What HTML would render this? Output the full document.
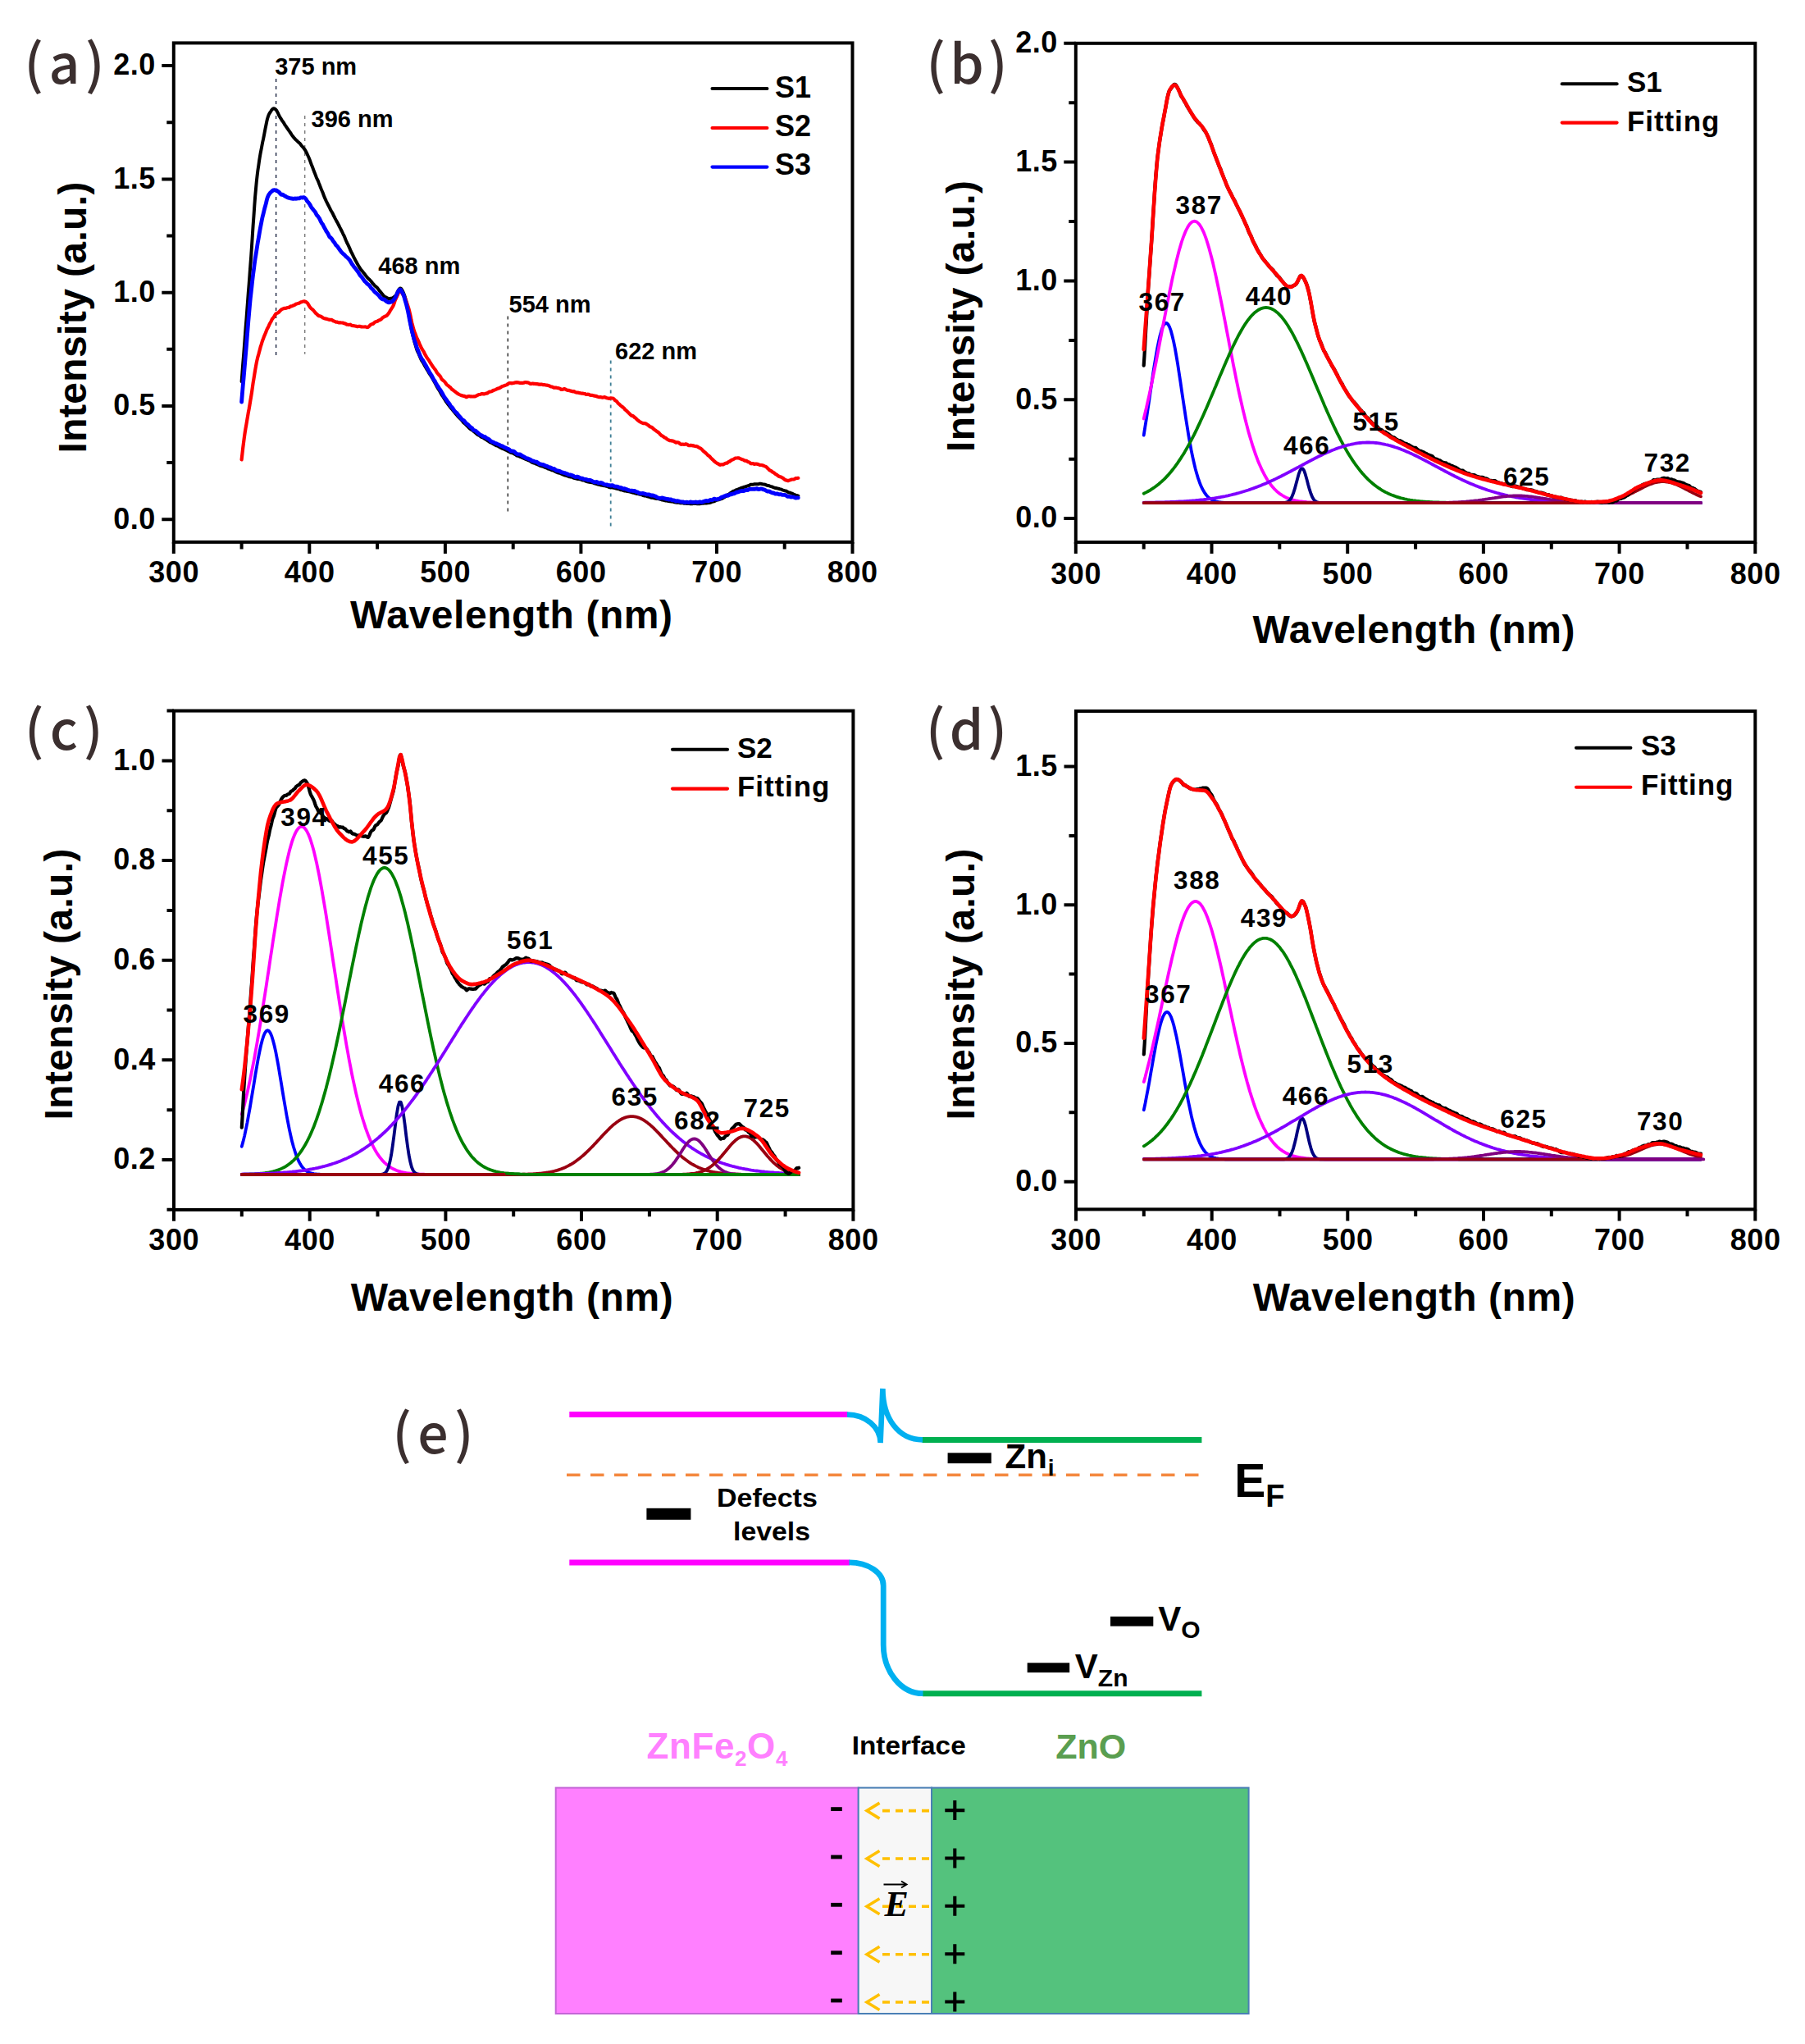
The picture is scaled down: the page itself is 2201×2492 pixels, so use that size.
<!DOCTYPE html>
<html><head><meta charset="utf-8"><title>PL spectra</title>
<style>html,body{margin:0;padding:0;background:#fff}svg{display:block}</style></head>
<body>
<svg width="2201" height="2492" viewBox="0 0 2201 2492">
<rect width="2201" height="2492" fill="#fff"/>
<line x1="336.6" y1="96.0" x2="336.6" y2="434.5" stroke="#1a2340" stroke-width="1.4" stroke-dasharray="4 5"/>
<line x1="371.7" y1="141.0" x2="371.7" y2="431.7" stroke="#7a7a7a" stroke-width="1.4" stroke-dasharray="4 5"/>
<line x1="619.3" y1="385.5" x2="619.3" y2="624.2" stroke="#222" stroke-width="1.4" stroke-dasharray="4 5"/>
<line x1="744.7" y1="439.5" x2="744.7" y2="644.4" stroke="#3f7f95" stroke-width="1.8" stroke-dasharray="4 5"/>
<polyline fill="none" stroke="#000" stroke-width="4.0" stroke-linejoin="round" stroke-linecap="round"  points="294.6,465.2 295.4,454.5 296.2,443.7 297.1,433.0 297.9,422.3 298.7,411.4 299.5,400.3 300.4,389.5 301.2,378.7 302.0,367.9 302.8,357.0 303.7,345.9 304.5,334.9 305.3,323.9 306.2,312.5 307.0,300.2 307.8,287.6 308.6,275.1 309.5,262.9 310.3,251.2 311.1,240.2 312.0,230.2 312.8,221.4 313.6,214.2 314.4,207.8 315.3,201.9 316.1,196.1 316.9,191.0 317.7,186.3 318.6,181.9 319.4,177.6 320.2,173.4 321.1,169.4 321.9,165.4 322.7,161.1 323.5,156.8 324.4,152.5 325.2,148.5 326.0,145.0 326.9,142.1 327.7,139.9 328.5,138.4 329.3,137.1 330.2,135.8 331.0,134.5 331.8,133.5 332.6,132.8 333.5,132.3 334.3,132.3 335.1,132.6 336.0,133.3 336.8,134.1 337.6,135.3 338.4,136.9 339.3,138.7 340.1,140.5 340.9,141.9 341.7,143.3 342.6,144.7 343.4,146.1 344.2,147.3 345.1,148.4 345.9,149.6 346.7,151.0 347.5,152.4 348.4,153.6 349.2,154.7 350.0,156.0 350.9,157.2 351.7,158.4 352.5,159.5 353.3,160.7 354.2,162.0 355.0,163.2 355.8,164.5 356.6,165.7 357.5,166.7 358.3,167.7 359.1,168.7 360.0,169.7 360.8,170.5 361.6,171.1 362.4,171.9 363.3,172.8 364.1,173.6 364.9,174.3 365.8,175.1 366.6,176.1 367.4,177.2 368.2,178.2 369.1,179.1 369.9,180.0 370.7,181.1 371.5,182.2 372.4,183.5 373.2,184.9 374.0,186.7 374.9,188.5 375.7,190.3 376.5,192.0 377.3,194.0 378.2,196.3 379.0,198.6 379.8,200.8 380.7,202.9 381.5,205.0 382.3,207.2 383.1,209.4 384.0,211.5 384.8,213.6 385.6,215.7 386.4,217.6 387.3,219.4 388.1,221.3 388.9,223.4 389.8,225.6 390.6,227.7 391.4,229.8 392.2,231.7 393.1,233.7 393.9,235.8 394.7,238.0 395.5,240.1 396.4,242.1 397.2,243.9 398.0,245.6 398.9,247.4 399.7,249.0 400.5,250.5 401.3,252.1 402.2,253.9 403.0,255.7 403.8,257.1 404.7,258.5 405.5,259.9 406.3,261.6 407.1,263.3 408.0,265.0 408.8,266.6 409.6,268.1 410.4,269.6 411.3,271.1 412.1,272.6 412.9,274.3 413.8,276.0 414.6,277.6 415.4,279.1 416.2,280.8 417.1,282.5 417.9,284.3 418.7,286.0 419.6,287.6 420.4,289.4 421.2,291.4 422.0,293.5 422.9,295.5 423.7,297.1 424.5,298.7 425.3,300.4 426.2,302.3 427.0,304.4 427.8,306.3 428.7,307.9 429.5,309.5 430.3,311.1 431.1,312.8 432.0,314.6 432.8,316.2 433.6,317.8 434.5,319.3 435.3,320.8 436.1,322.2 436.9,323.6 437.8,325.0 438.6,326.4 439.4,327.7 440.2,328.8 441.1,329.8 441.9,330.8 442.7,331.9 443.6,332.9 444.4,333.8 445.2,334.9 446.0,336.0 446.9,337.1 447.7,338.2 448.5,339.0 449.3,339.8 450.2,340.5 451.0,341.3 451.8,342.1 452.7,343.1 453.5,344.2 454.3,345.3 455.1,346.2 456.0,347.2 456.8,348.1 457.6,348.9 458.5,349.5 459.3,350.2 460.1,351.0 460.9,352.1 461.8,353.2 462.6,354.3 463.4,355.2 464.2,356.1 465.1,357.2 465.9,358.2 466.7,359.3 467.6,360.2 468.4,361.2 469.2,361.7 470.0,362.1 470.9,362.6 471.7,363.0 472.5,363.4 473.4,363.9 474.2,364.2 475.0,364.2 475.8,364.0 476.7,363.8 477.5,363.7 478.3,363.4 479.1,363.0 480.0,362.5 480.8,361.9 481.6,361.1 482.5,360.5 483.3,359.3 484.1,357.6 484.9,355.6 485.8,354.0 486.6,352.7 487.4,351.8 488.3,351.5 489.1,351.9 489.9,352.9 490.7,354.4 491.6,356.2 492.4,358.1 493.2,360.2 494.0,362.7 494.9,365.7 495.7,369.1 496.5,373.0 497.4,377.1 498.2,381.6 499.0,386.3 499.8,391.1 500.7,395.8 501.5,400.4 502.3,404.4 503.2,407.8 504.0,411.0 504.8,414.3 505.6,417.4 506.5,420.3 507.3,423.2 508.1,425.8 508.9,428.0 509.8,429.7 510.6,431.5 511.4,433.4 512.3,435.5 513.1,437.4 513.9,439.1 514.7,440.4 515.6,441.7 516.4,443.1 517.2,444.6 518.0,446.1 518.9,447.5 519.7,448.9 520.5,450.3 521.4,451.7 522.2,453.1 523.0,454.5 523.8,455.9 524.7,457.2 525.5,458.4 526.3,459.6 527.2,461.1 528.0,462.6 528.8,464.0 529.6,465.4 530.5,466.9 531.3,468.5 532.1,470.1 532.9,471.7 533.8,473.1 534.6,474.4 535.4,475.6 536.3,477.0 537.1,478.5 537.9,480.1 538.7,481.5 539.6,482.7 540.4,483.9 541.2,485.2 542.1,486.6 542.9,488.0 543.7,489.3 544.5,490.5 545.4,491.6 546.2,492.7 547.0,493.7 547.8,494.9 548.7,496.1 549.5,497.0 550.3,498.0 551.2,498.9 552.0,499.9 552.8,500.9 553.6,501.9 554.5,503.0 555.3,504.1 556.1,505.0 557.0,505.9 557.8,506.9 558.6,507.8 559.4,508.7 560.3,509.6 561.1,510.4 561.9,511.2 562.7,512.0 563.6,513.0 564.4,514.2 565.2,515.2 566.1,516.0 566.9,516.6 567.7,517.3 568.5,518.2 569.4,519.1 570.2,519.9 571.0,520.7 571.8,521.5 572.7,522.4 573.5,523.1 574.3,523.6 575.2,524.0 576.0,524.6 576.8,525.2 577.6,525.9 578.5,526.6 579.3,527.3 580.1,528.0 581.0,528.8 581.8,529.5 582.6,530.0 583.4,530.5 584.3,530.9 585.1,531.4 585.9,532.1 586.7,532.7 587.6,533.1 588.4,533.3 589.2,533.8 590.1,534.3 590.9,534.9 591.7,535.4 592.5,535.8 593.4,536.4 594.2,537.0 595.0,537.6 595.9,538.1 596.7,538.7 597.5,539.1 598.3,539.5 599.2,539.8 600.0,540.2 600.8,540.7 601.6,541.3 602.5,541.8 603.3,542.3 604.1,542.7 605.0,543.2 605.8,543.4 606.6,543.7 607.4,544.0 608.3,544.5 609.1,545.0 609.9,545.4 610.8,545.9 611.6,546.4 612.4,546.8 613.2,547.1 614.1,547.3 614.9,547.7 615.7,548.1 616.5,548.5 617.4,548.8 618.2,549.2 619.0,549.7 619.9,550.2 620.7,550.6 621.5,551.0 622.3,551.5 623.2,551.8 624.0,552.1 624.8,552.3 625.7,552.5 626.5,553.0 627.3,553.5 628.1,554.1 629.0,554.6 629.8,555.2 630.6,555.6 631.4,555.8 632.3,555.9 633.1,556.3 633.9,556.8 634.8,557.0 635.6,557.3 636.4,557.7 637.2,558.2 638.1,558.5 638.9,558.8 639.7,559.3 640.5,559.7 641.4,560.0 642.2,560.3 643.0,560.7 643.9,561.0 644.7,561.3 645.5,561.6 646.3,562.0 647.2,562.6 648.0,563.2 648.8,563.7 649.7,564.1 650.5,564.4 651.3,564.5 652.1,564.8 653.0,565.3 653.8,565.7 654.6,565.9 655.4,566.2 656.3,566.6 657.1,567.0 657.9,567.4 658.8,567.8 659.6,568.1 660.4,568.4 661.2,568.6 662.1,568.7 662.9,569.0 663.7,569.5 664.6,569.9 665.4,570.2 666.2,570.4 667.0,570.7 667.9,571.3 668.7,571.6 669.5,571.8 670.3,572.0 671.2,572.4 672.0,572.8 672.8,573.2 673.7,573.4 674.5,573.6 675.3,573.9 676.1,574.4 677.0,574.8 677.8,575.2 678.6,575.6 679.5,576.1 680.3,576.4 681.1,576.6 681.9,576.7 682.8,576.8 683.6,577.1 684.4,577.6 685.2,578.0 686.1,578.3 686.9,578.7 687.7,579.1 688.6,579.4 689.4,579.5 690.2,579.7 691.0,580.0 691.9,580.4 692.7,580.7 693.5,581.0 694.3,581.2 695.2,581.4 696.0,581.5 696.8,581.6 697.7,581.8 698.5,582.2 699.3,582.6 700.1,582.9 701.0,583.0 701.8,583.2 702.6,583.5 703.5,583.7 704.3,583.9 705.1,584.0 705.9,584.1 706.8,584.2 707.6,584.4 708.4,584.6 709.2,585.0 710.1,585.3 710.9,585.5 711.7,585.6 712.6,585.8 713.4,586.2 714.2,586.6 715.0,586.9 715.9,587.2 716.7,587.4 717.5,587.5 718.4,587.7 719.2,587.9 720.0,588.0 720.8,588.0 721.7,588.2 722.5,588.3 723.3,588.6 724.1,588.9 725.0,589.4 725.8,589.6 726.6,589.8 727.5,590.0 728.3,590.3 729.1,590.5 729.9,590.7 730.8,590.9 731.6,591.2 732.4,591.5 733.3,591.6 734.1,591.7 734.9,591.9 735.7,592.1 736.6,592.2 737.4,592.2 738.2,592.4 739.0,592.7 739.9,592.9 740.7,593.2 741.5,593.5 742.4,593.9 743.2,594.2 744.0,594.3 744.8,594.3 745.7,594.3 746.5,594.3 747.3,594.5 748.1,594.7 749.0,594.9 749.8,595.1 750.6,595.3 751.5,595.6 752.3,595.8 753.1,596.0 753.9,596.1 754.8,596.2 755.6,596.6 756.4,597.0 757.3,597.3 758.1,597.3 758.9,597.5 759.7,597.8 760.6,598.2 761.4,598.4 762.2,598.5 763.0,598.6 763.9,598.8 764.7,598.9 765.5,599.0 766.4,599.2 767.2,599.3 768.0,599.5 768.8,599.7 769.7,600.0 770.5,600.3 771.3,600.5 772.2,600.7 773.0,600.9 773.8,601.2 774.6,601.4 775.5,601.7 776.3,601.9 777.1,602.0 777.9,602.1 778.8,602.3 779.6,602.5 780.4,602.7 781.3,602.9 782.1,603.2 782.9,603.4 783.7,603.8 784.6,604.2 785.4,604.5 786.2,604.6 787.1,604.6 787.9,604.7 788.7,605.0 789.5,605.4 790.4,605.6 791.2,605.7 792.0,605.9 792.8,606.2 793.7,606.6 794.5,606.8 795.3,606.8 796.2,606.8 797.0,607.1 797.8,607.3 798.6,607.5 799.5,607.7 800.3,608.0 801.1,608.1 802.0,608.1 802.8,608.1 803.6,608.3 804.4,608.6 805.3,608.8 806.1,609.0 806.9,609.3 807.7,609.6 808.6,609.7 809.4,609.8 810.2,610.0 811.1,610.3 811.9,610.5 812.7,610.4 813.5,610.5 814.4,610.8 815.2,611.0 816.0,611.0 816.8,611.2 817.7,611.4 818.5,611.6 819.3,611.6 820.2,611.6 821.0,611.8 821.8,612.0 822.6,612.3 823.5,612.4 824.3,612.6 825.1,612.7 826.0,612.8 826.8,612.8 827.6,612.8 828.4,612.8 829.3,613.2 830.1,613.3 830.9,613.3 831.7,613.2 832.6,613.2 833.4,613.5 834.2,613.7 835.1,613.8 835.9,613.7 836.7,613.8 837.5,614.0 838.4,614.0 839.2,614.0 840.0,613.9 840.9,614.0 841.7,614.2 842.5,614.3 843.3,614.3 844.2,614.2 845.0,614.1 845.8,614.0 846.6,614.0 847.5,613.9 848.3,614.0 849.1,614.1 850.0,614.2 850.8,614.3 851.6,614.3 852.4,614.3 853.3,614.2 854.1,614.0 854.9,613.9 855.8,613.8 856.6,613.8 857.4,613.7 858.2,613.6 859.1,613.5 859.9,613.5 860.7,613.6 861.5,613.6 862.4,613.4 863.2,613.2 864.0,613.1 864.9,613.0 865.7,612.9 866.5,612.6 867.3,612.2 868.2,611.8 869.0,611.6 869.8,611.6 870.6,611.4 871.5,611.0 872.3,610.5 873.1,610.0 874.0,609.7 874.8,609.6 875.6,609.5 876.4,609.2 877.3,609.0 878.1,608.7 878.9,608.4 879.8,608.1 880.6,607.7 881.4,607.2 882.2,606.7 883.1,606.3 883.9,605.9 884.7,605.4 885.5,604.7 886.4,604.0 887.2,603.5 888.0,603.0 888.9,602.5 889.7,602.0 890.5,601.3 891.3,600.8 892.2,600.3 893.0,599.6 893.8,599.0 894.7,598.7 895.5,598.5 896.3,598.1 897.1,597.6 898.0,597.2 898.8,597.1 899.6,596.8 900.4,596.4 901.3,595.9 902.1,595.6 902.9,595.3 903.8,594.9 904.6,594.6 905.4,594.4 906.2,594.2 907.1,593.8 907.9,593.7 908.7,593.5 909.6,593.1 910.4,592.8 911.2,592.6 912.0,592.3 912.9,592.1 913.7,591.7 914.5,591.3 915.3,590.8 916.2,590.7 917.0,590.8 917.8,590.8 918.7,590.6 919.5,590.3 920.3,590.3 921.1,590.3 922.0,590.3 922.8,590.3 923.6,590.3 924.4,590.2 925.3,590.0 926.1,589.8 926.9,589.8 927.8,589.8 928.6,589.9 929.4,590.1 930.2,590.4 931.1,590.6 931.9,590.6 932.7,590.7 933.6,591.0 934.4,591.4 935.2,591.8 936.0,592.0 936.9,592.0 937.7,592.2 938.5,592.5 939.3,592.8 940.2,593.1 941.0,593.3 941.8,593.6 942.7,594.0 943.5,594.4 944.3,594.6 945.1,594.9 946.0,595.0 946.8,595.2 947.6,595.3 948.5,595.6 949.3,595.8 950.1,596.0 950.9,596.2 951.8,596.4 952.6,596.7 953.4,597.0 954.2,597.4 955.1,597.7 955.9,597.9 956.7,598.2 957.6,598.4 958.4,598.5 959.2,598.9 960.0,599.4 960.9,600.0 961.7,600.4 962.5,600.5 963.4,600.7 964.2,601.0 965.0,601.3 965.8,601.6 966.7,602.0 967.5,602.5 968.3,602.8 969.1,603.2 970.0,603.6 970.8,603.9 971.6,604.1 972.5,604.2 973.3,604.6"/>
<polyline fill="none" stroke="#ff0000" stroke-width="4.2" stroke-linejoin="round" stroke-linecap="round"  points="294.6,560.4 295.4,553.5 296.2,546.2 297.1,539.2 297.9,532.9 298.7,527.4 299.5,522.3 300.4,517.3 301.2,512.5 302.0,507.8 302.8,503.0 303.7,498.4 304.5,493.6 305.3,488.6 306.2,483.4 307.0,478.3 307.8,472.7 308.6,467.0 309.5,461.7 310.3,456.7 311.1,451.7 312.0,446.5 312.8,442.1 313.6,438.4 314.4,435.1 315.3,432.1 316.1,429.0 316.9,425.9 317.7,422.9 318.6,420.2 319.4,417.5 320.2,415.0 321.1,412.7 321.9,410.6 322.7,408.6 323.5,406.7 324.4,404.6 325.2,402.4 326.0,400.6 326.9,399.1 327.7,397.4 328.5,395.5 329.3,394.0 330.2,392.5 331.0,390.9 331.8,389.1 332.6,388.1 333.5,387.1 334.3,385.9 335.1,384.5 336.0,383.1 336.8,382.3 337.6,381.9 338.4,381.6 339.3,381.1 340.1,380.5 340.9,379.6 341.7,378.7 342.6,377.9 343.4,377.3 344.2,376.8 345.1,376.4 345.9,376.1 346.7,375.9 347.5,375.8 348.4,375.8 349.2,375.6 350.0,375.3 350.9,375.0 351.7,374.9 352.5,374.9 353.3,374.2 354.2,373.6 355.0,373.4 355.8,373.2 356.6,372.9 357.5,372.5 358.3,372.2 359.1,371.9 360.0,371.4 360.8,370.8 361.6,370.5 362.4,370.3 363.3,370.0 364.1,369.8 364.9,369.6 365.8,369.0 366.6,368.5 367.4,368.2 368.2,368.0 369.1,367.7 369.9,367.5 370.7,367.4 371.5,367.4 372.4,367.7 373.2,368.1 374.0,368.7 374.9,369.5 375.7,370.7 376.5,372.1 377.3,373.6 378.2,374.8 379.0,375.6 379.8,376.3 380.7,377.0 381.5,377.7 382.3,378.5 383.1,379.5 384.0,380.6 384.8,381.7 385.6,382.4 386.4,383.0 387.3,383.9 388.1,384.6 388.9,385.1 389.8,385.3 390.6,385.6 391.4,385.8 392.2,386.3 393.1,386.9 393.9,387.6 394.7,387.9 395.5,388.2 396.4,388.4 397.2,388.6 398.0,388.7 398.9,389.0 399.7,389.3 400.5,389.5 401.3,389.8 402.2,390.0 403.0,389.8 403.8,389.8 404.7,390.0 405.5,390.6 406.3,391.2 407.1,391.4 408.0,391.8 408.8,392.2 409.6,392.6 410.4,392.6 411.3,392.7 412.1,393.1 412.9,393.4 413.8,393.4 414.6,393.2 415.4,393.4 416.2,393.5 417.1,393.5 417.9,393.5 418.7,393.9 419.6,394.2 420.4,394.3 421.2,394.6 422.0,395.1 422.9,395.6 423.7,395.6 424.5,395.9 425.3,396.0 426.2,396.0 427.0,395.7 427.8,396.1 428.7,396.6 429.5,397.0 430.3,397.1 431.1,397.0 432.0,397.3 432.8,397.5 433.6,397.6 434.5,397.8 435.3,398.1 436.1,398.2 436.9,398.0 437.8,397.8 438.6,397.8 439.4,398.1 440.2,398.3 441.1,398.4 441.9,398.5 442.7,398.5 443.6,398.5 444.4,398.5 445.2,398.4 446.0,398.5 446.9,398.8 447.7,399.1 448.5,399.0 449.3,398.5 450.2,397.7 451.0,396.8 451.8,396.0 452.7,395.4 453.5,395.1 454.3,395.0 455.1,394.7 456.0,393.8 456.8,393.0 457.6,392.5 458.5,392.2 459.3,392.0 460.1,391.8 460.9,391.2 461.8,390.7 462.6,390.3 463.4,390.0 464.2,389.6 465.1,388.9 465.9,388.1 466.7,387.3 467.6,386.7 468.4,386.1 469.2,385.8 470.0,385.6 470.9,385.2 471.7,384.6 472.5,383.6 473.4,382.7 474.2,381.6 475.0,380.2 475.8,378.7 476.7,377.3 477.5,376.1 478.3,374.9 479.1,373.5 480.0,371.7 480.8,369.3 481.6,366.7 482.5,364.6 483.3,362.8 484.1,361.2 484.9,359.5 485.8,357.3 486.6,354.9 487.4,353.3 488.3,353.1 489.1,354.4 489.9,356.3 490.7,358.2 491.6,359.7 492.4,361.0 493.2,362.3 494.0,363.9 494.9,365.9 495.7,368.1 496.5,370.5 497.4,373.1 498.2,375.6 499.0,378.5 499.8,381.9 500.7,386.0 501.5,390.3 502.3,393.8 503.2,397.1 504.0,400.2 504.8,402.8 505.6,405.0 506.5,407.3 507.3,409.6 508.1,411.6 508.9,413.4 509.8,415.0 510.6,416.8 511.4,418.8 512.3,420.8 513.1,422.6 513.9,424.3 514.7,425.8 515.6,427.1 516.4,428.3 517.2,429.8 518.0,431.6 518.9,433.1 519.7,434.5 520.5,435.9 521.4,437.2 522.2,438.2 523.0,439.3 523.8,440.7 524.7,442.2 525.5,443.5 526.3,444.7 527.2,446.1 528.0,447.2 528.8,448.3 529.6,449.3 530.5,450.3 531.3,451.6 532.1,453.1 532.9,454.4 533.8,455.5 534.6,456.5 535.4,457.3 536.3,458.2 537.1,459.3 537.9,460.9 538.7,462.4 539.6,463.2 540.4,463.8 541.2,464.5 542.1,465.3 542.9,466.3 543.7,467.5 544.5,468.7 545.4,469.5 546.2,470.0 547.0,470.6 547.8,471.4 548.7,472.0 549.5,472.7 550.3,473.7 551.2,474.8 552.0,475.2 552.8,475.8 553.6,476.5 554.5,477.3 555.3,477.8 556.1,478.4 557.0,479.1 557.8,479.7 558.6,480.1 559.4,480.7 560.3,481.1 561.1,481.4 561.9,481.8 562.7,482.2 563.6,482.3 564.4,482.6 565.2,482.8 566.1,482.9 566.9,483.1 567.7,483.7 568.5,484.1 569.4,483.9 570.2,483.4 571.0,483.2 571.8,483.1 572.7,483.2 573.5,483.3 574.3,483.3 575.2,483.4 576.0,483.5 576.8,483.5 577.6,483.3 578.5,483.3 579.3,483.3 580.1,483.0 581.0,482.5 581.8,482.1 582.6,481.8 583.4,481.3 584.3,481.0 585.1,481.0 585.9,480.8 586.7,480.4 587.6,480.0 588.4,480.0 589.2,480.4 590.1,480.5 590.9,480.3 591.7,479.9 592.5,479.6 593.4,479.6 594.2,479.4 595.0,478.9 595.9,478.2 596.7,477.6 597.5,477.6 598.3,477.5 599.2,477.3 600.0,476.9 600.8,476.4 601.6,475.9 602.5,475.7 603.3,475.4 604.1,475.1 605.0,474.7 605.8,474.2 606.6,473.8 607.4,473.6 608.3,473.4 609.1,473.0 609.9,472.6 610.8,472.1 611.6,471.5 612.4,471.0 613.2,470.8 614.1,470.5 614.9,470.2 615.7,469.9 616.5,469.7 617.4,469.3 618.2,468.9 619.0,468.4 619.9,467.8 620.7,467.3 621.5,467.0 622.3,467.1 623.2,467.2 624.0,467.3 624.8,467.2 625.7,467.0 626.5,466.9 627.3,466.7 628.1,466.4 629.0,466.2 629.8,466.3 630.6,466.2 631.4,466.3 632.3,466.4 633.1,466.7 633.9,466.8 634.8,466.9 635.6,466.9 636.4,466.8 637.2,466.8 638.1,466.8 638.9,466.6 639.7,466.2 640.5,466.0 641.4,466.1 642.2,466.4 643.0,466.4 643.9,466.4 644.7,466.7 645.5,467.3 646.3,467.8 647.2,467.9 648.0,467.9 648.8,467.7 649.7,467.6 650.5,467.8 651.3,467.9 652.1,467.9 653.0,468.0 653.8,468.2 654.6,468.1 655.4,468.2 656.3,468.4 657.1,468.6 657.9,468.7 658.8,468.8 659.6,468.6 660.4,468.6 661.2,468.8 662.1,469.2 662.9,469.2 663.7,469.1 664.6,469.3 665.4,469.5 666.2,469.6 667.0,469.7 667.9,469.8 668.7,470.0 669.5,470.3 670.3,470.7 671.2,471.2 672.0,471.4 672.8,471.5 673.7,471.8 674.5,472.2 675.3,472.6 676.1,472.6 677.0,472.5 677.8,472.6 678.6,472.8 679.5,473.0 680.3,473.1 681.1,473.3 681.9,473.5 682.8,473.8 683.6,474.4 684.4,474.9 685.2,474.9 686.1,474.8 686.9,474.5 687.7,474.2 688.6,474.2 689.4,474.5 690.2,475.0 691.0,475.4 691.9,475.8 692.7,475.9 693.5,475.9 694.3,476.1 695.2,476.4 696.0,476.7 696.8,476.8 697.7,477.1 698.5,477.3 699.3,477.2 700.1,477.1 701.0,477.8 701.8,478.3 702.6,478.5 703.5,478.6 704.3,478.6 705.1,478.7 705.9,478.9 706.8,479.1 707.6,479.3 708.4,479.5 709.2,479.6 710.1,479.6 710.9,479.7 711.7,479.9 712.6,480.0 713.4,480.1 714.2,480.6 715.0,481.0 715.9,481.0 716.7,480.7 717.5,480.8 718.4,481.1 719.2,481.5 720.0,481.8 720.8,481.8 721.7,481.8 722.5,482.0 723.3,482.2 724.1,482.4 725.0,482.6 725.8,482.8 726.6,482.9 727.5,483.1 728.3,483.5 729.1,483.8 729.9,484.0 730.8,484.2 731.6,484.2 732.4,484.2 733.3,484.3 734.1,484.6 734.9,484.6 735.7,484.5 736.6,484.2 737.4,484.2 738.2,484.5 739.0,484.9 739.9,485.2 740.7,485.4 741.5,485.5 742.4,485.9 743.2,485.8 744.0,485.5 744.8,485.3 745.7,485.5 746.5,485.5 747.3,485.6 748.1,486.0 749.0,486.8 749.8,487.9 750.6,488.4 751.5,488.9 752.3,489.7 753.1,490.9 753.9,491.8 754.8,492.5 755.6,493.3 756.4,494.1 757.3,494.8 758.1,495.4 758.9,496.1 759.7,496.6 760.6,497.3 761.4,498.3 762.2,499.4 763.0,500.0 763.9,500.8 764.7,501.6 765.5,502.4 766.4,503.1 767.2,504.0 768.0,504.8 768.8,505.7 769.7,506.4 770.5,506.9 771.3,506.9 772.2,507.4 773.0,508.1 773.8,508.9 774.6,509.4 775.5,510.1 776.3,511.0 777.1,511.8 777.9,512.5 778.8,513.1 779.6,513.8 780.4,514.3 781.3,514.7 782.1,515.2 782.9,515.6 783.7,515.9 784.6,516.1 785.4,516.1 786.2,516.2 787.1,516.3 787.9,516.7 788.7,517.3 789.5,517.8 790.4,518.4 791.2,518.9 792.0,519.8 792.8,520.4 793.7,520.6 794.5,520.8 795.3,521.3 796.2,522.2 797.0,523.0 797.8,523.6 798.6,524.2 799.5,524.8 800.3,525.5 801.1,526.1 802.0,526.6 802.8,527.1 803.6,527.8 804.4,528.8 805.3,529.8 806.1,530.6 806.9,531.2 807.7,531.4 808.6,532.0 809.4,532.8 810.2,533.4 811.1,533.8 811.9,534.0 812.7,534.8 813.5,535.5 814.4,536.1 815.2,536.4 816.0,536.9 816.8,537.2 817.7,537.2 818.5,537.3 819.3,537.4 820.2,537.6 821.0,537.8 821.8,538.1 822.6,538.6 823.5,539.2 824.3,539.6 825.1,539.4 826.0,539.3 826.8,539.3 827.6,539.7 828.4,540.4 829.3,541.2 830.1,541.6 830.9,541.8 831.7,541.7 832.6,541.5 833.4,541.7 834.2,541.9 835.1,541.8 835.9,541.4 836.7,541.3 837.5,541.7 838.4,542.2 839.2,542.8 840.0,543.2 840.9,543.2 841.7,542.9 842.5,542.9 843.3,543.1 844.2,543.3 845.0,543.2 845.8,543.4 846.6,543.8 847.5,544.0 848.3,544.1 849.1,544.1 850.0,544.3 850.8,544.7 851.6,545.3 852.4,545.8 853.3,546.2 854.1,546.6 854.9,547.1 855.8,547.8 856.6,548.8 857.4,549.7 858.2,550.3 859.1,551.1 859.9,551.8 860.7,552.4 861.5,553.2 862.4,554.2 863.2,555.0 864.0,555.6 864.9,556.1 865.7,556.9 866.5,557.9 867.3,558.8 868.2,559.6 869.0,560.3 869.8,561.1 870.6,562.0 871.5,562.7 872.3,563.4 873.1,564.0 874.0,564.6 874.8,565.0 875.6,565.4 876.4,565.9 877.3,566.5 878.1,566.8 878.9,566.5 879.8,566.4 880.6,566.4 881.4,566.5 882.2,566.2 883.1,565.7 883.9,565.2 884.7,564.8 885.5,564.7 886.4,564.7 887.2,564.1 888.0,563.4 888.9,562.8 889.7,562.6 890.5,562.1 891.3,561.3 892.2,560.8 893.0,560.5 893.8,560.2 894.7,559.8 895.5,559.3 896.3,558.8 897.1,558.5 898.0,558.5 898.8,558.5 899.6,558.3 900.4,558.3 901.3,558.6 902.1,559.0 902.9,559.3 903.8,559.7 904.6,560.1 905.4,560.3 906.2,560.5 907.1,561.0 907.9,561.6 908.7,561.7 909.6,561.8 910.4,561.9 911.2,562.5 912.0,563.1 912.9,563.3 913.7,563.6 914.5,564.2 915.3,565.1 916.2,565.3 917.0,565.1 917.8,565.0 918.7,565.3 919.5,565.9 920.3,565.8 921.1,565.6 922.0,565.6 922.8,565.7 923.6,565.8 924.4,566.0 925.3,566.4 926.1,566.7 926.9,567.0 927.8,567.0 928.6,567.0 929.4,567.2 930.2,567.4 931.1,567.7 931.9,568.1 932.7,568.4 933.6,568.7 934.4,569.2 935.2,570.1 936.0,570.9 936.9,571.7 937.7,572.6 938.5,573.3 939.3,573.8 940.2,574.1 941.0,574.6 941.8,575.3 942.7,575.8 943.5,576.1 944.3,576.8 945.1,577.7 946.0,578.2 946.8,578.6 947.6,579.1 948.5,579.8 949.3,580.5 950.1,580.9 950.9,581.1 951.8,581.3 952.6,581.7 953.4,582.2 954.2,582.6 955.1,583.1 955.9,583.8 956.7,584.7 957.6,585.2 958.4,585.4 959.2,585.6 960.0,585.9 960.9,586.1 961.7,585.9 962.5,585.6 963.4,585.3 964.2,585.0 965.0,584.6 965.8,584.5 966.7,584.5 967.5,584.5 968.3,584.2 969.1,583.8 970.0,583.3 970.8,583.0 971.6,583.0 972.5,583.0 973.3,582.8"/>
<polyline fill="none" stroke="#0000ff" stroke-width="4.8" stroke-linejoin="round" stroke-linecap="round"  points="294.6,490.0 295.4,480.1 296.2,470.4 297.1,460.8 297.9,451.3 298.7,442.0 299.5,432.2 300.4,422.0 301.2,411.8 302.0,401.8 302.8,391.8 303.7,381.8 304.5,372.5 305.3,364.0 306.2,356.3 307.0,349.0 307.8,341.6 308.6,334.7 309.5,328.1 310.3,321.7 311.1,315.9 312.0,310.7 312.8,305.5 313.6,300.3 314.4,295.2 315.3,290.2 316.1,285.5 316.9,280.9 317.7,276.4 318.6,272.0 319.4,267.8 320.2,264.1 321.1,260.6 321.9,257.2 322.7,254.0 323.5,251.1 324.4,247.9 325.2,244.4 326.0,241.4 326.9,239.1 327.7,237.5 328.5,236.4 329.3,235.3 330.2,234.4 331.0,233.6 331.8,233.0 332.6,232.2 333.5,231.8 334.3,231.7 335.1,231.9 336.0,231.9 336.8,232.0 337.6,232.4 338.4,233.0 339.3,233.6 340.1,234.1 340.9,234.9 341.7,236.1 342.6,237.0 343.4,237.4 344.2,237.2 345.1,237.4 345.9,238.1 346.7,238.7 347.5,239.1 348.4,239.4 349.2,240.0 350.0,240.5 350.9,240.9 351.7,241.1 352.5,241.3 353.3,241.5 354.2,241.8 355.0,242.0 355.8,242.0 356.6,242.1 357.5,242.4 358.3,242.3 359.1,242.1 360.0,242.0 360.8,242.3 361.6,242.2 362.4,241.9 363.3,241.8 364.1,241.8 364.9,241.8 365.8,241.3 366.6,240.9 367.4,240.8 368.2,241.0 369.1,241.0 369.9,240.7 370.7,240.7 371.5,241.1 372.4,241.8 373.2,242.9 374.0,244.3 374.9,245.6 375.7,246.5 376.5,247.4 377.3,248.4 378.2,250.0 379.0,251.5 379.8,252.9 380.7,254.0 381.5,255.1 382.3,256.1 383.1,257.0 384.0,258.0 384.8,259.3 385.6,261.1 386.4,262.4 387.3,263.3 388.1,264.3 388.9,265.5 389.8,266.9 390.6,268.7 391.4,270.4 392.2,271.9 393.1,273.0 393.9,274.2 394.7,275.9 395.5,277.6 396.4,279.1 397.2,280.5 398.0,282.0 398.9,283.2 399.7,284.5 400.5,286.1 401.3,287.8 402.2,289.1 403.0,289.6 403.8,290.3 404.7,291.3 405.5,292.7 406.3,294.0 407.1,294.9 408.0,296.0 408.8,297.4 409.6,298.7 410.4,299.5 411.3,300.3 412.1,301.4 412.9,302.6 413.8,303.9 414.6,305.1 415.4,306.1 416.2,307.2 417.1,308.1 417.9,308.9 418.7,309.6 419.6,310.3 420.4,311.1 421.2,312.0 422.0,312.9 422.9,313.5 423.7,314.2 424.5,315.0 425.3,315.9 426.2,316.9 427.0,318.0 427.8,319.6 428.7,321.1 429.5,322.3 430.3,323.3 431.1,324.6 432.0,325.7 432.8,326.6 433.6,327.6 434.5,328.8 435.3,329.9 436.1,330.8 436.9,332.0 437.8,333.5 438.6,334.9 439.4,336.0 440.2,336.8 441.1,337.7 441.9,338.8 442.7,340.0 443.6,341.3 444.4,342.5 445.2,343.3 446.0,344.0 446.9,344.9 447.7,345.9 448.5,346.5 449.3,347.1 450.2,347.8 451.0,348.8 451.8,350.0 452.7,351.3 453.5,352.0 454.3,352.6 455.1,353.5 456.0,354.8 456.8,355.8 457.6,356.5 458.5,357.2 459.3,357.8 460.1,358.6 460.9,359.3 461.8,360.0 462.6,361.1 463.4,362.3 464.2,363.3 465.1,363.9 465.9,364.5 466.7,364.9 467.6,365.1 468.4,364.9 469.2,365.5 470.0,366.4 470.9,367.2 471.7,367.8 472.5,368.2 473.4,368.7 474.2,368.8 475.0,368.7 475.8,368.4 476.7,368.1 477.5,367.9 478.3,367.4 479.1,366.7 480.0,365.8 480.8,364.8 481.6,363.5 482.5,361.9 483.3,360.1 484.1,358.3 484.9,356.6 485.8,354.9 486.6,353.5 487.4,353.0 488.3,353.2 489.1,354.1 489.9,355.5 490.7,356.9 491.6,358.5 492.4,360.5 493.2,363.3 494.0,366.3 494.9,369.2 495.7,372.2 496.5,375.5 497.4,379.3 498.2,383.3 499.0,387.5 499.8,391.8 500.7,396.0 501.5,399.7 502.3,403.3 503.2,406.8 504.0,410.1 504.8,413.0 505.6,415.5 506.5,417.9 507.3,420.4 508.1,423.0 508.9,425.4 509.8,427.3 510.6,429.3 511.4,431.5 512.3,433.6 513.1,435.4 513.9,436.9 514.7,438.1 515.6,439.3 516.4,440.6 517.2,442.0 518.0,443.4 518.9,444.9 519.7,446.3 520.5,447.8 521.4,449.5 522.2,451.0 523.0,452.4 523.8,453.9 524.7,455.4 525.5,456.6 526.3,457.7 527.2,459.5 528.0,461.3 528.8,462.7 529.6,463.8 530.5,464.9 531.3,466.7 532.1,468.3 532.9,469.6 533.8,470.8 534.6,472.2 535.4,473.4 536.3,474.6 537.1,475.8 537.9,477.1 538.7,478.4 539.6,479.9 540.4,481.5 541.2,483.1 542.1,484.4 542.9,485.5 543.7,486.5 544.5,487.7 545.4,489.1 546.2,490.3 547.0,491.0 547.8,492.1 548.7,493.6 549.5,495.0 550.3,496.0 551.2,496.6 552.0,497.5 552.8,498.9 553.6,500.2 554.5,501.4 555.3,502.2 556.1,502.8 557.0,503.5 557.8,504.5 558.6,505.7 559.4,506.8 560.3,507.7 561.1,508.6 561.9,509.6 562.7,510.6 563.6,511.5 564.4,512.0 565.2,512.5 566.1,513.2 566.9,514.2 567.7,515.3 568.5,516.2 569.4,516.9 570.2,517.4 571.0,518.0 571.8,518.9 572.7,519.8 573.5,520.6 574.3,521.2 575.2,521.7 576.0,522.4 576.8,523.7 577.6,524.5 578.5,524.9 579.3,524.9 580.1,525.3 581.0,526.2 581.8,526.9 582.6,527.6 583.4,528.2 584.3,529.1 585.1,529.8 585.9,530.3 586.7,530.6 587.6,531.0 588.4,531.6 589.2,532.1 590.1,532.3 590.9,532.4 591.7,532.9 592.5,533.7 593.4,534.2 594.2,534.6 595.0,535.0 595.9,535.4 596.7,536.0 597.5,536.9 598.3,537.7 599.2,538.2 600.0,538.6 600.8,538.8 601.6,539.2 602.5,539.7 603.3,540.2 604.1,540.5 605.0,540.7 605.8,541.0 606.6,541.4 607.4,541.7 608.3,542.0 609.1,542.4 609.9,543.0 610.8,543.4 611.6,543.6 612.4,543.8 613.2,544.2 614.1,544.8 614.9,545.4 615.7,545.7 616.5,545.9 617.4,546.3 618.2,546.9 619.0,547.2 619.9,547.4 620.7,547.8 621.5,548.6 622.3,549.4 623.2,549.9 624.0,550.0 624.8,550.0 625.7,550.1 626.5,550.3 627.3,550.8 628.1,551.6 629.0,552.6 629.8,553.2 630.6,553.6 631.4,553.9 632.3,553.9 633.1,553.8 633.9,553.8 634.8,554.4 635.6,555.0 636.4,555.5 637.2,555.9 638.1,556.5 638.9,556.9 639.7,557.2 640.5,557.8 641.4,558.5 642.2,558.8 643.0,558.8 643.9,559.1 644.7,559.6 645.5,560.0 646.3,560.0 647.2,560.5 648.0,561.2 648.8,561.8 649.7,562.0 650.5,562.1 651.3,562.5 652.1,562.9 653.0,563.1 653.8,563.1 654.6,563.2 655.4,563.8 656.3,564.5 657.1,565.1 657.9,565.6 658.8,565.8 659.6,566.0 660.4,566.2 661.2,566.3 662.1,566.3 662.9,566.7 663.7,567.3 664.6,567.7 665.4,567.9 666.2,568.2 667.0,568.4 667.9,568.8 668.7,569.3 669.5,569.7 670.3,569.9 671.2,570.0 672.0,570.4 672.8,570.9 673.7,571.2 674.5,571.3 675.3,571.3 676.1,571.8 677.0,572.5 677.8,573.2 678.6,573.7 679.5,573.9 680.3,574.0 681.1,574.1 681.9,574.2 682.8,574.5 683.6,575.1 684.4,575.6 685.2,575.8 686.1,575.9 686.9,576.3 687.7,576.6 688.6,576.6 689.4,576.9 690.2,577.3 691.0,577.7 691.9,577.9 692.7,578.4 693.5,578.7 694.3,578.8 695.2,578.8 696.0,579.0 696.8,579.3 697.7,579.6 698.5,579.9 699.3,580.4 700.1,580.9 701.0,581.3 701.8,581.5 702.6,581.4 703.5,581.2 704.3,581.2 705.1,581.5 705.9,581.9 706.8,582.3 707.6,582.8 708.4,583.2 709.2,583.1 710.1,583.2 710.9,583.5 711.7,584.0 712.6,584.3 713.4,584.3 714.2,584.3 715.0,584.5 715.9,584.9 716.7,585.3 717.5,585.4 718.4,585.4 719.2,585.4 720.0,585.6 720.8,585.9 721.7,586.2 722.5,586.7 723.3,587.2 724.1,587.6 725.0,587.9 725.8,587.9 726.6,587.6 727.5,587.5 728.3,587.8 729.1,588.6 729.9,588.9 730.8,588.9 731.6,588.7 732.4,588.5 733.3,588.6 734.1,588.9 734.9,589.4 735.7,589.9 736.6,590.4 737.4,590.7 738.2,590.8 739.0,590.8 739.9,590.9 740.7,591.1 741.5,591.6 742.4,591.7 743.2,591.7 744.0,591.9 744.8,592.1 745.7,591.9 746.5,591.6 747.3,591.8 748.1,592.3 749.0,592.8 749.8,593.1 750.6,593.2 751.5,593.2 752.3,593.2 753.1,593.3 753.9,593.8 754.8,594.2 755.6,594.3 756.4,594.4 757.3,594.7 758.1,594.9 758.9,595.2 759.7,595.7 760.6,595.8 761.4,595.7 762.2,595.8 763.0,596.2 763.9,596.5 764.7,596.8 765.5,597.2 766.4,597.5 767.2,597.8 768.0,598.0 768.8,598.2 769.7,598.1 770.5,598.1 771.3,598.4 772.2,598.5 773.0,598.4 773.8,598.4 774.6,598.8 775.5,599.5 776.3,599.7 777.1,599.8 777.9,600.3 778.8,600.9 779.6,601.2 780.4,601.4 781.3,601.7 782.1,601.7 782.9,601.4 783.7,601.4 784.6,601.6 785.4,601.8 786.2,602.0 787.1,602.3 787.9,602.8 788.7,602.8 789.5,602.8 790.4,602.8 791.2,602.9 792.0,603.1 792.8,603.5 793.7,603.9 794.5,604.1 795.3,604.0 796.2,603.9 797.0,604.2 797.8,604.6 798.6,605.0 799.5,605.2 800.3,605.6 801.1,606.2 802.0,606.8 802.8,607.1 803.6,607.2 804.4,607.3 805.3,607.3 806.1,607.2 806.9,607.0 807.7,607.0 808.6,607.2 809.4,607.5 810.2,607.7 811.1,607.9 811.9,608.2 812.7,608.3 813.5,608.3 814.4,608.5 815.2,608.9 816.0,609.1 816.8,608.8 817.7,608.8 818.5,609.1 819.3,609.6 820.2,609.8 821.0,609.8 821.8,609.9 822.6,610.2 823.5,610.7 824.3,611.1 825.1,610.9 826.0,610.7 826.8,610.8 827.6,611.0 828.4,611.3 829.3,611.5 830.1,611.7 830.9,611.8 831.7,611.8 832.6,611.8 833.4,612.1 834.2,612.3 835.1,612.5 835.9,612.4 836.7,612.3 837.5,612.2 838.4,612.4 839.2,612.6 840.0,612.6 840.9,612.3 841.7,612.0 842.5,612.0 843.3,612.2 844.2,612.4 845.0,612.4 845.8,612.4 846.6,612.4 847.5,612.2 848.3,612.0 849.1,612.2 850.0,612.5 850.8,612.4 851.6,612.3 852.4,612.1 853.3,611.9 854.1,612.0 854.9,612.3 855.8,612.3 856.6,612.0 857.4,611.6 858.2,611.4 859.1,611.1 859.9,610.9 860.7,610.6 861.5,610.5 862.4,610.7 863.2,610.8 864.0,610.7 864.9,610.2 865.7,609.6 866.5,609.5 867.3,609.6 868.2,609.7 869.0,609.4 869.8,608.7 870.6,608.1 871.5,608.2 872.3,608.6 873.1,608.9 874.0,608.9 874.8,608.6 875.6,608.4 876.4,608.2 877.3,608.1 878.1,607.6 878.9,606.8 879.8,606.2 880.6,606.0 881.4,605.8 882.2,605.4 883.1,605.1 883.9,604.7 884.7,604.3 885.5,603.9 886.4,603.9 887.2,604.3 888.0,604.2 888.9,603.7 889.7,603.0 890.5,602.7 891.3,602.9 892.2,602.7 893.0,602.3 893.8,601.9 894.7,601.9 895.5,601.7 896.3,601.3 897.1,600.8 898.0,600.2 898.8,600.0 899.6,600.1 900.4,599.8 901.3,599.4 902.1,599.0 902.9,598.8 903.8,598.6 904.6,598.4 905.4,598.4 906.2,598.5 907.1,598.5 907.9,598.2 908.7,597.8 909.6,597.5 910.4,597.5 911.2,597.7 912.0,597.4 912.9,596.9 913.7,596.5 914.5,596.2 915.3,596.2 916.2,596.3 917.0,596.4 917.8,596.4 918.7,596.3 919.5,596.2 920.3,596.4 921.1,596.2 922.0,595.9 922.8,595.7 923.6,595.9 924.4,596.5 925.3,596.6 926.1,596.4 926.9,596.1 927.8,596.0 928.6,596.0 929.4,596.2 930.2,596.6 931.1,596.9 931.9,596.9 932.7,597.3 933.6,597.8 934.4,598.4 935.2,598.8 936.0,599.2 936.9,599.0 937.7,599.0 938.5,599.2 939.3,599.8 940.2,600.2 941.0,600.6 941.8,600.9 942.7,601.0 943.5,601.0 944.3,601.5 945.1,602.0 946.0,602.1 946.8,602.0 947.6,601.9 948.5,602.1 949.3,602.7 950.1,602.8 950.9,602.7 951.8,602.6 952.6,602.9 953.4,603.2 954.2,603.3 955.1,603.3 955.9,603.3 956.7,603.4 957.6,603.6 958.4,604.0 959.2,604.5 960.0,605.1 960.9,605.4 961.7,605.4 962.5,605.3 963.4,605.5 964.2,605.9 965.0,606.0 965.8,605.8 966.7,605.8 967.5,606.0 968.3,606.3 969.1,606.7 970.0,607.0 970.8,607.0 971.6,606.9 972.5,606.8 973.3,606.9"/>
<rect x="211.8" y="52.4" width="827.7" height="608.5" fill="none" stroke="#000" stroke-width="4.0"/>
<path d="M211.8 661.0v14M377.3 661.0v14M542.9 661.0v14M708.4 661.0v14M874.0 661.0v14M1039.5 661.0v14M294.6 661.0v8.5M460.1 661.0v8.5M625.7 661.0v8.5M791.2 661.0v8.5M956.7 661.0v8.5M211.8 633.3h-14.5M211.8 495.0h-14.5M211.8 356.7h-14.5M211.8 218.4h-14.5M211.8 80.1h-14.5M211.8 564.1h-8.5M211.8 425.8h-8.5M211.8 287.6h-8.5M211.8 149.2h-8.5" stroke="#000" stroke-width="4.0" fill="none"/>
<text x="212.1" y="710.0" font-family='"Liberation Sans", Arial, Helvetica, sans-serif' font-size="36" font-weight="bold" text-anchor="middle" fill="#000" letter-spacing="0.6">300</text>
<text x="377.6" y="710.0" font-family='"Liberation Sans", Arial, Helvetica, sans-serif' font-size="36" font-weight="bold" text-anchor="middle" fill="#000" letter-spacing="0.6">400</text>
<text x="543.2" y="710.0" font-family='"Liberation Sans", Arial, Helvetica, sans-serif' font-size="36" font-weight="bold" text-anchor="middle" fill="#000" letter-spacing="0.6">500</text>
<text x="708.7" y="710.0" font-family='"Liberation Sans", Arial, Helvetica, sans-serif' font-size="36" font-weight="bold" text-anchor="middle" fill="#000" letter-spacing="0.6">600</text>
<text x="874.3" y="710.0" font-family='"Liberation Sans", Arial, Helvetica, sans-serif' font-size="36" font-weight="bold" text-anchor="middle" fill="#000" letter-spacing="0.6">700</text>
<text x="1039.8" y="710.0" font-family='"Liberation Sans", Arial, Helvetica, sans-serif' font-size="36" font-weight="bold" text-anchor="middle" fill="#000" letter-spacing="0.6">800</text>
<text x="190.0" y="644.6" font-family='"Liberation Sans", Arial, Helvetica, sans-serif' font-size="36" font-weight="bold" text-anchor="end" fill="#000" letter-spacing="0.6">0.0</text>
<text x="190.0" y="506.3" font-family='"Liberation Sans", Arial, Helvetica, sans-serif' font-size="36" font-weight="bold" text-anchor="end" fill="#000" letter-spacing="0.6">0.5</text>
<text x="190.0" y="368.0" font-family='"Liberation Sans", Arial, Helvetica, sans-serif' font-size="36" font-weight="bold" text-anchor="end" fill="#000" letter-spacing="0.6">1.0</text>
<text x="190.0" y="229.7" font-family='"Liberation Sans", Arial, Helvetica, sans-serif' font-size="36" font-weight="bold" text-anchor="end" fill="#000" letter-spacing="0.6">1.5</text>
<text x="190.0" y="91.4" font-family='"Liberation Sans", Arial, Helvetica, sans-serif' font-size="36" font-weight="bold" text-anchor="end" fill="#000" letter-spacing="0.6">2.0</text>
<text x="623.6" y="766.0" font-family='"Liberation Sans", Arial, Helvetica, sans-serif' font-size="48" font-weight="bold" text-anchor="middle" fill="#000" textLength="393" lengthAdjust="spacing">Wavelength (nm)</text>
<text transform="translate(105.0 387.0) rotate(-90)" font-family='"Liberation Sans", Arial, Helvetica, sans-serif' font-size="48" font-weight="bold" text-anchor="middle" textLength="331" lengthAdjust="spacing">Intensity (a.u.)</text>
<line x1="868.5" y1="108.0" x2="935.4" y2="108.0" stroke="#000" stroke-width="4.1" stroke-linecap="round"/>
<text x="945.0" y="119.0" font-family='"Liberation Sans", Arial, Helvetica, sans-serif' font-size="36" font-weight="bold" text-anchor="start" fill="#000" >S1</text>
<line x1="868.5" y1="156.0" x2="935.4" y2="156.0" stroke="#ff0000" stroke-width="4.1" stroke-linecap="round"/>
<text x="945.0" y="165.6" font-family='"Liberation Sans", Arial, Helvetica, sans-serif' font-size="36" font-weight="bold" text-anchor="start" fill="#000" >S2</text>
<line x1="868.5" y1="203.6" x2="935.4" y2="203.6" stroke="#0000ff" stroke-width="4.1" stroke-linecap="round"/>
<text x="945.0" y="212.7" font-family='"Liberation Sans", Arial, Helvetica, sans-serif' font-size="36" font-weight="bold" text-anchor="start" fill="#000" >S3</text>
<text x="335.2" y="91.4" font-family='"Liberation Sans", Arial, Helvetica, sans-serif' font-size="29" font-weight="bold" text-anchor="start" fill="#000" >375 nm</text>
<text x="379.5" y="154.6" font-family='"Liberation Sans", Arial, Helvetica, sans-serif' font-size="29" font-weight="bold" text-anchor="start" fill="#000" >396 nm</text>
<text x="461.3" y="334.0" font-family='"Liberation Sans", Arial, Helvetica, sans-serif' font-size="29" font-weight="bold" text-anchor="start" fill="#000" >468 nm</text>
<text x="620.6" y="381.2" font-family='"Liberation Sans", Arial, Helvetica, sans-serif' font-size="29" font-weight="bold" text-anchor="start" fill="#000" >554 nm</text>
<text x="750.0" y="437.5" font-family='"Liberation Sans", Arial, Helvetica, sans-serif' font-size="29" font-weight="bold" text-anchor="start" fill="#000" >622 nm</text>
<polyline fill="none" stroke="#0000ff" stroke-width="3.8" stroke-linejoin="round" stroke-linecap="round"  points="1394.7,530.6 1396.3,520.5 1398.0,510.0 1399.6,499.1 1401.3,488.0 1402.9,476.7 1404.6,465.5 1406.2,454.5 1407.9,443.9 1409.6,433.9 1411.2,424.7 1412.9,416.4 1414.5,409.2 1416.2,403.2 1417.8,398.7 1419.5,395.6 1421.2,394.0 1422.8,394.0 1424.5,395.6 1426.1,398.7 1427.8,403.2 1429.4,409.2 1431.1,416.4 1432.8,424.7 1434.4,433.9 1436.1,443.9 1437.7,454.5 1439.4,465.5 1441.0,476.7 1442.7,488.0 1444.4,499.1 1446.0,510.0 1447.7,520.5 1449.3,530.6 1451.0,540.1 1452.6,548.9 1454.3,557.1 1456.0,564.6 1457.6,571.4 1459.3,577.5 1460.9,582.9 1462.6,587.7 1464.2,591.9 1465.9,595.5 1467.6,598.6 1469.2,601.2 1470.9,603.5 1472.5,605.3 1474.2,606.9 1475.8,608.1 1477.5,609.2 1479.2,610.0 1480.8,610.7 1482.5,611.3 1484.1,611.7 1485.8,612.0 1487.4,612.3 1489.1,612.5 1490.8,612.6 1492.4,612.8 1494.1,612.8 1495.7,612.9 1497.4,613.0 1499.0,613.0 1500.7,613.0 1502.4,613.0 1504.0,613.1 1505.7,613.1 1507.3,613.1 1509.0,613.1 1510.6,613.1 1512.3,613.1 1514.0,613.1 1515.6,613.1 1517.3,613.1 1518.9,613.1 1520.6,613.1 1522.2,613.1 1523.9,613.1 1525.6,613.1 1527.2,613.1 1528.9,613.1 1530.5,613.1 1532.2,613.1 1533.8,613.1 1535.5,613.1 1537.2,613.1 1538.8,613.1 1540.5,613.1 1542.1,613.1 1543.8,613.1 1545.4,613.1 1547.1,613.1 1548.8,613.1 1550.4,613.1 1552.1,613.1 1553.7,613.1 1555.4,613.1 1557.0,613.1 1558.7,613.1 1560.3,613.1 1562.0,613.1 1563.7,613.1 1565.3,613.1 1567.0,613.1 1568.6,613.1 1570.3,613.1 1571.9,613.1 1573.6,613.1 1575.3,613.1 1576.9,613.1 1578.6,613.1 1580.2,613.1 1581.9,613.1 1583.5,613.1 1585.2,613.1 1586.9,613.1 1588.5,613.1 1590.2,613.1 1591.8,613.1 1593.5,613.1 1595.1,613.1 1596.8,613.1 1598.5,613.1 1600.1,613.1 1601.8,613.1 1603.4,613.1 1605.1,613.1 1606.7,613.1 1608.4,613.1 1610.1,613.1 1611.7,613.1 1613.4,613.1 1615.0,613.1 1616.7,613.1 1618.3,613.1 1620.0,613.1 1621.7,613.1 1623.3,613.1 1625.0,613.1 1626.6,613.1 1628.3,613.1 1629.9,613.1 1631.6,613.1 1633.3,613.1 1634.9,613.1 1636.6,613.1 1638.2,613.1 1639.9,613.1 1641.5,613.1 1643.2,613.1 1644.9,613.1 1646.5,613.1 1648.2,613.1 1649.8,613.1 1651.5,613.1 1653.1,613.1 1654.8,613.1 1656.5,613.1 1658.1,613.1 1659.8,613.1 1661.4,613.1 1663.1,613.1 1664.7,613.1 1666.4,613.1 1668.1,613.1 1669.7,613.1 1671.4,613.1 1673.0,613.1 1674.7,613.1 1676.3,613.1 1678.0,613.1 1679.7,613.1 1681.3,613.1 1683.0,613.1 1684.6,613.1 1686.3,613.1 1687.9,613.1 1689.6,613.1 1691.3,613.1 1692.9,613.1 1694.6,613.1 1696.2,613.1 1697.9,613.1 1699.5,613.1 1701.2,613.1 1702.9,613.1 1704.5,613.1 1706.2,613.1 1707.8,613.1 1709.5,613.1 1711.1,613.1 1712.8,613.1 1714.5,613.1 1716.1,613.1 1717.8,613.1 1719.4,613.1 1721.1,613.1 1722.7,613.1 1724.4,613.1 1726.1,613.1 1727.7,613.1 1729.4,613.1 1731.0,613.1 1732.7,613.1 1734.3,613.1 1736.0,613.1 1737.6,613.1 1739.3,613.1 1741.0,613.1 1742.6,613.1 1744.3,613.1 1745.9,613.1 1747.6,613.1 1749.2,613.1 1750.9,613.1 1752.6,613.1 1754.2,613.1 1755.9,613.1 1757.5,613.1 1759.2,613.1 1760.8,613.1 1762.5,613.1 1764.2,613.1 1765.8,613.1 1767.5,613.1 1769.1,613.1 1770.8,613.1 1772.4,613.1 1774.1,613.1 1775.8,613.1 1777.4,613.1 1779.1,613.1 1780.7,613.1 1782.4,613.1 1784.0,613.1 1785.7,613.1 1787.4,613.1 1789.0,613.1 1790.7,613.1 1792.3,613.1 1794.0,613.1 1795.6,613.1 1797.3,613.1 1799.0,613.1 1800.6,613.1 1802.3,613.1 1803.9,613.1 1805.6,613.1 1807.2,613.1 1808.9,613.1 1810.6,613.1 1812.2,613.1 1813.9,613.1 1815.5,613.1 1817.2,613.1 1818.8,613.1 1820.5,613.1 1822.2,613.1 1823.8,613.1 1825.5,613.1 1827.1,613.1 1828.8,613.1 1830.4,613.1 1832.1,613.1 1833.8,613.1 1835.4,613.1 1837.1,613.1 1838.7,613.1 1840.4,613.1 1842.0,613.1 1843.7,613.1 1845.4,613.1 1847.0,613.1 1848.7,613.1 1850.3,613.1 1852.0,613.1 1853.6,613.1 1855.3,613.1 1857.0,613.1 1858.6,613.1 1860.3,613.1 1861.9,613.1 1863.6,613.1 1865.2,613.1 1866.9,613.1 1868.6,613.1 1870.2,613.1 1871.9,613.1 1873.5,613.1 1875.2,613.1 1876.8,613.1 1878.5,613.1 1880.2,613.1 1881.8,613.1 1883.5,613.1 1885.1,613.1 1886.8,613.1 1888.4,613.1 1890.1,613.1 1891.8,613.1 1893.4,613.1 1895.1,613.1 1896.7,613.1 1898.4,613.1 1900.0,613.1 1901.7,613.1 1903.3,613.1 1905.0,613.1 1906.7,613.1 1908.3,613.1 1910.0,613.1 1911.6,613.1 1913.3,613.1 1914.9,613.1 1916.6,613.1 1918.3,613.1 1919.9,613.1 1921.6,613.1 1923.2,613.1 1924.9,613.1 1926.5,613.1 1928.2,613.1 1929.9,613.1 1931.5,613.1 1933.2,613.1 1934.8,613.1 1936.5,613.1 1938.1,613.1 1939.8,613.1 1941.5,613.1 1943.1,613.1 1944.8,613.1 1946.4,613.1 1948.1,613.1 1949.7,613.1 1951.4,613.1 1953.1,613.1 1954.7,613.1 1956.4,613.1 1958.0,613.1 1959.7,613.1 1961.3,613.1 1963.0,613.1 1964.7,613.1 1966.3,613.1 1968.0,613.1 1969.6,613.1 1971.3,613.1 1972.9,613.1 1974.6,613.1 1976.3,613.1 1977.9,613.1 1979.6,613.1 1981.2,613.1 1982.9,613.1 1984.5,613.1 1986.2,613.1 1987.9,613.1 1989.5,613.1 1991.2,613.1 1992.8,613.1 1994.5,613.1 1996.1,613.1 1997.8,613.1 1999.5,613.1 2001.1,613.1 2002.8,613.1 2004.4,613.1 2006.1,613.1 2007.7,613.1 2009.4,613.1 2011.1,613.1 2012.7,613.1 2014.4,613.1 2016.0,613.1 2017.7,613.1 2019.3,613.1 2021.0,613.1 2022.7,613.1 2024.3,613.1 2026.0,613.1 2027.6,613.1 2029.3,613.1 2030.9,613.1 2032.6,613.1 2034.3,613.1 2035.9,613.1 2037.6,613.1 2039.2,613.1 2040.9,613.1 2042.5,613.1 2044.2,613.1 2045.9,613.1 2047.5,613.1 2049.2,613.1 2050.8,613.1 2052.5,613.1 2054.1,613.1 2055.8,613.1 2057.5,613.1 2059.1,613.1 2060.8,613.1 2062.4,613.1 2064.1,613.1 2065.7,613.1 2067.4,613.1 2069.0,613.1 2070.7,613.1 2072.4,613.1 2074.0,613.1"/>
<polyline fill="none" stroke="#ff00ff" stroke-width="3.8" stroke-linejoin="round" stroke-linecap="round"  points="1394.7,510.5 1396.3,503.7 1398.0,496.7 1399.6,489.4 1401.3,481.9 1402.9,474.3 1404.6,466.4 1406.2,458.3 1407.9,450.1 1409.6,441.8 1411.2,433.3 1412.9,424.7 1414.5,416.1 1416.2,407.4 1417.8,398.7 1419.5,390.1 1421.2,381.5 1422.8,373.0 1424.5,364.6 1426.1,356.3 1427.8,348.3 1429.4,340.4 1431.1,332.9 1432.8,325.6 1434.4,318.6 1436.1,312.0 1437.7,305.7 1439.4,299.9 1441.0,294.5 1442.7,289.6 1444.4,285.2 1446.0,281.3 1447.7,278.0 1449.3,275.2 1451.0,272.9 1452.6,271.3 1454.3,270.2 1456.0,269.7 1457.6,269.9 1459.3,270.6 1460.9,271.9 1462.6,273.8 1464.2,276.2 1465.9,279.3 1467.6,282.8 1469.2,286.9 1470.9,291.5 1472.5,296.6 1474.2,302.2 1475.8,308.2 1477.5,314.6 1479.2,321.3 1480.8,328.4 1482.5,335.9 1484.1,343.5 1485.8,351.5 1487.4,359.6 1489.1,367.9 1490.8,376.4 1492.4,384.9 1494.1,393.5 1495.7,402.2 1497.4,410.9 1499.0,419.5 1500.7,428.2 1502.4,436.7 1504.0,445.1 1505.7,453.4 1507.3,461.6 1509.0,469.6 1510.6,477.4 1512.3,485.0 1514.0,492.4 1515.6,499.5 1517.3,506.4 1518.9,513.1 1520.6,519.5 1522.2,525.7 1523.9,531.6 1525.6,537.2 1527.2,542.6 1528.9,547.6 1530.5,552.5 1532.2,557.1 1533.8,561.4 1535.5,565.4 1537.2,569.3 1538.8,572.9 1540.5,576.2 1542.1,579.3 1543.8,582.3 1545.4,585.0 1547.1,587.5 1548.8,589.9 1550.4,592.0 1552.1,594.0 1553.7,595.8 1555.4,597.5 1557.0,599.1 1558.7,600.5 1560.3,601.8 1562.0,602.9 1563.7,604.0 1565.3,605.0 1567.0,605.9 1568.6,606.7 1570.3,607.4 1571.9,608.0 1573.6,608.6 1575.3,609.1 1576.9,609.6 1578.6,610.0 1580.2,610.4 1581.9,610.7 1583.5,611.0 1585.2,611.3 1586.9,611.5 1588.5,611.7 1590.2,611.9 1591.8,612.0 1593.5,612.2 1595.1,612.3 1596.8,612.4 1598.5,612.5 1600.1,612.6 1601.8,612.7 1603.4,612.7 1605.1,612.8 1606.7,612.8 1608.4,612.9 1610.1,612.9 1611.7,612.9 1613.4,612.9 1615.0,613.0 1616.7,613.0 1618.3,613.0 1620.0,613.0 1621.7,613.0 1623.3,613.0 1625.0,613.0 1626.6,613.1 1628.3,613.1 1629.9,613.1 1631.6,613.1 1633.3,613.1 1634.9,613.1 1636.6,613.1 1638.2,613.1 1639.9,613.1 1641.5,613.1 1643.2,613.1 1644.9,613.1 1646.5,613.1 1648.2,613.1 1649.8,613.1 1651.5,613.1 1653.1,613.1 1654.8,613.1 1656.5,613.1 1658.1,613.1 1659.8,613.1 1661.4,613.1 1663.1,613.1 1664.7,613.1 1666.4,613.1 1668.1,613.1 1669.7,613.1 1671.4,613.1 1673.0,613.1 1674.7,613.1 1676.3,613.1 1678.0,613.1 1679.7,613.1 1681.3,613.1 1683.0,613.1 1684.6,613.1 1686.3,613.1 1687.9,613.1 1689.6,613.1 1691.3,613.1 1692.9,613.1 1694.6,613.1 1696.2,613.1 1697.9,613.1 1699.5,613.1 1701.2,613.1 1702.9,613.1 1704.5,613.1 1706.2,613.1 1707.8,613.1 1709.5,613.1 1711.1,613.1 1712.8,613.1 1714.5,613.1 1716.1,613.1 1717.8,613.1 1719.4,613.1 1721.1,613.1 1722.7,613.1 1724.4,613.1 1726.1,613.1 1727.7,613.1 1729.4,613.1 1731.0,613.1 1732.7,613.1 1734.3,613.1 1736.0,613.1 1737.6,613.1 1739.3,613.1 1741.0,613.1 1742.6,613.1 1744.3,613.1 1745.9,613.1 1747.6,613.1 1749.2,613.1 1750.9,613.1 1752.6,613.1 1754.2,613.1 1755.9,613.1 1757.5,613.1 1759.2,613.1 1760.8,613.1 1762.5,613.1 1764.2,613.1 1765.8,613.1 1767.5,613.1 1769.1,613.1 1770.8,613.1 1772.4,613.1 1774.1,613.1 1775.8,613.1 1777.4,613.1 1779.1,613.1 1780.7,613.1 1782.4,613.1 1784.0,613.1 1785.7,613.1 1787.4,613.1 1789.0,613.1 1790.7,613.1 1792.3,613.1 1794.0,613.1 1795.6,613.1 1797.3,613.1 1799.0,613.1 1800.6,613.1 1802.3,613.1 1803.9,613.1 1805.6,613.1 1807.2,613.1 1808.9,613.1 1810.6,613.1 1812.2,613.1 1813.9,613.1 1815.5,613.1 1817.2,613.1 1818.8,613.1 1820.5,613.1 1822.2,613.1 1823.8,613.1 1825.5,613.1 1827.1,613.1 1828.8,613.1 1830.4,613.1 1832.1,613.1 1833.8,613.1 1835.4,613.1 1837.1,613.1 1838.7,613.1 1840.4,613.1 1842.0,613.1 1843.7,613.1 1845.4,613.1 1847.0,613.1 1848.7,613.1 1850.3,613.1 1852.0,613.1 1853.6,613.1 1855.3,613.1 1857.0,613.1 1858.6,613.1 1860.3,613.1 1861.9,613.1 1863.6,613.1 1865.2,613.1 1866.9,613.1 1868.6,613.1 1870.2,613.1 1871.9,613.1 1873.5,613.1 1875.2,613.1 1876.8,613.1 1878.5,613.1 1880.2,613.1 1881.8,613.1 1883.5,613.1 1885.1,613.1 1886.8,613.1 1888.4,613.1 1890.1,613.1 1891.8,613.1 1893.4,613.1 1895.1,613.1 1896.7,613.1 1898.4,613.1 1900.0,613.1 1901.7,613.1 1903.3,613.1 1905.0,613.1 1906.7,613.1 1908.3,613.1 1910.0,613.1 1911.6,613.1 1913.3,613.1 1914.9,613.1 1916.6,613.1 1918.3,613.1 1919.9,613.1 1921.6,613.1 1923.2,613.1 1924.9,613.1 1926.5,613.1 1928.2,613.1 1929.9,613.1 1931.5,613.1 1933.2,613.1 1934.8,613.1 1936.5,613.1 1938.1,613.1 1939.8,613.1 1941.5,613.1 1943.1,613.1 1944.8,613.1 1946.4,613.1 1948.1,613.1 1949.7,613.1 1951.4,613.1 1953.1,613.1 1954.7,613.1 1956.4,613.1 1958.0,613.1 1959.7,613.1 1961.3,613.1 1963.0,613.1 1964.7,613.1 1966.3,613.1 1968.0,613.1 1969.6,613.1 1971.3,613.1 1972.9,613.1 1974.6,613.1 1976.3,613.1 1977.9,613.1 1979.6,613.1 1981.2,613.1 1982.9,613.1 1984.5,613.1 1986.2,613.1 1987.9,613.1 1989.5,613.1 1991.2,613.1 1992.8,613.1 1994.5,613.1 1996.1,613.1 1997.8,613.1 1999.5,613.1 2001.1,613.1 2002.8,613.1 2004.4,613.1 2006.1,613.1 2007.7,613.1 2009.4,613.1 2011.1,613.1 2012.7,613.1 2014.4,613.1 2016.0,613.1 2017.7,613.1 2019.3,613.1 2021.0,613.1 2022.7,613.1 2024.3,613.1 2026.0,613.1 2027.6,613.1 2029.3,613.1 2030.9,613.1 2032.6,613.1 2034.3,613.1 2035.9,613.1 2037.6,613.1 2039.2,613.1 2040.9,613.1 2042.5,613.1 2044.2,613.1 2045.9,613.1 2047.5,613.1 2049.2,613.1 2050.8,613.1 2052.5,613.1 2054.1,613.1 2055.8,613.1 2057.5,613.1 2059.1,613.1 2060.8,613.1 2062.4,613.1 2064.1,613.1 2065.7,613.1 2067.4,613.1 2069.0,613.1 2070.7,613.1 2072.4,613.1 2074.0,613.1"/>
<polyline fill="none" stroke="#008000" stroke-width="3.8" stroke-linejoin="round" stroke-linecap="round"  points="1394.7,601.7 1396.3,600.9 1398.0,600.1 1399.6,599.2 1401.3,598.3 1402.9,597.3 1404.6,596.2 1406.2,595.1 1407.9,594.0 1409.6,592.8 1411.2,591.5 1412.9,590.2 1414.5,588.8 1416.2,587.4 1417.8,585.8 1419.5,584.3 1421.2,582.6 1422.8,580.9 1424.5,579.1 1426.1,577.2 1427.8,575.2 1429.4,573.2 1431.1,571.1 1432.8,568.9 1434.4,566.7 1436.1,564.3 1437.7,561.9 1439.4,559.4 1441.0,556.8 1442.7,554.2 1444.4,551.4 1446.0,548.6 1447.7,545.7 1449.3,542.8 1451.0,539.7 1452.6,536.6 1454.3,533.4 1456.0,530.1 1457.6,526.8 1459.3,523.4 1460.9,519.9 1462.6,516.4 1464.2,512.8 1465.9,509.2 1467.6,505.5 1469.2,501.8 1470.9,498.0 1472.5,494.2 1474.2,490.3 1475.8,486.4 1477.5,482.5 1479.2,478.6 1480.8,474.6 1482.5,470.7 1484.1,466.7 1485.8,462.8 1487.4,458.8 1489.1,454.9 1490.8,451.0 1492.4,447.1 1494.1,443.3 1495.7,439.5 1497.4,435.7 1499.0,432.0 1500.7,428.4 1502.4,424.8 1504.0,421.3 1505.7,417.9 1507.3,414.6 1509.0,411.3 1510.6,408.2 1512.3,405.2 1514.0,402.3 1515.6,399.5 1517.3,396.8 1518.9,394.3 1520.6,391.9 1522.2,389.7 1523.9,387.6 1525.6,385.6 1527.2,383.8 1528.9,382.2 1530.5,380.7 1532.2,379.4 1533.8,378.2 1535.5,377.3 1537.2,376.5 1538.8,375.8 1540.5,375.4 1542.1,375.1 1543.8,375.0 1545.4,375.1 1547.1,375.4 1548.8,375.8 1550.4,376.5 1552.1,377.3 1553.7,378.2 1555.4,379.4 1557.0,380.7 1558.7,382.2 1560.3,383.8 1562.0,385.6 1563.7,387.6 1565.3,389.7 1567.0,391.9 1568.6,394.3 1570.3,396.8 1571.9,399.5 1573.6,402.3 1575.3,405.2 1576.9,408.2 1578.6,411.3 1580.2,414.6 1581.9,417.9 1583.5,421.3 1585.2,424.8 1586.9,428.4 1588.5,432.0 1590.2,435.7 1591.8,439.5 1593.5,443.3 1595.1,447.1 1596.8,451.0 1598.5,454.9 1600.1,458.8 1601.8,462.8 1603.4,466.7 1605.1,470.7 1606.7,474.6 1608.4,478.6 1610.1,482.5 1611.7,486.4 1613.4,490.3 1615.0,494.2 1616.7,498.0 1618.3,501.8 1620.0,505.5 1621.7,509.2 1623.3,512.8 1625.0,516.4 1626.6,519.9 1628.3,523.4 1629.9,526.8 1631.6,530.1 1633.3,533.4 1634.9,536.6 1636.6,539.7 1638.2,542.8 1639.9,545.7 1641.5,548.6 1643.2,551.4 1644.9,554.2 1646.5,556.8 1648.2,559.4 1649.8,561.9 1651.5,564.3 1653.1,566.7 1654.8,568.9 1656.5,571.1 1658.1,573.2 1659.8,575.2 1661.4,577.2 1663.1,579.1 1664.7,580.9 1666.4,582.6 1668.1,584.3 1669.7,585.8 1671.4,587.4 1673.0,588.8 1674.7,590.2 1676.3,591.5 1678.0,592.8 1679.7,594.0 1681.3,595.1 1683.0,596.2 1684.6,597.3 1686.3,598.3 1687.9,599.2 1689.6,600.1 1691.3,600.9 1692.9,601.7 1694.6,602.4 1696.2,603.2 1697.9,603.8 1699.5,604.4 1701.2,605.0 1702.9,605.6 1704.5,606.1 1706.2,606.6 1707.8,607.1 1709.5,607.5 1711.1,607.9 1712.8,608.3 1714.5,608.6 1716.1,609.0 1717.8,609.3 1719.4,609.6 1721.1,609.8 1722.7,610.1 1724.4,610.3 1726.1,610.5 1727.7,610.8 1729.4,610.9 1731.0,611.1 1732.7,611.3 1734.3,611.4 1736.0,611.6 1737.6,611.7 1739.3,611.8 1741.0,611.9 1742.6,612.0 1744.3,612.1 1745.9,612.2 1747.6,612.3 1749.2,612.3 1750.9,612.4 1752.6,612.5 1754.2,612.5 1755.9,612.6 1757.5,612.6 1759.2,612.7 1760.8,612.7 1762.5,612.7 1764.2,612.8 1765.8,612.8 1767.5,612.8 1769.1,612.9 1770.8,612.9 1772.4,612.9 1774.1,612.9 1775.8,612.9 1777.4,613.0 1779.1,613.0 1780.7,613.0 1782.4,613.0 1784.0,613.0 1785.7,613.0 1787.4,613.0 1789.0,613.0 1790.7,613.0 1792.3,613.0 1794.0,613.0 1795.6,613.0 1797.3,613.1 1799.0,613.1 1800.6,613.1 1802.3,613.1 1803.9,613.1 1805.6,613.1 1807.2,613.1 1808.9,613.1 1810.6,613.1 1812.2,613.1 1813.9,613.1 1815.5,613.1 1817.2,613.1 1818.8,613.1 1820.5,613.1 1822.2,613.1 1823.8,613.1 1825.5,613.1 1827.1,613.1 1828.8,613.1 1830.4,613.1 1832.1,613.1 1833.8,613.1 1835.4,613.1 1837.1,613.1 1838.7,613.1 1840.4,613.1 1842.0,613.1 1843.7,613.1 1845.4,613.1 1847.0,613.1 1848.7,613.1 1850.3,613.1 1852.0,613.1 1853.6,613.1 1855.3,613.1 1857.0,613.1 1858.6,613.1 1860.3,613.1 1861.9,613.1 1863.6,613.1 1865.2,613.1 1866.9,613.1 1868.6,613.1 1870.2,613.1 1871.9,613.1 1873.5,613.1 1875.2,613.1 1876.8,613.1 1878.5,613.1 1880.2,613.1 1881.8,613.1 1883.5,613.1 1885.1,613.1 1886.8,613.1 1888.4,613.1 1890.1,613.1 1891.8,613.1 1893.4,613.1 1895.1,613.1 1896.7,613.1 1898.4,613.1 1900.0,613.1 1901.7,613.1 1903.3,613.1 1905.0,613.1 1906.7,613.1 1908.3,613.1 1910.0,613.1 1911.6,613.1 1913.3,613.1 1914.9,613.1 1916.6,613.1 1918.3,613.1 1919.9,613.1 1921.6,613.1 1923.2,613.1 1924.9,613.1 1926.5,613.1 1928.2,613.1 1929.9,613.1 1931.5,613.1 1933.2,613.1 1934.8,613.1 1936.5,613.1 1938.1,613.1 1939.8,613.1 1941.5,613.1 1943.1,613.1 1944.8,613.1 1946.4,613.1 1948.1,613.1 1949.7,613.1 1951.4,613.1 1953.1,613.1 1954.7,613.1 1956.4,613.1 1958.0,613.1 1959.7,613.1 1961.3,613.1 1963.0,613.1 1964.7,613.1 1966.3,613.1 1968.0,613.1 1969.6,613.1 1971.3,613.1 1972.9,613.1 1974.6,613.1 1976.3,613.1 1977.9,613.1 1979.6,613.1 1981.2,613.1 1982.9,613.1 1984.5,613.1 1986.2,613.1 1987.9,613.1 1989.5,613.1 1991.2,613.1 1992.8,613.1 1994.5,613.1 1996.1,613.1 1997.8,613.1 1999.5,613.1 2001.1,613.1 2002.8,613.1 2004.4,613.1 2006.1,613.1 2007.7,613.1 2009.4,613.1 2011.1,613.1 2012.7,613.1 2014.4,613.1 2016.0,613.1 2017.7,613.1 2019.3,613.1 2021.0,613.1 2022.7,613.1 2024.3,613.1 2026.0,613.1 2027.6,613.1 2029.3,613.1 2030.9,613.1 2032.6,613.1 2034.3,613.1 2035.9,613.1 2037.6,613.1 2039.2,613.1 2040.9,613.1 2042.5,613.1 2044.2,613.1 2045.9,613.1 2047.5,613.1 2049.2,613.1 2050.8,613.1 2052.5,613.1 2054.1,613.1 2055.8,613.1 2057.5,613.1 2059.1,613.1 2060.8,613.1 2062.4,613.1 2064.1,613.1 2065.7,613.1 2067.4,613.1 2069.0,613.1 2070.7,613.1 2072.4,613.1 2074.0,613.1"/>
<polyline fill="none" stroke="#000080" stroke-width="3.8" stroke-linejoin="round" stroke-linecap="round"  points="1394.7,613.1 1396.3,613.1 1398.0,613.1 1399.6,613.1 1401.3,613.1 1402.9,613.1 1404.6,613.1 1406.2,613.1 1407.9,613.1 1409.6,613.1 1411.2,613.1 1412.9,613.1 1414.5,613.1 1416.2,613.1 1417.8,613.1 1419.5,613.1 1421.2,613.1 1422.8,613.1 1424.5,613.1 1426.1,613.1 1427.8,613.1 1429.4,613.1 1431.1,613.1 1432.8,613.1 1434.4,613.1 1436.1,613.1 1437.7,613.1 1439.4,613.1 1441.0,613.1 1442.7,613.1 1444.4,613.1 1446.0,613.1 1447.7,613.1 1449.3,613.1 1451.0,613.1 1452.6,613.1 1454.3,613.1 1456.0,613.1 1457.6,613.1 1459.3,613.1 1460.9,613.1 1462.6,613.1 1464.2,613.1 1465.9,613.1 1467.6,613.1 1469.2,613.1 1470.9,613.1 1472.5,613.1 1474.2,613.1 1475.8,613.1 1477.5,613.1 1479.2,613.1 1480.8,613.1 1482.5,613.1 1484.1,613.1 1485.8,613.1 1487.4,613.1 1489.1,613.1 1490.8,613.1 1492.4,613.1 1494.1,613.1 1495.7,613.1 1497.4,613.1 1499.0,613.1 1500.7,613.1 1502.4,613.1 1504.0,613.1 1505.7,613.1 1507.3,613.1 1509.0,613.1 1510.6,613.1 1512.3,613.1 1514.0,613.1 1515.6,613.1 1517.3,613.1 1518.9,613.1 1520.6,613.1 1522.2,613.1 1523.9,613.1 1525.6,613.1 1527.2,613.1 1528.9,613.1 1530.5,613.1 1532.2,613.1 1533.8,613.1 1535.5,613.1 1537.2,613.1 1538.8,613.1 1540.5,613.1 1542.1,613.1 1543.8,613.1 1545.4,613.1 1547.1,613.1 1548.8,613.1 1550.4,613.1 1552.1,613.1 1553.7,613.1 1555.4,613.1 1557.0,613.1 1558.7,613.1 1560.3,613.1 1562.0,613.1 1563.7,613.0 1565.3,612.9 1567.0,612.8 1568.6,612.4 1570.3,611.7 1571.9,610.6 1573.6,608.7 1575.3,605.8 1576.9,601.8 1578.6,596.7 1580.2,590.7 1581.9,584.4 1583.5,578.4 1585.2,573.8 1586.9,571.3 1588.5,571.3 1590.2,573.8 1591.8,578.4 1593.5,584.4 1595.1,590.7 1596.8,596.7 1598.5,601.8 1600.1,605.8 1601.8,608.7 1603.4,610.6 1605.1,611.7 1606.7,612.4 1608.4,612.8 1610.1,612.9 1611.7,613.0 1613.4,613.1 1615.0,613.1 1616.7,613.1 1618.3,613.1 1620.0,613.1 1621.7,613.1 1623.3,613.1 1625.0,613.1 1626.6,613.1 1628.3,613.1 1629.9,613.1 1631.6,613.1 1633.3,613.1 1634.9,613.1 1636.6,613.1 1638.2,613.1 1639.9,613.1 1641.5,613.1 1643.2,613.1 1644.9,613.1 1646.5,613.1 1648.2,613.1 1649.8,613.1 1651.5,613.1 1653.1,613.1 1654.8,613.1 1656.5,613.1 1658.1,613.1 1659.8,613.1 1661.4,613.1 1663.1,613.1 1664.7,613.1 1666.4,613.1 1668.1,613.1 1669.7,613.1 1671.4,613.1 1673.0,613.1 1674.7,613.1 1676.3,613.1 1678.0,613.1 1679.7,613.1 1681.3,613.1 1683.0,613.1 1684.6,613.1 1686.3,613.1 1687.9,613.1 1689.6,613.1 1691.3,613.1 1692.9,613.1 1694.6,613.1 1696.2,613.1 1697.9,613.1 1699.5,613.1 1701.2,613.1 1702.9,613.1 1704.5,613.1 1706.2,613.1 1707.8,613.1 1709.5,613.1 1711.1,613.1 1712.8,613.1 1714.5,613.1 1716.1,613.1 1717.8,613.1 1719.4,613.1 1721.1,613.1 1722.7,613.1 1724.4,613.1 1726.1,613.1 1727.7,613.1 1729.4,613.1 1731.0,613.1 1732.7,613.1 1734.3,613.1 1736.0,613.1 1737.6,613.1 1739.3,613.1 1741.0,613.1 1742.6,613.1 1744.3,613.1 1745.9,613.1 1747.6,613.1 1749.2,613.1 1750.9,613.1 1752.6,613.1 1754.2,613.1 1755.9,613.1 1757.5,613.1 1759.2,613.1 1760.8,613.1 1762.5,613.1 1764.2,613.1 1765.8,613.1 1767.5,613.1 1769.1,613.1 1770.8,613.1 1772.4,613.1 1774.1,613.1 1775.8,613.1 1777.4,613.1 1779.1,613.1 1780.7,613.1 1782.4,613.1 1784.0,613.1 1785.7,613.1 1787.4,613.1 1789.0,613.1 1790.7,613.1 1792.3,613.1 1794.0,613.1 1795.6,613.1 1797.3,613.1 1799.0,613.1 1800.6,613.1 1802.3,613.1 1803.9,613.1 1805.6,613.1 1807.2,613.1 1808.9,613.1 1810.6,613.1 1812.2,613.1 1813.9,613.1 1815.5,613.1 1817.2,613.1 1818.8,613.1 1820.5,613.1 1822.2,613.1 1823.8,613.1 1825.5,613.1 1827.1,613.1 1828.8,613.1 1830.4,613.1 1832.1,613.1 1833.8,613.1 1835.4,613.1 1837.1,613.1 1838.7,613.1 1840.4,613.1 1842.0,613.1 1843.7,613.1 1845.4,613.1 1847.0,613.1 1848.7,613.1 1850.3,613.1 1852.0,613.1 1853.6,613.1 1855.3,613.1 1857.0,613.1 1858.6,613.1 1860.3,613.1 1861.9,613.1 1863.6,613.1 1865.2,613.1 1866.9,613.1 1868.6,613.1 1870.2,613.1 1871.9,613.1 1873.5,613.1 1875.2,613.1 1876.8,613.1 1878.5,613.1 1880.2,613.1 1881.8,613.1 1883.5,613.1 1885.1,613.1 1886.8,613.1 1888.4,613.1 1890.1,613.1 1891.8,613.1 1893.4,613.1 1895.1,613.1 1896.7,613.1 1898.4,613.1 1900.0,613.1 1901.7,613.1 1903.3,613.1 1905.0,613.1 1906.7,613.1 1908.3,613.1 1910.0,613.1 1911.6,613.1 1913.3,613.1 1914.9,613.1 1916.6,613.1 1918.3,613.1 1919.9,613.1 1921.6,613.1 1923.2,613.1 1924.9,613.1 1926.5,613.1 1928.2,613.1 1929.9,613.1 1931.5,613.1 1933.2,613.1 1934.8,613.1 1936.5,613.1 1938.1,613.1 1939.8,613.1 1941.5,613.1 1943.1,613.1 1944.8,613.1 1946.4,613.1 1948.1,613.1 1949.7,613.1 1951.4,613.1 1953.1,613.1 1954.7,613.1 1956.4,613.1 1958.0,613.1 1959.7,613.1 1961.3,613.1 1963.0,613.1 1964.7,613.1 1966.3,613.1 1968.0,613.1 1969.6,613.1 1971.3,613.1 1972.9,613.1 1974.6,613.1 1976.3,613.1 1977.9,613.1 1979.6,613.1 1981.2,613.1 1982.9,613.1 1984.5,613.1 1986.2,613.1 1987.9,613.1 1989.5,613.1 1991.2,613.1 1992.8,613.1 1994.5,613.1 1996.1,613.1 1997.8,613.1 1999.5,613.1 2001.1,613.1 2002.8,613.1 2004.4,613.1 2006.1,613.1 2007.7,613.1 2009.4,613.1 2011.1,613.1 2012.7,613.1 2014.4,613.1 2016.0,613.1 2017.7,613.1 2019.3,613.1 2021.0,613.1 2022.7,613.1 2024.3,613.1 2026.0,613.1 2027.6,613.1 2029.3,613.1 2030.9,613.1 2032.6,613.1 2034.3,613.1 2035.9,613.1 2037.6,613.1 2039.2,613.1 2040.9,613.1 2042.5,613.1 2044.2,613.1 2045.9,613.1 2047.5,613.1 2049.2,613.1 2050.8,613.1 2052.5,613.1 2054.1,613.1 2055.8,613.1 2057.5,613.1 2059.1,613.1 2060.8,613.1 2062.4,613.1 2064.1,613.1 2065.7,613.1 2067.4,613.1 2069.0,613.1 2070.7,613.1 2072.4,613.1 2074.0,613.1"/>
<polyline fill="none" stroke="#8000ff" stroke-width="3.8" stroke-linejoin="round" stroke-linecap="round"  points="1394.7,612.8 1396.3,612.7 1398.0,612.7 1399.6,612.7 1401.3,612.7 1402.9,612.6 1404.6,612.6 1406.2,612.6 1407.9,612.6 1409.6,612.5 1411.2,612.5 1412.9,612.4 1414.5,612.4 1416.2,612.4 1417.8,612.3 1419.5,612.3 1421.2,612.2 1422.8,612.2 1424.5,612.1 1426.1,612.1 1427.8,612.0 1429.4,611.9 1431.1,611.9 1432.8,611.8 1434.4,611.7 1436.1,611.6 1437.7,611.5 1439.4,611.5 1441.0,611.4 1442.7,611.3 1444.4,611.2 1446.0,611.1 1447.7,610.9 1449.3,610.8 1451.0,610.7 1452.6,610.6 1454.3,610.4 1456.0,610.3 1457.6,610.2 1459.3,610.0 1460.9,609.9 1462.6,609.7 1464.2,609.5 1465.9,609.3 1467.6,609.2 1469.2,609.0 1470.9,608.8 1472.5,608.5 1474.2,608.3 1475.8,608.1 1477.5,607.9 1479.2,607.6 1480.8,607.4 1482.5,607.1 1484.1,606.8 1485.8,606.5 1487.4,606.3 1489.1,605.9 1490.8,605.6 1492.4,605.3 1494.1,605.0 1495.7,604.6 1497.4,604.3 1499.0,603.9 1500.7,603.5 1502.4,603.1 1504.0,602.7 1505.7,602.3 1507.3,601.9 1509.0,601.4 1510.6,601.0 1512.3,600.5 1514.0,600.0 1515.6,599.5 1517.3,599.0 1518.9,598.5 1520.6,598.0 1522.2,597.5 1523.9,596.9 1525.6,596.3 1527.2,595.7 1528.9,595.1 1530.5,594.5 1532.2,593.9 1533.8,593.3 1535.5,592.6 1537.2,592.0 1538.8,591.3 1540.5,590.6 1542.1,589.9 1543.8,589.2 1545.4,588.5 1547.1,587.7 1548.8,587.0 1550.4,586.2 1552.1,585.5 1553.7,584.7 1555.4,583.9 1557.0,583.1 1558.7,582.3 1560.3,581.5 1562.0,580.7 1563.7,579.8 1565.3,579.0 1567.0,578.1 1568.6,577.3 1570.3,576.4 1571.9,575.5 1573.6,574.7 1575.3,573.8 1576.9,572.9 1578.6,572.0 1580.2,571.1 1581.9,570.2 1583.5,569.4 1585.2,568.5 1586.9,567.6 1588.5,566.7 1590.2,565.8 1591.8,564.9 1593.5,564.0 1595.1,563.1 1596.8,562.3 1598.5,561.4 1600.1,560.5 1601.8,559.7 1603.4,558.8 1605.1,558.0 1606.7,557.1 1608.4,556.3 1610.1,555.5 1611.7,554.7 1613.4,553.9 1615.0,553.1 1616.7,552.4 1618.3,551.6 1620.0,550.9 1621.7,550.2 1623.3,549.5 1625.0,548.8 1626.6,548.2 1628.3,547.5 1629.9,546.9 1631.6,546.3 1633.3,545.7 1634.9,545.2 1636.6,544.6 1638.2,544.1 1639.9,543.6 1641.5,543.2 1643.2,542.7 1644.9,542.3 1646.5,542.0 1648.2,541.6 1649.8,541.3 1651.5,541.0 1653.1,540.7 1654.8,540.4 1656.5,540.2 1658.1,540.0 1659.8,539.9 1661.4,539.7 1663.1,539.6 1664.7,539.6 1666.4,539.5 1668.1,539.5 1669.7,539.5 1671.4,539.6 1673.0,539.6 1674.7,539.7 1676.3,539.9 1678.0,540.0 1679.7,540.2 1681.3,540.4 1683.0,540.7 1684.6,541.0 1686.3,541.3 1687.9,541.6 1689.6,542.0 1691.3,542.3 1692.9,542.7 1694.6,543.2 1696.2,543.6 1697.9,544.1 1699.5,544.6 1701.2,545.2 1702.9,545.7 1704.5,546.3 1706.2,546.9 1707.8,547.5 1709.5,548.2 1711.1,548.8 1712.8,549.5 1714.5,550.2 1716.1,550.9 1717.8,551.6 1719.4,552.4 1721.1,553.1 1722.7,553.9 1724.4,554.7 1726.1,555.5 1727.7,556.3 1729.4,557.1 1731.0,558.0 1732.7,558.8 1734.3,559.7 1736.0,560.5 1737.6,561.4 1739.3,562.3 1741.0,563.1 1742.6,564.0 1744.3,564.9 1745.9,565.8 1747.6,566.7 1749.2,567.6 1750.9,568.5 1752.6,569.4 1754.2,570.2 1755.9,571.1 1757.5,572.0 1759.2,572.9 1760.8,573.8 1762.5,574.7 1764.2,575.5 1765.8,576.4 1767.5,577.3 1769.1,578.1 1770.8,579.0 1772.4,579.8 1774.1,580.7 1775.8,581.5 1777.4,582.3 1779.1,583.1 1780.7,583.9 1782.4,584.7 1784.0,585.5 1785.7,586.2 1787.4,587.0 1789.0,587.7 1790.7,588.5 1792.3,589.2 1794.0,589.9 1795.6,590.6 1797.3,591.3 1799.0,592.0 1800.6,592.6 1802.3,593.3 1803.9,593.9 1805.6,594.5 1807.2,595.1 1808.9,595.7 1810.6,596.3 1812.2,596.9 1813.9,597.5 1815.5,598.0 1817.2,598.5 1818.8,599.0 1820.5,599.5 1822.2,600.0 1823.8,600.5 1825.5,601.0 1827.1,601.4 1828.8,601.9 1830.4,602.3 1832.1,602.7 1833.8,603.1 1835.4,603.5 1837.1,603.9 1838.7,604.3 1840.4,604.6 1842.0,605.0 1843.7,605.3 1845.4,605.6 1847.0,605.9 1848.7,606.3 1850.3,606.5 1852.0,606.8 1853.6,607.1 1855.3,607.4 1857.0,607.6 1858.6,607.9 1860.3,608.1 1861.9,608.3 1863.6,608.5 1865.2,608.8 1866.9,609.0 1868.6,609.2 1870.2,609.3 1871.9,609.5 1873.5,609.7 1875.2,609.9 1876.8,610.0 1878.5,610.2 1880.2,610.3 1881.8,610.4 1883.5,610.6 1885.1,610.7 1886.8,610.8 1888.4,610.9 1890.1,611.1 1891.8,611.2 1893.4,611.3 1895.1,611.4 1896.7,611.5 1898.4,611.5 1900.0,611.6 1901.7,611.7 1903.3,611.8 1905.0,611.9 1906.7,611.9 1908.3,612.0 1910.0,612.1 1911.6,612.1 1913.3,612.2 1914.9,612.2 1916.6,612.3 1918.3,612.3 1919.9,612.4 1921.6,612.4 1923.2,612.4 1924.9,612.5 1926.5,612.5 1928.2,612.6 1929.9,612.6 1931.5,612.6 1933.2,612.6 1934.8,612.7 1936.5,612.7 1938.1,612.7 1939.8,612.7 1941.5,612.8 1943.1,612.8 1944.8,612.8 1946.4,612.8 1948.1,612.8 1949.7,612.9 1951.4,612.9 1953.1,612.9 1954.7,612.9 1956.4,612.9 1958.0,612.9 1959.7,612.9 1961.3,612.9 1963.0,613.0 1964.7,613.0 1966.3,613.0 1968.0,613.0 1969.6,613.0 1971.3,613.0 1972.9,613.0 1974.6,613.0 1976.3,613.0 1977.9,613.0 1979.6,613.0 1981.2,613.0 1982.9,613.0 1984.5,613.0 1986.2,613.0 1987.9,613.0 1989.5,613.0 1991.2,613.1 1992.8,613.1 1994.5,613.1 1996.1,613.1 1997.8,613.1 1999.5,613.1 2001.1,613.1 2002.8,613.1 2004.4,613.1 2006.1,613.1 2007.7,613.1 2009.4,613.1 2011.1,613.1 2012.7,613.1 2014.4,613.1 2016.0,613.1 2017.7,613.1 2019.3,613.1 2021.0,613.1 2022.7,613.1 2024.3,613.1 2026.0,613.1 2027.6,613.1 2029.3,613.1 2030.9,613.1 2032.6,613.1 2034.3,613.1 2035.9,613.1 2037.6,613.1 2039.2,613.1 2040.9,613.1 2042.5,613.1 2044.2,613.1 2045.9,613.1 2047.5,613.1 2049.2,613.1 2050.8,613.1 2052.5,613.1 2054.1,613.1 2055.8,613.1 2057.5,613.1 2059.1,613.1 2060.8,613.1 2062.4,613.1 2064.1,613.1 2065.7,613.1 2067.4,613.1 2069.0,613.1 2070.7,613.1 2072.4,613.1 2074.0,613.1"/>
<polyline fill="none" stroke="#800080" stroke-width="3.8" stroke-linejoin="round" stroke-linecap="round"  points="1394.7,613.1 1396.3,613.1 1398.0,613.1 1399.6,613.1 1401.3,613.1 1402.9,613.1 1404.6,613.1 1406.2,613.1 1407.9,613.1 1409.6,613.1 1411.2,613.1 1412.9,613.1 1414.5,613.1 1416.2,613.1 1417.8,613.1 1419.5,613.1 1421.2,613.1 1422.8,613.1 1424.5,613.1 1426.1,613.1 1427.8,613.1 1429.4,613.1 1431.1,613.1 1432.8,613.1 1434.4,613.1 1436.1,613.1 1437.7,613.1 1439.4,613.1 1441.0,613.1 1442.7,613.1 1444.4,613.1 1446.0,613.1 1447.7,613.1 1449.3,613.1 1451.0,613.1 1452.6,613.1 1454.3,613.1 1456.0,613.1 1457.6,613.1 1459.3,613.1 1460.9,613.1 1462.6,613.1 1464.2,613.1 1465.9,613.1 1467.6,613.1 1469.2,613.1 1470.9,613.1 1472.5,613.1 1474.2,613.1 1475.8,613.1 1477.5,613.1 1479.2,613.1 1480.8,613.1 1482.5,613.1 1484.1,613.1 1485.8,613.1 1487.4,613.1 1489.1,613.1 1490.8,613.1 1492.4,613.1 1494.1,613.1 1495.7,613.1 1497.4,613.1 1499.0,613.1 1500.7,613.1 1502.4,613.1 1504.0,613.1 1505.7,613.1 1507.3,613.1 1509.0,613.1 1510.6,613.1 1512.3,613.1 1514.0,613.1 1515.6,613.1 1517.3,613.1 1518.9,613.1 1520.6,613.1 1522.2,613.1 1523.9,613.1 1525.6,613.1 1527.2,613.1 1528.9,613.1 1530.5,613.1 1532.2,613.1 1533.8,613.1 1535.5,613.1 1537.2,613.1 1538.8,613.1 1540.5,613.1 1542.1,613.1 1543.8,613.1 1545.4,613.1 1547.1,613.1 1548.8,613.1 1550.4,613.1 1552.1,613.1 1553.7,613.1 1555.4,613.1 1557.0,613.1 1558.7,613.1 1560.3,613.1 1562.0,613.1 1563.7,613.1 1565.3,613.1 1567.0,613.1 1568.6,613.1 1570.3,613.1 1571.9,613.1 1573.6,613.1 1575.3,613.1 1576.9,613.1 1578.6,613.1 1580.2,613.1 1581.9,613.1 1583.5,613.1 1585.2,613.1 1586.9,613.1 1588.5,613.1 1590.2,613.1 1591.8,613.1 1593.5,613.1 1595.1,613.1 1596.8,613.1 1598.5,613.1 1600.1,613.1 1601.8,613.1 1603.4,613.1 1605.1,613.1 1606.7,613.1 1608.4,613.1 1610.1,613.1 1611.7,613.1 1613.4,613.1 1615.0,613.1 1616.7,613.1 1618.3,613.1 1620.0,613.1 1621.7,613.1 1623.3,613.1 1625.0,613.1 1626.6,613.1 1628.3,613.1 1629.9,613.1 1631.6,613.1 1633.3,613.1 1634.9,613.1 1636.6,613.1 1638.2,613.1 1639.9,613.1 1641.5,613.1 1643.2,613.1 1644.9,613.1 1646.5,613.1 1648.2,613.1 1649.8,613.1 1651.5,613.1 1653.1,613.1 1654.8,613.1 1656.5,613.1 1658.1,613.1 1659.8,613.1 1661.4,613.1 1663.1,613.1 1664.7,613.1 1666.4,613.1 1668.1,613.1 1669.7,613.1 1671.4,613.1 1673.0,613.1 1674.7,613.1 1676.3,613.1 1678.0,613.1 1679.7,613.1 1681.3,613.1 1683.0,613.1 1684.6,613.1 1686.3,613.1 1687.9,613.1 1689.6,613.1 1691.3,613.1 1692.9,613.1 1694.6,613.1 1696.2,613.1 1697.9,613.1 1699.5,613.1 1701.2,613.1 1702.9,613.1 1704.5,613.1 1706.2,613.1 1707.8,613.1 1709.5,613.1 1711.1,613.1 1712.8,613.1 1714.5,613.1 1716.1,613.1 1717.8,613.1 1719.4,613.1 1721.1,613.1 1722.7,613.1 1724.4,613.1 1726.1,613.1 1727.7,613.1 1729.4,613.1 1731.0,613.1 1732.7,613.1 1734.3,613.1 1736.0,613.1 1737.6,613.1 1739.3,613.1 1741.0,613.0 1742.6,613.0 1744.3,613.0 1745.9,613.0 1747.6,613.0 1749.2,613.0 1750.9,613.0 1752.6,613.0 1754.2,613.0 1755.9,612.9 1757.5,612.9 1759.2,612.9 1760.8,612.9 1762.5,612.8 1764.2,612.8 1765.8,612.8 1767.5,612.7 1769.1,612.7 1770.8,612.6 1772.4,612.5 1774.1,612.5 1775.8,612.4 1777.4,612.3 1779.1,612.2 1780.7,612.1 1782.4,612.0 1784.0,611.9 1785.7,611.8 1787.4,611.7 1789.0,611.5 1790.7,611.4 1792.3,611.2 1794.0,611.0 1795.6,610.9 1797.3,610.7 1799.0,610.5 1800.6,610.3 1802.3,610.1 1803.9,609.8 1805.6,609.6 1807.2,609.4 1808.9,609.1 1810.6,608.9 1812.2,608.6 1813.9,608.4 1815.5,608.1 1817.2,607.8 1818.8,607.6 1820.5,607.3 1822.2,607.1 1823.8,606.8 1825.5,606.6 1827.1,606.3 1828.8,606.1 1830.4,605.9 1832.1,605.6 1833.8,605.4 1835.4,605.3 1837.1,605.1 1838.7,604.9 1840.4,604.8 1842.0,604.7 1843.7,604.6 1845.4,604.5 1847.0,604.5 1848.7,604.4 1850.3,604.4 1852.0,604.4 1853.6,604.5 1855.3,604.5 1857.0,604.6 1858.6,604.7 1860.3,604.8 1861.9,604.9 1863.6,605.1 1865.2,605.3 1866.9,605.4 1868.6,605.6 1870.2,605.9 1871.9,606.1 1873.5,606.3 1875.2,606.6 1876.8,606.8 1878.5,607.1 1880.2,607.3 1881.8,607.6 1883.5,607.8 1885.1,608.1 1886.8,608.4 1888.4,608.6 1890.1,608.9 1891.8,609.1 1893.4,609.4 1895.1,609.6 1896.7,609.8 1898.4,610.1 1900.0,610.3 1901.7,610.5 1903.3,610.7 1905.0,610.9 1906.7,611.0 1908.3,611.2 1910.0,611.4 1911.6,611.5 1913.3,611.7 1914.9,611.8 1916.6,611.9 1918.3,612.0 1919.9,612.1 1921.6,612.2 1923.2,612.3 1924.9,612.4 1926.5,612.5 1928.2,612.5 1929.9,612.6 1931.5,612.7 1933.2,612.7 1934.8,612.8 1936.5,612.8 1938.1,612.8 1939.8,612.9 1941.5,612.9 1943.1,612.9 1944.8,612.9 1946.4,613.0 1948.1,613.0 1949.7,613.0 1951.4,613.0 1953.1,613.0 1954.7,613.0 1956.4,613.0 1958.0,613.0 1959.7,613.0 1961.3,613.1 1963.0,613.1 1964.7,613.1 1966.3,613.1 1968.0,613.1 1969.6,613.1 1971.3,613.1 1972.9,613.1 1974.6,613.1 1976.3,613.1 1977.9,613.1 1979.6,613.1 1981.2,613.1 1982.9,613.1 1984.5,613.1 1986.2,613.1 1987.9,613.1 1989.5,613.1 1991.2,613.1 1992.8,613.1 1994.5,613.1 1996.1,613.1 1997.8,613.1 1999.5,613.1 2001.1,613.1 2002.8,613.1 2004.4,613.1 2006.1,613.1 2007.7,613.1 2009.4,613.1 2011.1,613.1 2012.7,613.1 2014.4,613.1 2016.0,613.1 2017.7,613.1 2019.3,613.1 2021.0,613.1 2022.7,613.1 2024.3,613.1 2026.0,613.1 2027.6,613.1 2029.3,613.1 2030.9,613.1 2032.6,613.1 2034.3,613.1 2035.9,613.1 2037.6,613.1 2039.2,613.1 2040.9,613.1 2042.5,613.1 2044.2,613.1 2045.9,613.1 2047.5,613.1 2049.2,613.1 2050.8,613.1 2052.5,613.1 2054.1,613.1 2055.8,613.1 2057.5,613.1 2059.1,613.1 2060.8,613.1 2062.4,613.1 2064.1,613.1 2065.7,613.1 2067.4,613.1 2069.0,613.1 2070.7,613.1 2072.4,613.1 2074.0,613.1"/>
<polyline fill="none" stroke="#990011" stroke-width="3.8" stroke-linejoin="round" stroke-linecap="round"  points="1394.7,613.1 1396.3,613.1 1398.0,613.1 1399.6,613.1 1401.3,613.1 1402.9,613.1 1404.6,613.1 1406.2,613.1 1407.9,613.1 1409.6,613.1 1411.2,613.1 1412.9,613.1 1414.5,613.1 1416.2,613.1 1417.8,613.1 1419.5,613.1 1421.2,613.1 1422.8,613.1 1424.5,613.1 1426.1,613.1 1427.8,613.1 1429.4,613.1 1431.1,613.1 1432.8,613.1 1434.4,613.1 1436.1,613.1 1437.7,613.1 1439.4,613.1 1441.0,613.1 1442.7,613.1 1444.4,613.1 1446.0,613.1 1447.7,613.1 1449.3,613.1 1451.0,613.1 1452.6,613.1 1454.3,613.1 1456.0,613.1 1457.6,613.1 1459.3,613.1 1460.9,613.1 1462.6,613.1 1464.2,613.1 1465.9,613.1 1467.6,613.1 1469.2,613.1 1470.9,613.1 1472.5,613.1 1474.2,613.1 1475.8,613.1 1477.5,613.1 1479.2,613.1 1480.8,613.1 1482.5,613.1 1484.1,613.1 1485.8,613.1 1487.4,613.1 1489.1,613.1 1490.8,613.1 1492.4,613.1 1494.1,613.1 1495.7,613.1 1497.4,613.1 1499.0,613.1 1500.7,613.1 1502.4,613.1 1504.0,613.1 1505.7,613.1 1507.3,613.1 1509.0,613.1 1510.6,613.1 1512.3,613.1 1514.0,613.1 1515.6,613.1 1517.3,613.1 1518.9,613.1 1520.6,613.1 1522.2,613.1 1523.9,613.1 1525.6,613.1 1527.2,613.1 1528.9,613.1 1530.5,613.1 1532.2,613.1 1533.8,613.1 1535.5,613.1 1537.2,613.1 1538.8,613.1 1540.5,613.1 1542.1,613.1 1543.8,613.1 1545.4,613.1 1547.1,613.1 1548.8,613.1 1550.4,613.1 1552.1,613.1 1553.7,613.1 1555.4,613.1 1557.0,613.1 1558.7,613.1 1560.3,613.1 1562.0,613.1 1563.7,613.1 1565.3,613.1 1567.0,613.1 1568.6,613.1 1570.3,613.1 1571.9,613.1 1573.6,613.1 1575.3,613.1 1576.9,613.1 1578.6,613.1 1580.2,613.1 1581.9,613.1 1583.5,613.1 1585.2,613.1 1586.9,613.1 1588.5,613.1 1590.2,613.1 1591.8,613.1 1593.5,613.1 1595.1,613.1 1596.8,613.1 1598.5,613.1 1600.1,613.1 1601.8,613.1 1603.4,613.1 1605.1,613.1 1606.7,613.1 1608.4,613.1 1610.1,613.1 1611.7,613.1 1613.4,613.1 1615.0,613.1 1616.7,613.1 1618.3,613.1 1620.0,613.1 1621.7,613.1 1623.3,613.1 1625.0,613.1 1626.6,613.1 1628.3,613.1 1629.9,613.1 1631.6,613.1 1633.3,613.1 1634.9,613.1 1636.6,613.1 1638.2,613.1 1639.9,613.1 1641.5,613.1 1643.2,613.1 1644.9,613.1 1646.5,613.1 1648.2,613.1 1649.8,613.1 1651.5,613.1 1653.1,613.1 1654.8,613.1 1656.5,613.1 1658.1,613.1 1659.8,613.1 1661.4,613.1 1663.1,613.1 1664.7,613.1 1666.4,613.1 1668.1,613.1 1669.7,613.1 1671.4,613.1 1673.0,613.1 1674.7,613.1 1676.3,613.1 1678.0,613.1 1679.7,613.1 1681.3,613.1 1683.0,613.1 1684.6,613.1 1686.3,613.1 1687.9,613.1 1689.6,613.1 1691.3,613.1 1692.9,613.1 1694.6,613.1 1696.2,613.1 1697.9,613.1 1699.5,613.1 1701.2,613.1 1702.9,613.1 1704.5,613.1 1706.2,613.1 1707.8,613.1 1709.5,613.1 1711.1,613.1 1712.8,613.1 1714.5,613.1 1716.1,613.1 1717.8,613.1 1719.4,613.1 1721.1,613.1 1722.7,613.1 1724.4,613.1 1726.1,613.1 1727.7,613.1 1729.4,613.1 1731.0,613.1 1732.7,613.1 1734.3,613.1 1736.0,613.1 1737.6,613.1 1739.3,613.1 1741.0,613.1 1742.6,613.1 1744.3,613.1 1745.9,613.1 1747.6,613.1 1749.2,613.1 1750.9,613.1 1752.6,613.1 1754.2,613.1 1755.9,613.1 1757.5,613.1 1759.2,613.1 1760.8,613.1 1762.5,613.1 1764.2,613.1 1765.8,613.1 1767.5,613.1 1769.1,613.1 1770.8,613.1 1772.4,613.1 1774.1,613.1 1775.8,613.1 1777.4,613.1 1779.1,613.1 1780.7,613.1 1782.4,613.1 1784.0,613.1 1785.7,613.1 1787.4,613.1 1789.0,613.1 1790.7,613.1 1792.3,613.1 1794.0,613.1 1795.6,613.1 1797.3,613.1 1799.0,613.1 1800.6,613.1 1802.3,613.1 1803.9,613.1 1805.6,613.1 1807.2,613.1 1808.9,613.1 1810.6,613.1 1812.2,613.1 1813.9,613.1 1815.5,613.1 1817.2,613.1 1818.8,613.1 1820.5,613.1 1822.2,613.1 1823.8,613.1 1825.5,613.1 1827.1,613.1 1828.8,613.1 1830.4,613.1 1832.1,613.1 1833.8,613.1 1835.4,613.1 1837.1,613.1 1838.7,613.1 1840.4,613.1 1842.0,613.1 1843.7,613.1 1845.4,613.1 1847.0,613.1 1848.7,613.1 1850.3,613.1 1852.0,613.1 1853.6,613.1 1855.3,613.1 1857.0,613.1 1858.6,613.1 1860.3,613.1 1861.9,613.1 1863.6,613.1 1865.2,613.1 1866.9,613.1 1868.6,613.1 1870.2,613.1 1871.9,613.1 1873.5,613.1 1875.2,613.1 1876.8,613.1 1878.5,613.1 1880.2,613.1 1881.8,613.1 1883.5,613.1 1885.1,613.1 1886.8,613.1 1888.4,613.1 1890.1,613.1 1891.8,613.1 1893.4,613.1 1895.1,613.1 1896.7,613.1 1898.4,613.1 1900.0,613.1 1901.7,613.1 1903.3,613.1 1905.0,613.1 1906.7,613.1 1908.3,613.1 1910.0,613.1 1911.6,613.1 1913.3,613.1 1914.9,613.1 1916.6,613.1 1918.3,613.1 1919.9,613.0 1921.6,613.0 1923.2,613.0 1924.9,613.0 1926.5,613.0 1928.2,613.0 1929.9,613.0 1931.5,612.9 1933.2,612.9 1934.8,612.9 1936.5,612.8 1938.1,612.8 1939.8,612.7 1941.5,612.7 1943.1,612.6 1944.8,612.5 1946.4,612.4 1948.1,612.3 1949.7,612.2 1951.4,612.1 1953.1,611.9 1954.7,611.8 1956.4,611.6 1958.0,611.4 1959.7,611.1 1961.3,610.9 1963.0,610.6 1964.7,610.3 1966.3,609.9 1968.0,609.6 1969.6,609.2 1971.3,608.7 1972.9,608.2 1974.6,607.7 1976.3,607.2 1977.9,606.6 1979.6,606.0 1981.2,605.3 1982.9,604.7 1984.5,603.9 1986.2,603.2 1987.9,602.4 1989.5,601.6 1991.2,600.8 1992.8,599.9 1994.5,599.1 1996.1,598.2 1997.8,597.3 1999.5,596.5 2001.1,595.6 2002.8,594.7 2004.4,593.9 2006.1,593.1 2007.7,592.3 2009.4,591.5 2011.1,590.8 2012.7,590.2 2014.4,589.6 2016.0,589.0 2017.7,588.5 2019.3,588.1 2021.0,587.8 2022.7,587.5 2024.3,587.3 2026.0,587.2 2027.6,587.1 2029.3,587.2 2030.9,587.3 2032.6,587.5 2034.3,587.8 2035.9,588.1 2037.6,588.5 2039.2,589.0 2040.9,589.6 2042.5,590.2 2044.2,590.8 2045.9,591.5 2047.5,592.3 2049.2,593.1 2050.8,593.9 2052.5,594.7 2054.1,595.6 2055.8,596.5 2057.5,597.3 2059.1,598.2 2060.8,599.1 2062.4,599.9 2064.1,600.8 2065.7,601.6 2067.4,602.4 2069.0,603.2 2070.7,603.9 2072.4,604.7 2074.0,605.3"/>
<polyline fill="none" stroke="#800080" stroke-width="3.8" stroke-linejoin="round" stroke-linecap="round"  points="1941.5,612.9 1948.1,613.0 1954.7,613.0 1961.3,613.1 1968.0,613.1 1974.6,613.1 1981.2,613.1 1987.9,613.1 1994.5,613.1 2001.1,613.1 2007.7,613.1 2014.4,613.1 2021.0,613.1 2027.6,613.1 2034.3,613.1 2040.9,613.1 2047.5,613.1 2054.1,613.1 2060.8,613.1 2067.4,613.1 2074.0,613.1"/>
<polyline fill="none" stroke="#000" stroke-width="4.2" stroke-linejoin="round" stroke-linecap="round"  points="1394.7,445.7 1395.5,433.4 1396.3,419.3 1397.1,404.2 1398.0,389.0 1398.8,374.2 1399.6,360.1 1400.4,347.3 1401.3,335.3 1402.1,323.8 1402.9,312.2 1403.8,300.0 1404.6,287.3 1405.4,274.5 1406.2,261.6 1407.1,248.3 1407.9,235.2 1408.7,223.1 1409.6,212.1 1410.4,202.3 1411.2,193.9 1412.0,187.0 1412.9,180.6 1413.7,174.8 1414.5,169.4 1415.4,164.1 1416.2,158.7 1417.0,153.9 1417.8,149.6 1418.7,145.4 1419.5,140.9 1420.3,136.4 1421.2,131.9 1422.0,127.4 1422.8,122.9 1423.6,118.7 1424.5,114.9 1425.3,112.0 1426.1,110.2 1427.0,109.1 1427.8,108.2 1428.6,107.0 1429.4,105.8 1430.3,104.6 1431.1,103.6 1431.9,102.9 1432.8,102.9 1433.6,103.4 1434.4,104.4 1435.2,105.8 1436.1,107.5 1436.9,108.9 1437.7,110.6 1438.6,112.8 1439.4,115.2 1440.2,117.2 1441.0,118.4 1441.9,119.4 1442.7,120.7 1443.5,122.3 1444.4,123.8 1445.2,125.0 1446.0,126.5 1446.8,128.2 1447.7,129.9 1448.5,131.2 1449.3,132.5 1450.2,133.9 1451.0,135.4 1451.8,136.6 1452.6,137.6 1453.5,139.1 1454.3,140.5 1455.1,141.9 1456.0,143.3 1456.8,144.7 1457.6,145.6 1458.4,146.5 1459.3,147.6 1460.1,148.7 1460.9,149.4 1461.8,149.8 1462.6,150.7 1463.4,151.8 1464.2,152.8 1465.1,153.5 1465.9,154.5 1466.7,156.0 1467.6,157.6 1468.4,158.9 1469.2,159.8 1470.0,160.9 1470.9,162.3 1471.7,163.9 1472.5,165.5 1473.4,167.2 1474.2,169.5 1475.0,171.7 1475.8,173.6 1476.7,175.5 1477.5,177.7 1478.3,180.4 1479.2,183.0 1480.0,185.3 1480.8,187.4 1481.6,189.5 1482.5,191.8 1483.3,193.9 1484.1,196.0 1485.0,198.3 1485.8,200.7 1486.6,202.6 1487.4,204.2 1488.3,206.0 1489.1,208.3 1489.9,210.8 1490.8,212.9 1491.6,215.0 1492.4,217.0 1493.2,218.9 1494.1,220.9 1494.9,223.4 1495.7,225.7 1496.6,227.7 1497.4,229.4 1498.2,230.9 1499.0,232.6 1499.9,234.1 1500.7,235.4 1501.5,236.9 1502.4,239.0 1503.2,240.9 1504.0,242.2 1504.8,243.4 1505.7,244.8 1506.5,246.7 1507.3,248.7 1508.2,250.5 1509.0,252.3 1509.8,254.0 1510.6,255.6 1511.5,257.0 1512.3,258.7 1513.1,260.6 1514.0,262.7 1514.8,264.4 1515.6,265.9 1516.4,267.6 1517.3,269.5 1518.1,271.4 1518.9,273.2 1519.8,274.6 1520.6,276.6 1521.4,278.9 1522.2,281.4 1523.1,283.5 1523.9,285.0 1524.7,286.3 1525.6,288.0 1526.4,290.0 1527.2,292.5 1528.0,294.4 1528.9,295.9 1529.7,297.2 1530.5,298.6 1531.4,300.4 1532.2,302.3 1533.0,303.8 1533.8,305.2 1534.7,306.7 1535.5,308.1 1536.3,309.4 1537.2,310.8 1538.0,312.3 1538.8,313.7 1539.6,315.2 1540.5,316.2 1541.3,317.0 1542.1,317.9 1543.0,319.0 1543.8,319.9 1544.6,320.7 1545.4,321.7 1546.3,322.9 1547.1,324.2 1547.9,325.4 1548.8,326.1 1549.6,326.7 1550.4,327.4 1551.2,328.1 1552.1,328.8 1552.9,330.0 1553.7,331.3 1554.6,332.6 1555.4,333.6 1556.2,334.8 1557.0,336.0 1557.9,336.8 1558.7,337.3 1559.5,337.7 1560.3,338.4 1561.2,339.7 1562.0,341.0 1562.8,342.1 1563.7,343.0 1564.5,343.9 1565.3,345.0 1566.1,346.0 1567.0,347.1 1567.8,348.1 1568.6,348.9 1569.5,349.1 1570.3,349.1 1571.1,349.1 1571.9,349.3 1572.8,349.4 1573.6,349.7 1574.4,349.8 1575.3,349.4 1576.1,348.7 1576.9,348.3 1577.7,348.2 1578.6,347.8 1579.4,347.2 1580.2,346.7 1581.1,345.7 1581.9,343.9 1582.7,342.4 1583.5,340.7 1584.4,338.8 1585.2,336.8 1586.0,336.1 1586.9,336.2 1587.7,336.8 1588.5,337.6 1589.3,338.6 1590.2,340.0 1591.0,341.6 1591.8,343.2 1592.7,345.0 1593.5,347.1 1594.3,349.5 1595.1,352.3 1596.0,355.8 1596.8,359.9 1597.6,364.3 1598.5,368.8 1599.3,373.5 1600.1,378.2 1600.9,382.9 1601.8,387.7 1602.6,391.6 1603.4,394.6 1604.3,397.7 1605.1,401.0 1605.9,404.2 1606.7,407.3 1607.6,410.3 1608.4,413.0 1609.2,415.2 1610.1,416.7 1610.9,418.4 1611.7,420.5 1612.5,423.0 1613.4,425.5 1614.2,427.4 1615.0,428.5 1615.9,429.8 1616.7,431.3 1617.5,433.0 1618.3,434.7 1619.2,436.3 1620.0,438.0 1620.8,439.6 1621.7,441.2 1622.5,442.7 1623.3,444.4 1624.1,446.0 1625.0,447.4 1625.8,448.4 1626.6,449.5 1627.5,451.1 1628.3,452.8 1629.1,454.3 1629.9,455.7 1630.8,457.2 1631.6,459.2 1632.4,461.1 1633.3,462.8 1634.1,464.3 1634.9,465.6 1635.7,466.6 1636.6,468.0 1637.4,469.7 1638.2,471.6 1639.1,473.1 1639.9,474.3 1640.7,475.5 1641.5,476.8 1642.4,478.3 1643.2,480.0 1644.0,481.5 1644.9,482.7 1645.7,483.8 1646.5,484.8 1647.3,485.7 1648.2,487.1 1649.0,488.2 1649.8,489.0 1650.7,489.8 1651.5,490.6 1652.3,491.5 1653.1,492.4 1654.0,493.4 1654.8,494.5 1655.6,495.8 1656.5,496.7 1657.3,497.5 1658.1,498.5 1658.9,499.6 1659.8,500.4 1660.6,501.4 1661.4,502.2 1662.3,502.8 1663.1,503.6 1663.9,504.8 1664.7,506.4 1665.6,507.7 1666.4,508.6 1667.2,509.1 1668.1,509.7 1668.9,510.8 1669.7,511.8 1670.5,512.7 1671.4,513.6 1672.2,514.5 1673.0,515.7 1673.9,516.4 1674.7,516.8 1675.5,517.0 1676.3,517.5 1677.2,518.2 1678.0,518.9 1678.8,519.6 1679.7,520.4 1680.5,521.3 1681.3,522.3 1682.1,523.1 1683.0,523.7 1683.8,524.0 1684.6,524.2 1685.5,524.7 1686.3,525.6 1687.1,526.3 1687.9,526.6 1688.8,526.5 1689.6,526.8 1690.4,527.5 1691.3,528.1 1692.1,528.6 1692.9,529.0 1693.7,529.7 1694.6,530.5 1695.4,531.1 1696.2,531.7 1697.1,532.4 1697.9,532.8 1698.7,533.0 1699.5,533.2 1700.4,533.6 1701.2,534.3 1702.0,535.0 1702.9,535.5 1703.7,536.0 1704.5,536.5 1705.3,537.0 1706.2,537.1 1707.0,537.1 1707.8,537.4 1708.7,538.0 1709.5,538.5 1710.3,538.9 1711.1,539.6 1712.0,540.2 1712.8,540.7 1713.6,540.7 1714.5,540.8 1715.3,541.2 1716.1,541.6 1716.9,541.9 1717.8,542.2 1718.6,542.7 1719.4,543.3 1720.3,543.9 1721.1,544.3 1721.9,544.8 1722.7,545.3 1723.6,545.7 1724.4,545.8 1725.2,545.9 1726.1,545.9 1726.9,546.4 1727.7,547.2 1728.5,548.0 1729.4,548.6 1730.2,549.4 1731.0,549.9 1731.8,549.9 1732.7,549.9 1733.5,550.3 1734.3,550.9 1735.2,551.0 1736.0,551.3 1736.8,551.8 1737.6,552.4 1738.5,552.7 1739.3,553.0 1740.1,553.6 1741.0,554.0 1741.8,554.4 1742.6,554.7 1743.4,555.1 1744.3,555.3 1745.1,555.6 1745.9,555.9 1746.8,556.4 1747.6,557.3 1748.4,558.2 1749.2,559.0 1750.1,559.4 1750.9,559.7 1751.7,559.7 1752.6,560.0 1753.4,560.5 1754.2,561.1 1755.0,561.2 1755.9,561.4 1756.7,562.0 1757.5,562.6 1758.4,563.1 1759.2,563.5 1760.0,563.8 1760.8,564.2 1761.7,564.3 1762.5,564.3 1763.3,564.4 1764.2,565.2 1765.0,565.8 1765.8,566.0 1766.6,566.1 1767.5,566.5 1768.3,567.3 1769.1,567.6 1770.0,567.8 1770.8,568.0 1771.6,568.4 1772.4,569.0 1773.3,569.4 1774.1,569.6 1774.9,569.7 1775.8,570.1 1776.6,570.8 1777.4,571.2 1778.2,571.8 1779.1,572.4 1779.9,573.1 1780.7,573.5 1781.6,573.7 1782.4,573.6 1783.2,573.5 1784.0,573.8 1784.9,574.6 1785.7,575.1 1786.5,575.5 1787.4,576.0 1788.2,576.6 1789.0,576.9 1789.8,577.0 1790.7,577.1 1791.5,577.5 1792.3,578.1 1793.2,578.5 1794.0,578.7 1794.8,578.9 1795.6,579.1 1796.5,579.1 1797.3,579.0 1798.1,579.2 1799.0,579.8 1799.8,580.4 1800.6,580.8 1801.4,580.9 1802.3,581.1 1803.1,581.4 1803.9,581.6 1804.8,581.9 1805.6,581.8 1806.4,581.8 1807.2,581.8 1808.1,582.0 1808.9,582.3 1809.7,582.8 1810.6,583.2 1811.4,583.4 1812.2,583.4 1813.0,583.7 1813.9,584.2 1814.7,584.8 1815.5,585.3 1816.4,585.7 1817.2,585.8 1818.0,585.8 1818.8,586.0 1819.7,586.2 1820.5,586.2 1821.3,586.1 1822.2,586.1 1823.0,586.2 1823.8,586.6 1824.6,587.1 1825.5,587.9 1826.3,588.1 1827.1,588.2 1828.0,588.5 1828.8,588.8 1829.6,589.0 1830.4,589.2 1831.3,589.5 1832.1,589.9 1832.9,590.2 1833.8,590.2 1834.6,590.3 1835.4,590.5 1836.2,590.7 1837.1,590.6 1837.9,590.5 1838.7,590.7 1839.6,591.0 1840.4,591.3 1841.2,591.6 1842.0,592.1 1842.9,592.6 1843.7,593.0 1844.5,593.1 1845.4,592.9 1846.2,592.6 1847.0,592.4 1847.8,592.5 1848.7,592.8 1849.5,593.1 1850.3,593.2 1851.2,593.5 1852.0,593.8 1852.8,594.0 1853.6,594.2 1854.5,594.2 1855.3,594.3 1856.1,595.0 1857.0,595.6 1857.8,595.9 1858.6,595.7 1859.4,595.9 1860.3,596.4 1861.1,596.9 1861.9,597.2 1862.8,597.2 1863.6,597.2 1864.4,597.2 1865.2,597.2 1866.1,597.2 1866.9,597.4 1867.7,597.6 1868.6,597.7 1869.4,597.9 1870.2,598.3 1871.0,598.7 1871.9,598.9 1872.7,599.1 1873.5,599.3 1874.4,599.6 1875.2,600.0 1876.0,600.3 1876.8,600.5 1877.7,600.5 1878.5,600.5 1879.3,600.6 1880.2,600.8 1881.0,601.0 1881.8,601.3 1882.6,601.5 1883.5,601.9 1884.3,602.4 1885.1,602.9 1886.0,603.3 1886.8,603.4 1887.6,603.2 1888.4,603.2 1889.3,603.7 1890.1,604.2 1890.9,604.5 1891.8,604.4 1892.6,604.6 1893.4,605.1 1894.2,605.6 1895.1,605.8 1895.9,605.7 1896.7,605.6 1897.5,605.8 1898.4,606.2 1899.2,606.4 1900.0,606.6 1900.9,607.0 1901.7,607.0 1902.5,606.7 1903.3,606.5 1904.2,606.9 1905.0,607.3 1905.8,607.5 1906.7,607.7 1907.5,608.1 1908.3,608.7 1909.1,608.7 1910.0,608.6 1910.8,608.8 1911.6,609.3 1912.5,609.6 1913.3,609.3 1914.1,609.3 1914.9,609.6 1915.8,609.9 1916.6,609.9 1917.4,610.1 1918.3,610.4 1919.1,610.5 1919.9,610.4 1920.7,610.3 1921.6,610.5 1922.4,610.9 1923.2,611.3 1924.1,611.5 1924.9,611.7 1925.7,611.8 1926.5,611.9 1927.4,611.7 1928.2,611.5 1929.0,611.5 1929.9,612.1 1930.7,612.3 1931.5,612.1 1932.3,611.7 1933.2,611.6 1934.0,612.0 1934.8,612.3 1935.7,612.3 1936.5,612.1 1937.3,612.1 1938.1,612.4 1939.0,612.4 1939.8,612.2 1940.6,611.9 1941.5,612.0 1942.3,612.4 1943.1,612.5 1943.9,612.5 1944.8,612.3 1945.6,612.0 1946.4,611.9 1947.3,611.8 1948.1,611.7 1948.9,611.8 1949.7,612.2 1950.6,612.4 1951.4,612.6 1952.2,612.7 1953.1,612.9 1953.9,612.8 1954.7,612.5 1955.5,612.3 1956.4,612.3 1957.2,612.4 1958.0,612.4 1958.9,612.2 1959.7,612.2 1960.5,612.3 1961.3,612.7 1962.2,612.8 1963.0,612.5 1963.8,612.3 1964.7,612.3 1965.5,612.4 1966.3,612.4 1967.1,612.0 1968.0,611.3 1968.8,610.7 1969.6,610.4 1970.5,610.7 1971.3,610.6 1972.1,609.9 1972.9,609.1 1973.8,608.4 1974.6,608.0 1975.4,608.1 1976.3,608.0 1977.1,607.7 1977.9,607.4 1978.7,607.1 1979.6,606.8 1980.4,606.4 1981.2,606.0 1982.1,605.4 1982.9,604.7 1983.7,604.2 1984.5,603.9 1985.4,603.3 1986.2,602.4 1987.0,601.3 1987.9,600.7 1988.7,600.2 1989.5,599.8 1990.3,599.1 1991.2,598.4 1992.0,597.8 1992.8,597.0 1993.7,596.1 1994.5,595.3 1995.3,595.0 1996.1,594.9 1997.0,594.4 1997.8,593.7 1998.6,593.2 1999.5,593.3 2000.3,593.0 2001.1,592.3 2001.9,591.7 2002.8,591.2 2003.6,590.9 2004.4,590.4 2005.3,590.1 2006.1,589.9 2006.9,589.7 2007.7,589.3 2008.6,589.4 2009.4,589.1 2010.2,588.7 2011.1,588.2 2011.9,588.0 2012.7,587.7 2013.5,587.4 2014.4,586.8 2015.2,586.1 2016.0,585.3 2016.9,585.1 2017.7,585.5 2018.5,585.6 2019.3,585.3 2020.2,584.7 2021.0,584.7 2021.8,584.8 2022.7,584.7 2023.5,584.7 2024.3,584.7 2025.1,584.4 2026.0,583.8 2026.8,583.3 2027.6,583.0 2028.5,582.9 2029.3,582.8 2030.1,583.0 2030.9,583.3 2031.8,583.5 2032.6,583.3 2033.4,583.1 2034.3,583.4 2035.1,584.0 2035.9,584.6 2036.7,584.7 2037.6,584.3 2038.4,584.4 2039.2,584.8 2040.1,585.2 2040.9,585.3 2041.7,585.5 2042.5,585.9 2043.4,586.5 2044.2,586.9 2045.0,587.1 2045.9,587.3 2046.7,587.5 2047.5,587.6 2048.3,587.6 2049.2,587.9 2050.0,588.2 2050.8,588.4 2051.7,588.6 2052.5,588.9 2053.3,589.2 2054.1,589.8 2055.0,590.3 2055.8,590.7 2056.6,591.1 2057.5,591.6 2058.3,591.7 2059.1,591.8 2059.9,592.2 2060.8,593.1 2061.6,594.3 2062.4,594.7 2063.2,594.7 2064.1,594.9 2064.9,595.4 2065.7,595.8 2066.6,596.1 2067.4,596.8 2068.2,597.5 2069.0,597.9 2069.9,598.3 2070.7,599.0 2071.5,599.3 2072.4,599.4 2073.2,599.5 2074.0,600.0"/>
<polyline fill="none" stroke="#ff0000" stroke-width="4.6" stroke-linejoin="round" stroke-linecap="round"  points="1394.7,426.1 1396.3,403.4 1398.0,380.7 1399.6,357.8 1401.3,334.9 1402.9,311.8 1404.6,287.5 1406.2,261.5 1407.9,235.9 1409.6,212.8 1411.2,194.5 1412.9,180.7 1414.5,169.0 1416.2,158.8 1417.8,149.5 1419.5,140.7 1421.2,131.7 1422.8,122.7 1424.5,115.1 1426.1,110.2 1427.8,107.4 1429.4,105.2 1431.1,103.8 1432.8,103.6 1434.4,104.9 1436.1,107.5 1437.7,110.9 1439.4,114.4 1441.0,117.7 1442.7,120.4 1444.4,123.3 1446.0,126.2 1447.7,129.1 1449.3,132.1 1451.0,134.9 1452.6,137.7 1454.3,140.4 1456.0,142.9 1457.6,145.1 1459.3,147.1 1460.9,149.0 1462.6,150.8 1464.2,152.6 1465.9,154.6 1467.6,156.8 1469.2,159.2 1470.9,162.2 1472.5,165.7 1474.2,169.6 1475.8,173.8 1477.5,178.3 1479.2,182.8 1480.8,187.4 1482.5,191.7 1484.1,195.9 1485.8,200.2 1487.4,204.5 1489.1,208.8 1490.8,213.1 1492.4,217.3 1494.1,221.4 1495.7,225.3 1497.4,229.0 1499.0,232.5 1500.7,235.9 1502.4,239.2 1504.0,242.4 1505.7,245.6 1507.3,248.8 1509.0,252.0 1510.6,255.3 1512.3,258.6 1514.0,262.0 1515.6,265.6 1517.3,269.4 1518.9,273.2 1520.6,277.0 1522.2,280.9 1523.9,284.7 1525.6,288.5 1527.2,292.3 1528.9,295.9 1530.5,299.3 1532.2,302.6 1533.8,305.7 1535.5,308.5 1537.2,311.0 1538.8,313.5 1540.5,315.8 1542.1,318.0 1543.8,320.1 1545.4,322.1 1547.1,324.1 1548.8,326.0 1550.4,327.8 1552.1,329.6 1553.7,331.4 1555.4,333.2 1557.0,335.1 1558.7,337.1 1560.3,339.1 1562.0,341.2 1563.7,343.2 1565.3,345.1 1567.0,346.8 1568.6,348.2 1570.3,349.2 1571.9,349.8 1573.6,349.9 1575.3,349.5 1576.9,348.6 1578.6,347.5 1580.2,346.2 1581.9,343.8 1583.5,340.3 1585.2,337.2 1586.9,335.8 1588.5,337.0 1590.2,339.8 1591.8,343.3 1593.5,347.5 1595.1,353.0 1596.8,359.8 1598.5,368.4 1600.1,377.9 1601.8,387.0 1603.4,394.6 1605.1,401.2 1606.7,407.2 1608.4,412.6 1610.1,417.3 1611.7,421.4 1613.4,425.2 1615.0,428.7 1616.7,432.0 1618.3,435.1 1620.0,438.1 1621.7,441.1 1623.3,444.0 1625.0,447.0 1626.6,450.1 1628.3,453.2 1629.9,456.4 1631.6,459.6 1633.3,462.7 1634.9,465.8 1636.6,468.8 1638.2,471.8 1639.9,474.6 1641.5,477.3 1643.2,479.9 1644.9,482.3 1646.5,484.6 1648.2,486.9 1649.8,489.1 1651.5,491.2 1653.1,493.2 1654.8,495.3 1656.5,497.3 1658.1,499.2 1659.8,501.2 1661.4,503.2 1663.1,505.2 1664.7,507.2 1666.4,509.1 1668.1,511.1 1669.7,512.9 1671.4,514.7 1673.0,516.4 1674.7,518.0 1676.3,519.5 1678.0,520.9 1679.7,522.2 1681.3,523.5 1683.0,524.7 1684.6,525.8 1686.3,526.9 1687.9,528.0 1689.6,529.1 1691.3,530.1 1692.9,531.1 1694.6,532.2 1696.2,533.2 1697.9,534.2 1699.5,535.1 1701.2,536.1 1702.9,537.0 1704.5,538.0 1706.2,538.9 1707.8,539.8 1709.5,540.7 1711.1,541.6 1712.8,542.4 1714.5,543.3 1716.1,544.2 1717.8,545.1 1719.4,545.9 1721.1,546.8 1722.7,547.6 1724.4,548.5 1726.1,549.4 1727.7,550.2 1729.4,551.1 1731.0,552.0 1732.7,552.8 1734.3,553.7 1736.0,554.6 1737.6,555.4 1739.3,556.3 1741.0,557.1 1742.6,558.0 1744.3,558.8 1745.9,559.7 1747.6,560.5 1749.2,561.3 1750.9,562.1 1752.6,562.9 1754.2,563.7 1755.9,564.5 1757.5,565.2 1759.2,566.0 1760.8,566.7 1762.5,567.4 1764.2,568.2 1765.8,568.9 1767.5,569.6 1769.1,570.3 1770.8,571.0 1772.4,571.7 1774.1,572.4 1775.8,573.1 1777.4,573.8 1779.1,574.4 1780.7,575.1 1782.4,575.7 1784.0,576.4 1785.7,577.0 1787.4,577.6 1789.0,578.2 1790.7,578.7 1792.3,579.3 1794.0,579.8 1795.6,580.3 1797.3,580.9 1799.0,581.4 1800.6,581.9 1802.3,582.3 1803.9,582.8 1805.6,583.3 1807.2,583.7 1808.9,584.2 1810.6,584.6 1812.2,585.1 1813.9,585.5 1815.5,585.9 1817.2,586.4 1818.8,586.8 1820.5,587.2 1822.2,587.6 1823.8,588.0 1825.5,588.4 1827.1,588.8 1828.8,589.2 1830.4,589.6 1832.1,590.0 1833.8,590.4 1835.4,590.8 1837.1,591.1 1838.7,591.5 1840.4,591.9 1842.0,592.2 1843.7,592.6 1845.4,592.9 1847.0,593.3 1848.7,593.7 1850.3,594.0 1852.0,594.4 1853.6,594.8 1855.3,595.1 1857.0,595.5 1858.6,595.9 1860.3,596.3 1861.9,596.7 1863.6,597.1 1865.2,597.6 1866.9,598.0 1868.6,598.4 1870.2,598.9 1871.9,599.3 1873.5,599.8 1875.2,600.2 1876.8,600.7 1878.5,601.1 1880.2,601.6 1881.8,602.0 1883.5,602.5 1885.1,602.9 1886.8,603.4 1888.4,603.8 1890.1,604.2 1891.8,604.6 1893.4,605.0 1895.1,605.4 1896.7,605.8 1898.4,606.1 1900.0,606.5 1901.7,606.8 1903.3,607.1 1905.0,607.5 1906.7,607.9 1908.3,608.2 1910.0,608.6 1911.6,608.9 1913.3,609.3 1914.9,609.7 1916.6,610.0 1918.3,610.3 1919.9,610.6 1921.6,610.9 1923.2,611.2 1924.9,611.5 1926.5,611.7 1928.2,611.9 1929.9,612.0 1931.5,612.2 1933.2,612.3 1934.8,612.3 1936.5,612.3 1938.1,612.3 1939.8,612.3 1941.5,612.2 1943.1,612.2 1944.8,612.1 1946.4,612.1 1948.1,612.0 1949.7,611.9 1951.4,611.8 1953.1,611.7 1954.7,611.6 1956.4,611.5 1958.0,611.4 1959.7,611.2 1961.3,610.9 1963.0,610.5 1964.7,610.1 1966.3,609.6 1968.0,609.1 1969.6,608.5 1971.3,607.8 1972.9,607.2 1974.6,606.5 1976.3,605.8 1977.9,605.2 1979.6,604.4 1981.2,603.6 1982.9,602.6 1984.5,601.6 1986.2,600.6 1987.9,599.5 1989.5,598.4 1991.2,597.4 1992.8,596.3 1994.5,595.3 1996.1,594.4 1997.8,593.6 1999.5,592.9 2001.1,592.2 2002.8,591.6 2004.4,590.9 2006.1,590.2 2007.7,589.5 2009.4,588.9 2011.1,588.3 2012.7,587.7 2014.4,587.1 2016.0,586.7 2017.7,586.2 2019.3,585.9 2021.0,585.6 2022.7,585.5 2024.3,585.4 2026.0,585.4 2027.6,585.5 2029.3,585.7 2030.9,586.0 2032.6,586.4 2034.3,586.8 2035.9,587.2 2037.6,587.7 2039.2,588.2 2040.9,588.7 2042.5,589.3 2044.2,589.9 2045.9,590.4 2047.5,590.9 2049.2,591.4 2050.8,592.0 2052.5,592.5 2054.1,593.0 2055.8,593.6 2057.5,594.2 2059.1,594.8 2060.8,595.4 2062.4,596.1 2064.1,596.7 2065.7,597.4 2067.4,598.1 2069.0,598.8 2070.7,599.5 2072.4,600.2 2074.0,601.0"/>
<rect x="1311.8" y="52.8" width="828.5" height="608.3" fill="none" stroke="#000" stroke-width="4.0"/>
<path d="M1311.8 661.1v14M1477.5 661.1v14M1643.2 661.1v14M1808.9 661.1v14M1974.6 661.1v14M2140.3 661.1v14M1394.7 661.1v8.5M1560.3 661.1v8.5M1726.1 661.1v8.5M1891.8 661.1v8.5M2057.5 661.1v8.5M1311.8 632.1h-14.5M1311.8 487.3h-14.5M1311.8 342.4h-14.5M1311.8 197.6h-14.5M1311.8 52.8h-14.5M1311.8 559.7h-8.5M1311.8 414.9h-8.5M1311.8 270.0h-8.5M1311.8 125.2h-8.5" stroke="#000" stroke-width="4.0" fill="none"/>
<text x="1312.1" y="711.5" font-family='"Liberation Sans", Arial, Helvetica, sans-serif' font-size="36" font-weight="bold" text-anchor="middle" fill="#000" letter-spacing="0.6">300</text>
<text x="1477.8" y="711.5" font-family='"Liberation Sans", Arial, Helvetica, sans-serif' font-size="36" font-weight="bold" text-anchor="middle" fill="#000" letter-spacing="0.6">400</text>
<text x="1643.5" y="711.5" font-family='"Liberation Sans", Arial, Helvetica, sans-serif' font-size="36" font-weight="bold" text-anchor="middle" fill="#000" letter-spacing="0.6">500</text>
<text x="1809.2" y="711.5" font-family='"Liberation Sans", Arial, Helvetica, sans-serif' font-size="36" font-weight="bold" text-anchor="middle" fill="#000" letter-spacing="0.6">600</text>
<text x="1974.9" y="711.5" font-family='"Liberation Sans", Arial, Helvetica, sans-serif' font-size="36" font-weight="bold" text-anchor="middle" fill="#000" letter-spacing="0.6">700</text>
<text x="2140.6" y="711.5" font-family='"Liberation Sans", Arial, Helvetica, sans-serif' font-size="36" font-weight="bold" text-anchor="middle" fill="#000" letter-spacing="0.6">800</text>
<text x="1290.0" y="643.4" font-family='"Liberation Sans", Arial, Helvetica, sans-serif' font-size="36" font-weight="bold" text-anchor="end" fill="#000" letter-spacing="0.6">0.0</text>
<text x="1290.0" y="498.6" font-family='"Liberation Sans", Arial, Helvetica, sans-serif' font-size="36" font-weight="bold" text-anchor="end" fill="#000" letter-spacing="0.6">0.5</text>
<text x="1290.0" y="353.8" font-family='"Liberation Sans", Arial, Helvetica, sans-serif' font-size="36" font-weight="bold" text-anchor="end" fill="#000" letter-spacing="0.6">1.0</text>
<text x="1290.0" y="208.9" font-family='"Liberation Sans", Arial, Helvetica, sans-serif' font-size="36" font-weight="bold" text-anchor="end" fill="#000" letter-spacing="0.6">1.5</text>
<text x="1290.0" y="64.1" font-family='"Liberation Sans", Arial, Helvetica, sans-serif' font-size="36" font-weight="bold" text-anchor="end" fill="#000" letter-spacing="0.6">2.0</text>
<text x="1724.1" y="784.0" font-family='"Liberation Sans", Arial, Helvetica, sans-serif' font-size="48" font-weight="bold" text-anchor="middle" fill="#000" textLength="393" lengthAdjust="spacing">Wavelength (nm)</text>
<text transform="translate(1187.5 385.5) rotate(-90)" font-family='"Liberation Sans", Arial, Helvetica, sans-serif' font-size="48" font-weight="bold" text-anchor="middle" textLength="331" lengthAdjust="spacing">Intensity (a.u.)</text>
<line x1="1904.7" y1="102.3" x2="1971.6" y2="102.3" stroke="#000" stroke-width="4.1" stroke-linecap="round"/>
<text x="1984.0" y="112.3" font-family='"Liberation Sans", Arial, Helvetica, sans-serif' font-size="35" font-weight="bold" text-anchor="start" fill="#000" >S1</text>
<line x1="1904.7" y1="149.6" x2="1971.6" y2="149.6" stroke="#ff0000" stroke-width="4.1" stroke-linecap="round"/>
<text x="1984.0" y="159.6" font-family='"Liberation Sans", Arial, Helvetica, sans-serif' font-size="35" font-weight="bold" text-anchor="start" fill="#000" letter-spacing="0.9">Fitting</text>
<text x="1417.3" y="378.5" font-family='"Liberation Sans", Arial, Helvetica, sans-serif' font-size="31.5" font-weight="bold" text-anchor="middle" fill="#000" letter-spacing="1.6">367</text>
<text x="1462.3" y="260.5" font-family='"Liberation Sans", Arial, Helvetica, sans-serif' font-size="31.5" font-weight="bold" text-anchor="middle" fill="#000" letter-spacing="1.6">387</text>
<text x="1547.5" y="372.2" font-family='"Liberation Sans", Arial, Helvetica, sans-serif' font-size="31.5" font-weight="bold" text-anchor="middle" fill="#000" letter-spacing="1.6">440</text>
<text x="1593.6" y="553.5" font-family='"Liberation Sans", Arial, Helvetica, sans-serif' font-size="31.5" font-weight="bold" text-anchor="middle" fill="#000" letter-spacing="1.6">466</text>
<text x="1678.1" y="525.2" font-family='"Liberation Sans", Arial, Helvetica, sans-serif' font-size="31.5" font-weight="bold" text-anchor="middle" fill="#000" letter-spacing="1.6">515</text>
<text x="1861.8" y="592.3" font-family='"Liberation Sans", Arial, Helvetica, sans-serif' font-size="31.5" font-weight="bold" text-anchor="middle" fill="#000" letter-spacing="1.6">625</text>
<text x="2033.2" y="574.9" font-family='"Liberation Sans", Arial, Helvetica, sans-serif' font-size="31.5" font-weight="bold" text-anchor="middle" fill="#000" letter-spacing="1.6">732</text>
<polyline fill="none" stroke="#0000ff" stroke-width="3.8" stroke-linejoin="round" stroke-linecap="round"  points="294.8,1397.8 296.5,1391.6 298.2,1384.6 299.8,1376.9 301.5,1368.6 303.1,1359.7 304.8,1350.3 306.4,1340.5 308.1,1330.4 309.8,1320.3 311.4,1310.2 313.1,1300.5 314.7,1291.2 316.4,1282.7 318.0,1275.0 319.7,1268.5 321.3,1263.2 323.0,1259.3 324.7,1257.0 326.3,1256.2 328.0,1257.0 329.6,1259.3 331.3,1263.2 332.9,1268.5 334.6,1275.0 336.3,1282.7 337.9,1291.2 339.6,1300.5 341.2,1310.2 342.9,1320.3 344.5,1330.4 346.2,1340.5 347.9,1350.3 349.5,1359.7 351.2,1368.6 352.8,1376.9 354.5,1384.6 356.1,1391.6 357.8,1397.8 359.5,1403.3 361.1,1408.2 362.8,1412.4 364.4,1416.0 366.1,1419.1 367.7,1421.7 369.4,1423.8 371.1,1425.6 372.7,1427.0 374.4,1428.1 376.0,1429.0 377.7,1429.7 379.3,1430.3 381.0,1430.7 382.7,1431.1 384.3,1431.3 386.0,1431.5 387.6,1431.6 389.3,1431.7 390.9,1431.8 392.6,1431.9 394.2,1431.9 395.9,1431.9 397.6,1432.0 399.2,1432.0 400.9,1432.0 402.5,1432.0 404.2,1432.0 405.8,1432.0 407.5,1432.0 409.2,1432.0 410.8,1432.0 412.5,1432.0 414.1,1432.0 415.8,1432.0 417.4,1432.0 419.1,1432.0 420.8,1432.0 422.4,1432.0 424.1,1432.0 425.7,1432.0 427.4,1432.0 429.0,1432.0 430.7,1432.0 432.4,1432.0 434.0,1432.0 435.7,1432.0 437.3,1432.0 439.0,1432.0 440.6,1432.0 442.3,1432.0 444.0,1432.0 445.6,1432.0 447.3,1432.0 448.9,1432.0 450.6,1432.0 452.2,1432.0 453.9,1432.0 455.5,1432.0 457.2,1432.0 458.9,1432.0 460.5,1432.0 462.2,1432.0 463.8,1432.0 465.5,1432.0 467.1,1432.0 468.8,1432.0 470.5,1432.0 472.1,1432.0 473.8,1432.0 475.4,1432.0 477.1,1432.0 478.7,1432.0 480.4,1432.0 482.1,1432.0 483.7,1432.0 485.4,1432.0 487.0,1432.0 488.7,1432.0 490.3,1432.0 492.0,1432.0 493.7,1432.0 495.3,1432.0 497.0,1432.0 498.6,1432.0 500.3,1432.0 501.9,1432.0 503.6,1432.0 505.3,1432.0 506.9,1432.0 508.6,1432.0 510.2,1432.0 511.9,1432.0 513.5,1432.0 515.2,1432.0 516.9,1432.0 518.5,1432.0 520.2,1432.0 521.8,1432.0 523.5,1432.0 525.1,1432.0 526.8,1432.0 528.4,1432.0 530.1,1432.0 531.8,1432.0 533.4,1432.0 535.1,1432.0 536.7,1432.0 538.4,1432.0 540.0,1432.0 541.7,1432.0 543.4,1432.0 545.0,1432.0 546.7,1432.0 548.3,1432.0 550.0,1432.0 551.6,1432.0 553.3,1432.0 555.0,1432.0 556.6,1432.0 558.3,1432.0 559.9,1432.0 561.6,1432.0 563.2,1432.0 564.9,1432.0 566.6,1432.0 568.2,1432.0 569.9,1432.0 571.5,1432.0 573.2,1432.0 574.8,1432.0 576.5,1432.0 578.2,1432.0 579.8,1432.0 581.5,1432.0 583.1,1432.0 584.8,1432.0 586.4,1432.0 588.1,1432.0 589.8,1432.0 591.4,1432.0 593.1,1432.0 594.7,1432.0 596.4,1432.0 598.0,1432.0 599.7,1432.0 601.3,1432.0 603.0,1432.0 604.7,1432.0 606.3,1432.0 608.0,1432.0 609.6,1432.0 611.3,1432.0 612.9,1432.0 614.6,1432.0 616.3,1432.0 617.9,1432.0 619.6,1432.0 621.2,1432.0 622.9,1432.0 624.5,1432.0 626.2,1432.0 627.9,1432.0 629.5,1432.0 631.2,1432.0 632.8,1432.0 634.5,1432.0 636.1,1432.0 637.8,1432.0 639.5,1432.0 641.1,1432.0 642.8,1432.0 644.4,1432.0 646.1,1432.0 647.7,1432.0 649.4,1432.0 651.1,1432.0 652.7,1432.0 654.4,1432.0 656.0,1432.0 657.7,1432.0 659.3,1432.0 661.0,1432.0 662.6,1432.0 664.3,1432.0 666.0,1432.0 667.6,1432.0 669.3,1432.0 670.9,1432.0 672.6,1432.0 674.2,1432.0 675.9,1432.0 677.6,1432.0 679.2,1432.0 680.9,1432.0 682.5,1432.0 684.2,1432.0 685.8,1432.0 687.5,1432.0 689.2,1432.0 690.8,1432.0 692.5,1432.0 694.1,1432.0 695.8,1432.0 697.4,1432.0 699.1,1432.0 700.8,1432.0 702.4,1432.0 704.1,1432.0 705.7,1432.0 707.4,1432.0 709.0,1432.0 710.7,1432.0 712.4,1432.0 714.0,1432.0 715.7,1432.0 717.3,1432.0 719.0,1432.0 720.6,1432.0 722.3,1432.0 724.0,1432.0 725.6,1432.0 727.3,1432.0 728.9,1432.0 730.6,1432.0 732.2,1432.0 733.9,1432.0 735.5,1432.0 737.2,1432.0 738.9,1432.0 740.5,1432.0 742.2,1432.0 743.8,1432.0 745.5,1432.0 747.1,1432.0 748.8,1432.0 750.5,1432.0 752.1,1432.0 753.8,1432.0 755.4,1432.0 757.1,1432.0 758.7,1432.0 760.4,1432.0 762.1,1432.0 763.7,1432.0 765.4,1432.0 767.0,1432.0 768.7,1432.0 770.3,1432.0 772.0,1432.0 773.7,1432.0 775.3,1432.0 777.0,1432.0 778.6,1432.0 780.3,1432.0 781.9,1432.0 783.6,1432.0 785.3,1432.0 786.9,1432.0 788.6,1432.0 790.2,1432.0 791.9,1432.0 793.5,1432.0 795.2,1432.0 796.9,1432.0 798.5,1432.0 800.2,1432.0 801.8,1432.0 803.5,1432.0 805.1,1432.0 806.8,1432.0 808.4,1432.0 810.1,1432.0 811.8,1432.0 813.4,1432.0 815.1,1432.0 816.7,1432.0 818.4,1432.0 820.0,1432.0 821.7,1432.0 823.4,1432.0 825.0,1432.0 826.7,1432.0 828.3,1432.0 830.0,1432.0 831.6,1432.0 833.3,1432.0 835.0,1432.0 836.6,1432.0 838.3,1432.0 839.9,1432.0 841.6,1432.0 843.2,1432.0 844.9,1432.0 846.6,1432.0 848.2,1432.0 849.9,1432.0 851.5,1432.0 853.2,1432.0 854.8,1432.0 856.5,1432.0 858.2,1432.0 859.8,1432.0 861.5,1432.0 863.1,1432.0 864.8,1432.0 866.4,1432.0 868.1,1432.0 869.7,1432.0 871.4,1432.0 873.1,1432.0 874.7,1432.0 876.4,1432.0 878.0,1432.0 879.7,1432.0 881.3,1432.0 883.0,1432.0 884.7,1432.0 886.3,1432.0 888.0,1432.0 889.6,1432.0 891.3,1432.0 892.9,1432.0 894.6,1432.0 896.3,1432.0 897.9,1432.0 899.6,1432.0 901.2,1432.0 902.9,1432.0 904.5,1432.0 906.2,1432.0 907.9,1432.0 909.5,1432.0 911.2,1432.0 912.8,1432.0 914.5,1432.0 916.1,1432.0 917.8,1432.0 919.5,1432.0 921.1,1432.0 922.8,1432.0 924.4,1432.0 926.1,1432.0 927.7,1432.0 929.4,1432.0 931.1,1432.0 932.7,1432.0 934.4,1432.0 936.0,1432.0 937.7,1432.0 939.3,1432.0 941.0,1432.0 942.6,1432.0 944.3,1432.0 946.0,1432.0 947.6,1432.0 949.3,1432.0 950.9,1432.0 952.6,1432.0 954.2,1432.0 955.9,1432.0 957.6,1432.0 959.2,1432.0 960.9,1432.0 962.5,1432.0 964.2,1432.0 965.8,1432.0 967.5,1432.0 969.2,1432.0 970.8,1432.0 972.5,1432.0 974.1,1432.0"/>
<polyline fill="none" stroke="#ff00ff" stroke-width="3.8" stroke-linejoin="round" stroke-linecap="round"  points="294.8,1358.5 296.5,1352.4 298.2,1346.1 299.8,1339.4 301.5,1332.3 303.1,1324.9 304.8,1317.2 306.4,1309.1 308.1,1300.7 309.8,1292.0 311.4,1283.0 313.1,1273.7 314.7,1264.1 316.4,1254.2 318.0,1244.1 319.7,1233.8 321.3,1223.3 323.0,1212.7 324.7,1201.9 326.3,1191.0 328.0,1180.1 329.6,1169.1 331.3,1158.2 332.9,1147.3 334.6,1136.6 336.3,1125.9 337.9,1115.5 339.6,1105.3 341.2,1095.4 342.9,1085.8 344.5,1076.6 346.2,1067.8 347.9,1059.5 349.5,1051.7 351.2,1044.4 352.8,1037.6 354.5,1031.5 356.1,1026.0 357.8,1021.2 359.5,1017.1 361.1,1013.7 362.8,1011.1 364.4,1009.2 366.1,1008.0 367.7,1007.6 369.4,1008.0 371.1,1009.2 372.7,1011.1 374.4,1013.7 376.0,1017.1 377.7,1021.2 379.3,1026.0 381.0,1031.5 382.7,1037.6 384.3,1044.4 386.0,1051.7 387.6,1059.5 389.3,1067.8 390.9,1076.6 392.6,1085.8 394.2,1095.4 395.9,1105.3 397.6,1115.5 399.2,1125.9 400.9,1136.6 402.5,1147.3 404.2,1158.2 405.8,1169.1 407.5,1180.1 409.2,1191.0 410.8,1201.9 412.5,1212.7 414.1,1223.3 415.8,1233.8 417.4,1244.1 419.1,1254.2 420.8,1264.1 422.4,1273.7 424.1,1283.0 425.7,1292.0 427.4,1300.7 429.0,1309.1 430.7,1317.2 432.4,1324.9 434.0,1332.3 435.7,1339.4 437.3,1346.1 439.0,1352.4 440.6,1358.5 442.3,1364.2 444.0,1369.5 445.6,1374.6 447.3,1379.3 448.9,1383.7 450.6,1387.9 452.2,1391.7 453.9,1395.3 455.5,1398.6 457.2,1401.7 458.9,1404.6 460.5,1407.2 462.2,1409.6 463.8,1411.8 465.5,1413.8 467.1,1415.7 468.8,1417.4 470.5,1418.9 472.1,1420.3 473.8,1421.6 475.4,1422.7 477.1,1423.8 478.7,1424.7 480.4,1425.5 482.1,1426.3 483.7,1427.0 485.4,1427.6 487.0,1428.1 488.7,1428.6 490.3,1429.0 492.0,1429.4 493.7,1429.7 495.3,1430.0 497.0,1430.3 498.6,1430.5 500.3,1430.7 501.9,1430.9 503.6,1431.0 505.3,1431.2 506.9,1431.3 508.6,1431.4 510.2,1431.5 511.9,1431.6 513.5,1431.6 515.2,1431.7 516.9,1431.7 518.5,1431.8 520.2,1431.8 521.8,1431.8 523.5,1431.9 525.1,1431.9 526.8,1431.9 528.4,1431.9 530.1,1431.9 531.8,1431.9 533.4,1432.0 535.1,1432.0 536.7,1432.0 538.4,1432.0 540.0,1432.0 541.7,1432.0 543.4,1432.0 545.0,1432.0 546.7,1432.0 548.3,1432.0 550.0,1432.0 551.6,1432.0 553.3,1432.0 555.0,1432.0 556.6,1432.0 558.3,1432.0 559.9,1432.0 561.6,1432.0 563.2,1432.0 564.9,1432.0 566.6,1432.0 568.2,1432.0 569.9,1432.0 571.5,1432.0 573.2,1432.0 574.8,1432.0 576.5,1432.0 578.2,1432.0 579.8,1432.0 581.5,1432.0 583.1,1432.0 584.8,1432.0 586.4,1432.0 588.1,1432.0 589.8,1432.0 591.4,1432.0 593.1,1432.0 594.7,1432.0 596.4,1432.0 598.0,1432.0 599.7,1432.0 601.3,1432.0 603.0,1432.0 604.7,1432.0 606.3,1432.0 608.0,1432.0 609.6,1432.0 611.3,1432.0 612.9,1432.0 614.6,1432.0 616.3,1432.0 617.9,1432.0 619.6,1432.0 621.2,1432.0 622.9,1432.0 624.5,1432.0 626.2,1432.0 627.9,1432.0 629.5,1432.0 631.2,1432.0 632.8,1432.0 634.5,1432.0 636.1,1432.0 637.8,1432.0 639.5,1432.0 641.1,1432.0 642.8,1432.0 644.4,1432.0 646.1,1432.0 647.7,1432.0 649.4,1432.0 651.1,1432.0 652.7,1432.0 654.4,1432.0 656.0,1432.0 657.7,1432.0 659.3,1432.0 661.0,1432.0 662.6,1432.0 664.3,1432.0 666.0,1432.0 667.6,1432.0 669.3,1432.0 670.9,1432.0 672.6,1432.0 674.2,1432.0 675.9,1432.0 677.6,1432.0 679.2,1432.0 680.9,1432.0 682.5,1432.0 684.2,1432.0 685.8,1432.0 687.5,1432.0 689.2,1432.0 690.8,1432.0 692.5,1432.0 694.1,1432.0 695.8,1432.0 697.4,1432.0 699.1,1432.0 700.8,1432.0 702.4,1432.0 704.1,1432.0 705.7,1432.0 707.4,1432.0 709.0,1432.0 710.7,1432.0 712.4,1432.0 714.0,1432.0 715.7,1432.0 717.3,1432.0 719.0,1432.0 720.6,1432.0 722.3,1432.0 724.0,1432.0 725.6,1432.0 727.3,1432.0 728.9,1432.0 730.6,1432.0 732.2,1432.0 733.9,1432.0 735.5,1432.0 737.2,1432.0 738.9,1432.0 740.5,1432.0 742.2,1432.0 743.8,1432.0 745.5,1432.0 747.1,1432.0 748.8,1432.0 750.5,1432.0 752.1,1432.0 753.8,1432.0 755.4,1432.0 757.1,1432.0 758.7,1432.0 760.4,1432.0 762.1,1432.0 763.7,1432.0 765.4,1432.0 767.0,1432.0 768.7,1432.0 770.3,1432.0 772.0,1432.0 773.7,1432.0 775.3,1432.0 777.0,1432.0 778.6,1432.0 780.3,1432.0 781.9,1432.0 783.6,1432.0 785.3,1432.0 786.9,1432.0 788.6,1432.0 790.2,1432.0 791.9,1432.0 793.5,1432.0 795.2,1432.0 796.9,1432.0 798.5,1432.0 800.2,1432.0 801.8,1432.0 803.5,1432.0 805.1,1432.0 806.8,1432.0 808.4,1432.0 810.1,1432.0 811.8,1432.0 813.4,1432.0 815.1,1432.0 816.7,1432.0 818.4,1432.0 820.0,1432.0 821.7,1432.0 823.4,1432.0 825.0,1432.0 826.7,1432.0 828.3,1432.0 830.0,1432.0 831.6,1432.0 833.3,1432.0 835.0,1432.0 836.6,1432.0 838.3,1432.0 839.9,1432.0 841.6,1432.0 843.2,1432.0 844.9,1432.0 846.6,1432.0 848.2,1432.0 849.9,1432.0 851.5,1432.0 853.2,1432.0 854.8,1432.0 856.5,1432.0 858.2,1432.0 859.8,1432.0 861.5,1432.0 863.1,1432.0 864.8,1432.0 866.4,1432.0 868.1,1432.0 869.7,1432.0 871.4,1432.0 873.1,1432.0 874.7,1432.0 876.4,1432.0 878.0,1432.0 879.7,1432.0 881.3,1432.0 883.0,1432.0 884.7,1432.0 886.3,1432.0 888.0,1432.0 889.6,1432.0 891.3,1432.0 892.9,1432.0 894.6,1432.0 896.3,1432.0 897.9,1432.0 899.6,1432.0 901.2,1432.0 902.9,1432.0 904.5,1432.0 906.2,1432.0 907.9,1432.0 909.5,1432.0 911.2,1432.0 912.8,1432.0 914.5,1432.0 916.1,1432.0 917.8,1432.0 919.5,1432.0 921.1,1432.0 922.8,1432.0 924.4,1432.0 926.1,1432.0 927.7,1432.0 929.4,1432.0 931.1,1432.0 932.7,1432.0 934.4,1432.0 936.0,1432.0 937.7,1432.0 939.3,1432.0 941.0,1432.0 942.6,1432.0 944.3,1432.0 946.0,1432.0 947.6,1432.0 949.3,1432.0 950.9,1432.0 952.6,1432.0 954.2,1432.0 955.9,1432.0 957.6,1432.0 959.2,1432.0 960.9,1432.0 962.5,1432.0 964.2,1432.0 965.8,1432.0 967.5,1432.0 969.2,1432.0 970.8,1432.0 972.5,1432.0 974.1,1432.0"/>
<polyline fill="none" stroke="#008000" stroke-width="3.8" stroke-linejoin="round" stroke-linecap="round"  points="294.8,1431.8 296.5,1431.8 298.2,1431.7 299.8,1431.7 301.5,1431.7 303.1,1431.6 304.8,1431.5 306.4,1431.5 308.1,1431.4 309.8,1431.3 311.4,1431.2 313.1,1431.1 314.7,1431.0 316.4,1430.9 318.0,1430.7 319.7,1430.6 321.3,1430.4 323.0,1430.2 324.7,1429.9 326.3,1429.7 328.0,1429.4 329.6,1429.0 331.3,1428.7 332.9,1428.3 334.6,1427.8 336.3,1427.4 337.9,1426.8 339.6,1426.2 341.2,1425.6 342.9,1424.9 344.5,1424.1 346.2,1423.3 347.9,1422.3 349.5,1421.3 351.2,1420.2 352.8,1419.0 354.5,1417.7 356.1,1416.3 357.8,1414.8 359.5,1413.1 361.1,1411.4 362.8,1409.5 364.4,1407.4 366.1,1405.2 367.7,1402.9 369.4,1400.3 371.1,1397.6 372.7,1394.8 374.4,1391.7 376.0,1388.5 377.7,1385.0 379.3,1381.4 381.0,1377.5 382.7,1373.5 384.3,1369.2 386.0,1364.7 387.6,1359.9 389.3,1355.0 390.9,1349.8 392.6,1344.4 394.2,1338.7 395.9,1332.9 397.6,1326.8 399.2,1320.4 400.9,1313.9 402.5,1307.2 404.2,1300.2 405.8,1293.1 407.5,1285.7 409.2,1278.2 410.8,1270.5 412.5,1262.7 414.1,1254.8 415.8,1246.7 417.4,1238.5 419.1,1230.2 420.8,1221.9 422.4,1213.5 424.1,1205.1 425.7,1196.7 427.4,1188.3 429.0,1180.0 430.7,1171.8 432.4,1163.6 434.0,1155.6 435.7,1147.7 437.3,1140.0 439.0,1132.5 440.6,1125.2 442.3,1118.2 444.0,1111.4 445.6,1105.0 447.3,1098.9 448.9,1093.1 450.6,1087.7 452.2,1082.7 453.9,1078.2 455.5,1074.0 457.2,1070.3 458.9,1067.1 460.5,1064.3 462.2,1062.0 463.8,1060.2 465.5,1059.0 467.1,1058.2 468.8,1057.9 470.5,1058.2 472.1,1059.0 473.8,1060.2 475.4,1062.0 477.1,1064.3 478.7,1067.1 480.4,1070.3 482.1,1074.0 483.7,1078.2 485.4,1082.7 487.0,1087.7 488.7,1093.1 490.3,1098.9 492.0,1105.0 493.7,1111.4 495.3,1118.2 497.0,1125.2 498.6,1132.5 500.3,1140.0 501.9,1147.7 503.6,1155.6 505.3,1163.6 506.9,1171.8 508.6,1180.0 510.2,1188.3 511.9,1196.7 513.5,1205.1 515.2,1213.5 516.9,1221.9 518.5,1230.2 520.2,1238.5 521.8,1246.7 523.5,1254.8 525.1,1262.7 526.8,1270.5 528.4,1278.2 530.1,1285.7 531.8,1293.1 533.4,1300.2 535.1,1307.2 536.7,1313.9 538.4,1320.4 540.0,1326.8 541.7,1332.9 543.4,1338.7 545.0,1344.4 546.7,1349.8 548.3,1355.0 550.0,1359.9 551.6,1364.7 553.3,1369.2 555.0,1373.5 556.6,1377.5 558.3,1381.4 559.9,1385.0 561.6,1388.5 563.2,1391.7 564.9,1394.8 566.6,1397.6 568.2,1400.3 569.9,1402.9 571.5,1405.2 573.2,1407.4 574.8,1409.5 576.5,1411.4 578.2,1413.1 579.8,1414.8 581.5,1416.3 583.1,1417.7 584.8,1419.0 586.4,1420.2 588.1,1421.3 589.8,1422.3 591.4,1423.3 593.1,1424.1 594.7,1424.9 596.4,1425.6 598.0,1426.2 599.7,1426.8 601.3,1427.4 603.0,1427.8 604.7,1428.3 606.3,1428.7 608.0,1429.0 609.6,1429.4 611.3,1429.7 612.9,1429.9 614.6,1430.2 616.3,1430.4 617.9,1430.6 619.6,1430.7 621.2,1430.9 622.9,1431.0 624.5,1431.1 626.2,1431.2 627.9,1431.3 629.5,1431.4 631.2,1431.5 632.8,1431.5 634.5,1431.6 636.1,1431.7 637.8,1431.7 639.5,1431.7 641.1,1431.8 642.8,1431.8 644.4,1431.8 646.1,1431.9 647.7,1431.9 649.4,1431.9 651.1,1431.9 652.7,1431.9 654.4,1431.9 656.0,1431.9 657.7,1431.9 659.3,1432.0 661.0,1432.0 662.6,1432.0 664.3,1432.0 666.0,1432.0 667.6,1432.0 669.3,1432.0 670.9,1432.0 672.6,1432.0 674.2,1432.0 675.9,1432.0 677.6,1432.0 679.2,1432.0 680.9,1432.0 682.5,1432.0 684.2,1432.0 685.8,1432.0 687.5,1432.0 689.2,1432.0 690.8,1432.0 692.5,1432.0 694.1,1432.0 695.8,1432.0 697.4,1432.0 699.1,1432.0 700.8,1432.0 702.4,1432.0 704.1,1432.0 705.7,1432.0 707.4,1432.0 709.0,1432.0 710.7,1432.0 712.4,1432.0 714.0,1432.0 715.7,1432.0 717.3,1432.0 719.0,1432.0 720.6,1432.0 722.3,1432.0 724.0,1432.0 725.6,1432.0 727.3,1432.0 728.9,1432.0 730.6,1432.0 732.2,1432.0 733.9,1432.0 735.5,1432.0 737.2,1432.0 738.9,1432.0 740.5,1432.0 742.2,1432.0 743.8,1432.0 745.5,1432.0 747.1,1432.0 748.8,1432.0 750.5,1432.0 752.1,1432.0 753.8,1432.0 755.4,1432.0 757.1,1432.0 758.7,1432.0 760.4,1432.0 762.1,1432.0 763.7,1432.0 765.4,1432.0 767.0,1432.0 768.7,1432.0 770.3,1432.0 772.0,1432.0 773.7,1432.0 775.3,1432.0 777.0,1432.0 778.6,1432.0 780.3,1432.0 781.9,1432.0 783.6,1432.0 785.3,1432.0 786.9,1432.0 788.6,1432.0 790.2,1432.0 791.9,1432.0 793.5,1432.0 795.2,1432.0 796.9,1432.0 798.5,1432.0 800.2,1432.0 801.8,1432.0 803.5,1432.0 805.1,1432.0 806.8,1432.0 808.4,1432.0 810.1,1432.0 811.8,1432.0 813.4,1432.0 815.1,1432.0 816.7,1432.0 818.4,1432.0 820.0,1432.0 821.7,1432.0 823.4,1432.0 825.0,1432.0 826.7,1432.0 828.3,1432.0 830.0,1432.0 831.6,1432.0 833.3,1432.0 835.0,1432.0 836.6,1432.0 838.3,1432.0 839.9,1432.0 841.6,1432.0 843.2,1432.0 844.9,1432.0 846.6,1432.0 848.2,1432.0 849.9,1432.0 851.5,1432.0 853.2,1432.0 854.8,1432.0 856.5,1432.0 858.2,1432.0 859.8,1432.0 861.5,1432.0 863.1,1432.0 864.8,1432.0 866.4,1432.0 868.1,1432.0 869.7,1432.0 871.4,1432.0 873.1,1432.0 874.7,1432.0 876.4,1432.0 878.0,1432.0 879.7,1432.0 881.3,1432.0 883.0,1432.0 884.7,1432.0 886.3,1432.0 888.0,1432.0 889.6,1432.0 891.3,1432.0 892.9,1432.0 894.6,1432.0 896.3,1432.0 897.9,1432.0 899.6,1432.0 901.2,1432.0 902.9,1432.0 904.5,1432.0 906.2,1432.0 907.9,1432.0 909.5,1432.0 911.2,1432.0 912.8,1432.0 914.5,1432.0 916.1,1432.0 917.8,1432.0 919.5,1432.0 921.1,1432.0 922.8,1432.0 924.4,1432.0 926.1,1432.0 927.7,1432.0 929.4,1432.0 931.1,1432.0 932.7,1432.0 934.4,1432.0 936.0,1432.0 937.7,1432.0 939.3,1432.0 941.0,1432.0 942.6,1432.0 944.3,1432.0 946.0,1432.0 947.6,1432.0 949.3,1432.0 950.9,1432.0 952.6,1432.0 954.2,1432.0 955.9,1432.0 957.6,1432.0 959.2,1432.0 960.9,1432.0 962.5,1432.0 964.2,1432.0 965.8,1432.0 967.5,1432.0 969.2,1432.0 970.8,1432.0 972.5,1432.0 974.1,1432.0"/>
<polyline fill="none" stroke="#000080" stroke-width="3.8" stroke-linejoin="round" stroke-linecap="round"  points="294.8,1432.0 296.5,1432.0 298.2,1432.0 299.8,1432.0 301.5,1432.0 303.1,1432.0 304.8,1432.0 306.4,1432.0 308.1,1432.0 309.8,1432.0 311.4,1432.0 313.1,1432.0 314.7,1432.0 316.4,1432.0 318.0,1432.0 319.7,1432.0 321.3,1432.0 323.0,1432.0 324.7,1432.0 326.3,1432.0 328.0,1432.0 329.6,1432.0 331.3,1432.0 332.9,1432.0 334.6,1432.0 336.3,1432.0 337.9,1432.0 339.6,1432.0 341.2,1432.0 342.9,1432.0 344.5,1432.0 346.2,1432.0 347.9,1432.0 349.5,1432.0 351.2,1432.0 352.8,1432.0 354.5,1432.0 356.1,1432.0 357.8,1432.0 359.5,1432.0 361.1,1432.0 362.8,1432.0 364.4,1432.0 366.1,1432.0 367.7,1432.0 369.4,1432.0 371.1,1432.0 372.7,1432.0 374.4,1432.0 376.0,1432.0 377.7,1432.0 379.3,1432.0 381.0,1432.0 382.7,1432.0 384.3,1432.0 386.0,1432.0 387.6,1432.0 389.3,1432.0 390.9,1432.0 392.6,1432.0 394.2,1432.0 395.9,1432.0 397.6,1432.0 399.2,1432.0 400.9,1432.0 402.5,1432.0 404.2,1432.0 405.8,1432.0 407.5,1432.0 409.2,1432.0 410.8,1432.0 412.5,1432.0 414.1,1432.0 415.8,1432.0 417.4,1432.0 419.1,1432.0 420.8,1432.0 422.4,1432.0 424.1,1432.0 425.7,1432.0 427.4,1432.0 429.0,1432.0 430.7,1432.0 432.4,1432.0 434.0,1432.0 435.7,1432.0 437.3,1432.0 439.0,1432.0 440.6,1432.0 442.3,1432.0 444.0,1432.0 445.6,1432.0 447.3,1432.0 448.9,1432.0 450.6,1432.0 452.2,1432.0 453.9,1432.0 455.5,1432.0 457.2,1432.0 458.9,1432.0 460.5,1432.0 462.2,1432.0 463.8,1431.9 465.5,1431.7 467.1,1431.3 468.8,1430.6 470.5,1429.2 472.1,1426.7 473.8,1422.7 475.4,1416.6 477.1,1408.2 478.7,1397.4 480.4,1384.7 482.1,1371.2 483.7,1358.7 485.4,1348.9 487.0,1343.6 488.7,1343.6 490.3,1348.9 492.0,1358.7 493.7,1371.2 495.3,1384.7 497.0,1397.4 498.6,1408.2 500.3,1416.6 501.9,1422.7 503.6,1426.7 505.3,1429.2 506.9,1430.6 508.6,1431.3 510.2,1431.7 511.9,1431.9 513.5,1432.0 515.2,1432.0 516.9,1432.0 518.5,1432.0 520.2,1432.0 521.8,1432.0 523.5,1432.0 525.1,1432.0 526.8,1432.0 528.4,1432.0 530.1,1432.0 531.8,1432.0 533.4,1432.0 535.1,1432.0 536.7,1432.0 538.4,1432.0 540.0,1432.0 541.7,1432.0 543.4,1432.0 545.0,1432.0 546.7,1432.0 548.3,1432.0 550.0,1432.0 551.6,1432.0 553.3,1432.0 555.0,1432.0 556.6,1432.0 558.3,1432.0 559.9,1432.0 561.6,1432.0 563.2,1432.0 564.9,1432.0 566.6,1432.0 568.2,1432.0 569.9,1432.0 571.5,1432.0 573.2,1432.0 574.8,1432.0 576.5,1432.0 578.2,1432.0 579.8,1432.0 581.5,1432.0 583.1,1432.0 584.8,1432.0 586.4,1432.0 588.1,1432.0 589.8,1432.0 591.4,1432.0 593.1,1432.0 594.7,1432.0 596.4,1432.0 598.0,1432.0 599.7,1432.0 601.3,1432.0 603.0,1432.0 604.7,1432.0 606.3,1432.0 608.0,1432.0 609.6,1432.0 611.3,1432.0 612.9,1432.0 614.6,1432.0 616.3,1432.0 617.9,1432.0 619.6,1432.0 621.2,1432.0 622.9,1432.0 624.5,1432.0 626.2,1432.0 627.9,1432.0 629.5,1432.0 631.2,1432.0 632.8,1432.0 634.5,1432.0 636.1,1432.0 637.8,1432.0 639.5,1432.0 641.1,1432.0 642.8,1432.0 644.4,1432.0 646.1,1432.0 647.7,1432.0 649.4,1432.0 651.1,1432.0 652.7,1432.0 654.4,1432.0 656.0,1432.0 657.7,1432.0 659.3,1432.0 661.0,1432.0 662.6,1432.0 664.3,1432.0 666.0,1432.0 667.6,1432.0 669.3,1432.0 670.9,1432.0 672.6,1432.0 674.2,1432.0 675.9,1432.0 677.6,1432.0 679.2,1432.0 680.9,1432.0 682.5,1432.0 684.2,1432.0 685.8,1432.0 687.5,1432.0 689.2,1432.0 690.8,1432.0 692.5,1432.0 694.1,1432.0 695.8,1432.0 697.4,1432.0 699.1,1432.0 700.8,1432.0 702.4,1432.0 704.1,1432.0 705.7,1432.0 707.4,1432.0 709.0,1432.0 710.7,1432.0 712.4,1432.0 714.0,1432.0 715.7,1432.0 717.3,1432.0 719.0,1432.0 720.6,1432.0 722.3,1432.0 724.0,1432.0 725.6,1432.0 727.3,1432.0 728.9,1432.0 730.6,1432.0 732.2,1432.0 733.9,1432.0 735.5,1432.0 737.2,1432.0 738.9,1432.0 740.5,1432.0 742.2,1432.0 743.8,1432.0 745.5,1432.0 747.1,1432.0 748.8,1432.0 750.5,1432.0 752.1,1432.0 753.8,1432.0 755.4,1432.0 757.1,1432.0 758.7,1432.0 760.4,1432.0 762.1,1432.0 763.7,1432.0 765.4,1432.0 767.0,1432.0 768.7,1432.0 770.3,1432.0 772.0,1432.0 773.7,1432.0 775.3,1432.0 777.0,1432.0 778.6,1432.0 780.3,1432.0 781.9,1432.0 783.6,1432.0 785.3,1432.0 786.9,1432.0 788.6,1432.0 790.2,1432.0 791.9,1432.0 793.5,1432.0 795.2,1432.0 796.9,1432.0 798.5,1432.0 800.2,1432.0 801.8,1432.0 803.5,1432.0 805.1,1432.0 806.8,1432.0 808.4,1432.0 810.1,1432.0 811.8,1432.0 813.4,1432.0 815.1,1432.0 816.7,1432.0 818.4,1432.0 820.0,1432.0 821.7,1432.0 823.4,1432.0 825.0,1432.0 826.7,1432.0 828.3,1432.0 830.0,1432.0 831.6,1432.0 833.3,1432.0 835.0,1432.0 836.6,1432.0 838.3,1432.0 839.9,1432.0 841.6,1432.0 843.2,1432.0 844.9,1432.0 846.6,1432.0 848.2,1432.0 849.9,1432.0 851.5,1432.0 853.2,1432.0 854.8,1432.0 856.5,1432.0 858.2,1432.0 859.8,1432.0 861.5,1432.0 863.1,1432.0 864.8,1432.0 866.4,1432.0 868.1,1432.0 869.7,1432.0 871.4,1432.0 873.1,1432.0 874.7,1432.0 876.4,1432.0 878.0,1432.0 879.7,1432.0 881.3,1432.0 883.0,1432.0 884.7,1432.0 886.3,1432.0 888.0,1432.0 889.6,1432.0 891.3,1432.0 892.9,1432.0 894.6,1432.0 896.3,1432.0 897.9,1432.0 899.6,1432.0 901.2,1432.0 902.9,1432.0 904.5,1432.0 906.2,1432.0 907.9,1432.0 909.5,1432.0 911.2,1432.0 912.8,1432.0 914.5,1432.0 916.1,1432.0 917.8,1432.0 919.5,1432.0 921.1,1432.0 922.8,1432.0 924.4,1432.0 926.1,1432.0 927.7,1432.0 929.4,1432.0 931.1,1432.0 932.7,1432.0 934.4,1432.0 936.0,1432.0 937.7,1432.0 939.3,1432.0 941.0,1432.0 942.6,1432.0 944.3,1432.0 946.0,1432.0 947.6,1432.0 949.3,1432.0 950.9,1432.0 952.6,1432.0 954.2,1432.0 955.9,1432.0 957.6,1432.0 959.2,1432.0 960.9,1432.0 962.5,1432.0 964.2,1432.0 965.8,1432.0 967.5,1432.0 969.2,1432.0 970.8,1432.0 972.5,1432.0 974.1,1432.0"/>
<polyline fill="none" stroke="#8000ff" stroke-width="3.8" stroke-linejoin="round" stroke-linecap="round"  points="294.8,1431.6 296.5,1431.5 298.2,1431.5 299.8,1431.5 301.5,1431.5 303.1,1431.4 304.8,1431.4 306.4,1431.3 308.1,1431.3 309.8,1431.3 311.4,1431.2 313.1,1431.2 314.7,1431.1 316.4,1431.1 318.0,1431.0 319.7,1431.0 321.3,1430.9 323.0,1430.8 324.7,1430.8 326.3,1430.7 328.0,1430.6 329.6,1430.6 331.3,1430.5 332.9,1430.4 334.6,1430.3 336.3,1430.2 337.9,1430.1 339.6,1430.0 341.2,1429.9 342.9,1429.8 344.5,1429.7 346.2,1429.5 347.9,1429.4 349.5,1429.3 351.2,1429.1 352.8,1429.0 354.5,1428.8 356.1,1428.7 357.8,1428.5 359.5,1428.3 361.1,1428.1 362.8,1427.9 364.4,1427.7 366.1,1427.5 367.7,1427.3 369.4,1427.1 371.1,1426.8 372.7,1426.6 374.4,1426.3 376.0,1426.0 377.7,1425.7 379.3,1425.5 381.0,1425.1 382.7,1424.8 384.3,1424.5 386.0,1424.1 387.6,1423.8 389.3,1423.4 390.9,1423.0 392.6,1422.6 394.2,1422.2 395.9,1421.8 397.6,1421.3 399.2,1420.9 400.9,1420.4 402.5,1419.9 404.2,1419.4 405.8,1418.8 407.5,1418.3 409.2,1417.7 410.8,1417.1 412.5,1416.5 414.1,1415.9 415.8,1415.2 417.4,1414.5 419.1,1413.8 420.8,1413.1 422.4,1412.4 424.1,1411.6 425.7,1410.8 427.4,1410.0 429.0,1409.2 430.7,1408.3 432.4,1407.4 434.0,1406.5 435.7,1405.5 437.3,1404.6 439.0,1403.6 440.6,1402.5 442.3,1401.5 444.0,1400.4 445.6,1399.3 447.3,1398.1 448.9,1397.0 450.6,1395.8 452.2,1394.5 453.9,1393.3 455.5,1392.0 457.2,1390.6 458.9,1389.3 460.5,1387.9 462.2,1386.5 463.8,1385.0 465.5,1383.5 467.1,1382.0 468.8,1380.5 470.5,1378.9 472.1,1377.3 473.8,1375.6 475.4,1373.9 477.1,1372.2 478.7,1370.4 480.4,1368.7 482.1,1366.8 483.7,1365.0 485.4,1363.1 487.0,1361.2 488.7,1359.2 490.3,1357.3 492.0,1355.2 493.7,1353.2 495.3,1351.1 497.0,1349.0 498.6,1346.9 500.3,1344.7 501.9,1342.5 503.6,1340.3 505.3,1338.0 506.9,1335.8 508.6,1333.5 510.2,1331.1 511.9,1328.8 513.5,1326.4 515.2,1324.0 516.9,1321.5 518.5,1319.1 520.2,1316.6 521.8,1314.1 523.5,1311.6 525.1,1309.1 526.8,1306.5 528.4,1303.9 530.1,1301.4 531.8,1298.8 533.4,1296.2 535.1,1293.5 536.7,1290.9 538.4,1288.3 540.0,1285.6 541.7,1283.0 543.4,1280.3 545.0,1277.6 546.7,1275.0 548.3,1272.3 550.0,1269.7 551.6,1267.0 553.3,1264.4 555.0,1261.7 556.6,1259.1 558.3,1256.4 559.9,1253.8 561.6,1251.2 563.2,1248.6 564.9,1246.1 566.6,1243.5 568.2,1241.0 569.9,1238.5 571.5,1236.0 573.2,1233.5 574.8,1231.1 576.5,1228.7 578.2,1226.3 579.8,1223.9 581.5,1221.6 583.1,1219.3 584.8,1217.1 586.4,1214.9 588.1,1212.7 589.8,1210.6 591.4,1208.5 593.1,1206.5 594.7,1204.5 596.4,1202.6 598.0,1200.7 599.7,1198.9 601.3,1197.1 603.0,1195.4 604.7,1193.7 606.3,1192.1 608.0,1190.5 609.6,1189.0 611.3,1187.6 612.9,1186.2 614.6,1184.9 616.3,1183.7 617.9,1182.5 619.6,1181.4 621.2,1180.3 622.9,1179.3 624.5,1178.4 626.2,1177.6 627.9,1176.8 629.5,1176.1 631.2,1175.5 632.8,1174.9 634.5,1174.5 636.1,1174.1 637.8,1173.7 639.5,1173.5 641.1,1173.3 642.8,1173.2 644.4,1173.1 646.1,1173.2 647.7,1173.3 649.4,1173.5 651.1,1173.7 652.7,1174.1 654.4,1174.5 656.0,1174.9 657.7,1175.5 659.3,1176.1 661.0,1176.8 662.6,1177.6 664.3,1178.4 666.0,1179.3 667.6,1180.3 669.3,1181.4 670.9,1182.5 672.6,1183.7 674.2,1184.9 675.9,1186.2 677.6,1187.6 679.2,1189.0 680.9,1190.5 682.5,1192.1 684.2,1193.7 685.8,1195.4 687.5,1197.1 689.2,1198.9 690.8,1200.7 692.5,1202.6 694.1,1204.5 695.8,1206.5 697.4,1208.5 699.1,1210.6 700.8,1212.7 702.4,1214.9 704.1,1217.1 705.7,1219.3 707.4,1221.6 709.0,1223.9 710.7,1226.3 712.4,1228.7 714.0,1231.1 715.7,1233.5 717.3,1236.0 719.0,1238.5 720.6,1241.0 722.3,1243.5 724.0,1246.1 725.6,1248.6 727.3,1251.2 728.9,1253.8 730.6,1256.4 732.2,1259.1 733.9,1261.7 735.5,1264.4 737.2,1267.0 738.9,1269.7 740.5,1272.3 742.2,1275.0 743.8,1277.6 745.5,1280.3 747.1,1283.0 748.8,1285.6 750.5,1288.3 752.1,1290.9 753.8,1293.5 755.4,1296.2 757.1,1298.8 758.7,1301.4 760.4,1303.9 762.1,1306.5 763.7,1309.1 765.4,1311.6 767.0,1314.1 768.7,1316.6 770.3,1319.1 772.0,1321.5 773.7,1324.0 775.3,1326.4 777.0,1328.8 778.6,1331.1 780.3,1333.5 781.9,1335.8 783.6,1338.0 785.3,1340.3 786.9,1342.5 788.6,1344.7 790.2,1346.9 791.9,1349.0 793.5,1351.1 795.2,1353.2 796.9,1355.2 798.5,1357.3 800.2,1359.2 801.8,1361.2 803.5,1363.1 805.1,1365.0 806.8,1366.8 808.4,1368.7 810.1,1370.4 811.8,1372.2 813.4,1373.9 815.1,1375.6 816.7,1377.3 818.4,1378.9 820.0,1380.5 821.7,1382.0 823.4,1383.5 825.0,1385.0 826.7,1386.5 828.3,1387.9 830.0,1389.3 831.6,1390.6 833.3,1392.0 835.0,1393.3 836.6,1394.5 838.3,1395.8 839.9,1397.0 841.6,1398.1 843.2,1399.3 844.9,1400.4 846.6,1401.5 848.2,1402.5 849.9,1403.6 851.5,1404.6 853.2,1405.5 854.8,1406.5 856.5,1407.4 858.2,1408.3 859.8,1409.2 861.5,1410.0 863.1,1410.8 864.8,1411.6 866.4,1412.4 868.1,1413.1 869.7,1413.8 871.4,1414.5 873.1,1415.2 874.7,1415.9 876.4,1416.5 878.0,1417.1 879.7,1417.7 881.3,1418.3 883.0,1418.8 884.7,1419.4 886.3,1419.9 888.0,1420.4 889.6,1420.9 891.3,1421.3 892.9,1421.8 894.6,1422.2 896.3,1422.6 897.9,1423.0 899.6,1423.4 901.2,1423.8 902.9,1424.1 904.5,1424.5 906.2,1424.8 907.9,1425.1 909.5,1425.5 911.2,1425.7 912.8,1426.0 914.5,1426.3 916.1,1426.6 917.8,1426.8 919.5,1427.1 921.1,1427.3 922.8,1427.5 924.4,1427.7 926.1,1427.9 927.7,1428.1 929.4,1428.3 931.1,1428.5 932.7,1428.7 934.4,1428.8 936.0,1429.0 937.7,1429.1 939.3,1429.3 941.0,1429.4 942.6,1429.5 944.3,1429.7 946.0,1429.8 947.6,1429.9 949.3,1430.0 950.9,1430.1 952.6,1430.2 954.2,1430.3 955.9,1430.4 957.6,1430.5 959.2,1430.6 960.9,1430.6 962.5,1430.7 964.2,1430.8 965.8,1430.8 967.5,1430.9 969.2,1431.0 970.8,1431.0 972.5,1431.1 974.1,1431.1"/>
<polyline fill="none" stroke="#990011" stroke-width="3.8" stroke-linejoin="round" stroke-linecap="round"  points="294.8,1432.0 296.5,1432.0 298.2,1432.0 299.8,1432.0 301.5,1432.0 303.1,1432.0 304.8,1432.0 306.4,1432.0 308.1,1432.0 309.8,1432.0 311.4,1432.0 313.1,1432.0 314.7,1432.0 316.4,1432.0 318.0,1432.0 319.7,1432.0 321.3,1432.0 323.0,1432.0 324.7,1432.0 326.3,1432.0 328.0,1432.0 329.6,1432.0 331.3,1432.0 332.9,1432.0 334.6,1432.0 336.3,1432.0 337.9,1432.0 339.6,1432.0 341.2,1432.0 342.9,1432.0 344.5,1432.0 346.2,1432.0 347.9,1432.0 349.5,1432.0 351.2,1432.0 352.8,1432.0 354.5,1432.0 356.1,1432.0 357.8,1432.0 359.5,1432.0 361.1,1432.0 362.8,1432.0 364.4,1432.0 366.1,1432.0 367.7,1432.0 369.4,1432.0 371.1,1432.0 372.7,1432.0 374.4,1432.0 376.0,1432.0 377.7,1432.0 379.3,1432.0 381.0,1432.0 382.7,1432.0 384.3,1432.0 386.0,1432.0 387.6,1432.0 389.3,1432.0 390.9,1432.0 392.6,1432.0 394.2,1432.0 395.9,1432.0 397.6,1432.0 399.2,1432.0 400.9,1432.0 402.5,1432.0 404.2,1432.0 405.8,1432.0 407.5,1432.0 409.2,1432.0 410.8,1432.0 412.5,1432.0 414.1,1432.0 415.8,1432.0 417.4,1432.0 419.1,1432.0 420.8,1432.0 422.4,1432.0 424.1,1432.0 425.7,1432.0 427.4,1432.0 429.0,1432.0 430.7,1432.0 432.4,1432.0 434.0,1432.0 435.7,1432.0 437.3,1432.0 439.0,1432.0 440.6,1432.0 442.3,1432.0 444.0,1432.0 445.6,1432.0 447.3,1432.0 448.9,1432.0 450.6,1432.0 452.2,1432.0 453.9,1432.0 455.5,1432.0 457.2,1432.0 458.9,1432.0 460.5,1432.0 462.2,1432.0 463.8,1432.0 465.5,1432.0 467.1,1432.0 468.8,1432.0 470.5,1432.0 472.1,1432.0 473.8,1432.0 475.4,1432.0 477.1,1432.0 478.7,1432.0 480.4,1432.0 482.1,1432.0 483.7,1432.0 485.4,1432.0 487.0,1432.0 488.7,1432.0 490.3,1432.0 492.0,1432.0 493.7,1432.0 495.3,1432.0 497.0,1432.0 498.6,1432.0 500.3,1432.0 501.9,1432.0 503.6,1432.0 505.3,1432.0 506.9,1432.0 508.6,1432.0 510.2,1432.0 511.9,1432.0 513.5,1432.0 515.2,1432.0 516.9,1432.0 518.5,1432.0 520.2,1432.0 521.8,1432.0 523.5,1432.0 525.1,1432.0 526.8,1432.0 528.4,1432.0 530.1,1432.0 531.8,1432.0 533.4,1432.0 535.1,1432.0 536.7,1432.0 538.4,1432.0 540.0,1432.0 541.7,1432.0 543.4,1432.0 545.0,1432.0 546.7,1432.0 548.3,1432.0 550.0,1432.0 551.6,1432.0 553.3,1432.0 555.0,1432.0 556.6,1432.0 558.3,1432.0 559.9,1432.0 561.6,1432.0 563.2,1432.0 564.9,1432.0 566.6,1432.0 568.2,1432.0 569.9,1432.0 571.5,1432.0 573.2,1432.0 574.8,1432.0 576.5,1432.0 578.2,1432.0 579.8,1432.0 581.5,1432.0 583.1,1432.0 584.8,1432.0 586.4,1432.0 588.1,1432.0 589.8,1432.0 591.4,1432.0 593.1,1432.0 594.7,1432.0 596.4,1432.0 598.0,1432.0 599.7,1432.0 601.3,1432.0 603.0,1432.0 604.7,1432.0 606.3,1432.0 608.0,1432.0 609.6,1432.0 611.3,1432.0 612.9,1432.0 614.6,1432.0 616.3,1432.0 617.9,1432.0 619.6,1431.9 621.2,1431.9 622.9,1431.9 624.5,1431.9 626.2,1431.9 627.9,1431.9 629.5,1431.9 631.2,1431.8 632.8,1431.8 634.5,1431.8 636.1,1431.8 637.8,1431.7 639.5,1431.7 641.1,1431.6 642.8,1431.6 644.4,1431.5 646.1,1431.5 647.7,1431.4 649.4,1431.3 651.1,1431.2 652.7,1431.1 654.4,1431.0 656.0,1430.9 657.7,1430.7 659.3,1430.6 661.0,1430.4 662.6,1430.2 664.3,1430.0 666.0,1429.7 667.6,1429.5 669.3,1429.2 670.9,1428.9 672.6,1428.5 674.2,1428.2 675.9,1427.8 677.6,1427.3 679.2,1426.9 680.9,1426.4 682.5,1425.8 684.2,1425.2 685.8,1424.6 687.5,1423.9 689.2,1423.2 690.8,1422.4 692.5,1421.6 694.1,1420.7 695.8,1419.8 697.4,1418.8 699.1,1417.8 700.8,1416.7 702.4,1415.5 704.1,1414.3 705.7,1413.1 707.4,1411.7 709.0,1410.4 710.7,1409.0 712.4,1407.5 714.0,1406.0 715.7,1404.4 717.3,1402.8 719.0,1401.2 720.6,1399.5 722.3,1397.8 724.0,1396.1 725.6,1394.3 727.3,1392.6 728.9,1390.8 730.6,1389.0 732.2,1387.2 733.9,1385.4 735.5,1383.6 737.2,1381.9 738.9,1380.2 740.5,1378.5 742.2,1376.8 743.8,1375.2 745.5,1373.7 747.1,1372.2 748.8,1370.7 750.5,1369.4 752.1,1368.1 753.8,1367.0 755.4,1365.9 757.1,1364.9 758.7,1364.0 760.4,1363.3 762.1,1362.6 763.7,1362.0 765.4,1361.6 767.0,1361.3 768.7,1361.1 770.3,1361.1 772.0,1361.1 773.7,1361.3 775.3,1361.6 777.0,1362.0 778.6,1362.6 780.3,1363.3 781.9,1364.0 783.6,1364.9 785.3,1365.9 786.9,1367.0 788.6,1368.1 790.2,1369.4 791.9,1370.7 793.5,1372.2 795.2,1373.7 796.9,1375.2 798.5,1376.8 800.2,1378.5 801.8,1380.2 803.5,1381.9 805.1,1383.6 806.8,1385.4 808.4,1387.2 810.1,1389.0 811.8,1390.8 813.4,1392.6 815.1,1394.3 816.7,1396.1 818.4,1397.8 820.0,1399.5 821.7,1401.2 823.4,1402.8 825.0,1404.4 826.7,1406.0 828.3,1407.5 830.0,1409.0 831.6,1410.4 833.3,1411.7 835.0,1413.1 836.6,1414.3 838.3,1415.5 839.9,1416.7 841.6,1417.8 843.2,1418.8 844.9,1419.8 846.6,1420.7 848.2,1421.6 849.9,1422.4 851.5,1423.2 853.2,1423.9 854.8,1424.6 856.5,1425.2 858.2,1425.8 859.8,1426.4 861.5,1426.9 863.1,1427.3 864.8,1427.8 866.4,1428.2 868.1,1428.5 869.7,1428.9 871.4,1429.2 873.1,1429.5 874.7,1429.7 876.4,1430.0 878.0,1430.2 879.7,1430.4 881.3,1430.6 883.0,1430.7 884.7,1430.9 886.3,1431.0 888.0,1431.1 889.6,1431.2 891.3,1431.3 892.9,1431.4 894.6,1431.5 896.3,1431.5 897.9,1431.6 899.6,1431.6 901.2,1431.7 902.9,1431.7 904.5,1431.8 906.2,1431.8 907.9,1431.8 909.5,1431.8 911.2,1431.9 912.8,1431.9 914.5,1431.9 916.1,1431.9 917.8,1431.9 919.5,1431.9 921.1,1431.9 922.8,1432.0 924.4,1432.0 926.1,1432.0 927.7,1432.0 929.4,1432.0 931.1,1432.0 932.7,1432.0 934.4,1432.0 936.0,1432.0 937.7,1432.0 939.3,1432.0 941.0,1432.0 942.6,1432.0 944.3,1432.0 946.0,1432.0 947.6,1432.0 949.3,1432.0 950.9,1432.0 952.6,1432.0 954.2,1432.0 955.9,1432.0 957.6,1432.0 959.2,1432.0 960.9,1432.0 962.5,1432.0 964.2,1432.0 965.8,1432.0 967.5,1432.0 969.2,1432.0 970.8,1432.0 972.5,1432.0 974.1,1432.0"/>
<polyline fill="none" stroke="#800080" stroke-width="3.8" stroke-linejoin="round" stroke-linecap="round"  points="294.8,1432.0 296.5,1432.0 298.2,1432.0 299.8,1432.0 301.5,1432.0 303.1,1432.0 304.8,1432.0 306.4,1432.0 308.1,1432.0 309.8,1432.0 311.4,1432.0 313.1,1432.0 314.7,1432.0 316.4,1432.0 318.0,1432.0 319.7,1432.0 321.3,1432.0 323.0,1432.0 324.7,1432.0 326.3,1432.0 328.0,1432.0 329.6,1432.0 331.3,1432.0 332.9,1432.0 334.6,1432.0 336.3,1432.0 337.9,1432.0 339.6,1432.0 341.2,1432.0 342.9,1432.0 344.5,1432.0 346.2,1432.0 347.9,1432.0 349.5,1432.0 351.2,1432.0 352.8,1432.0 354.5,1432.0 356.1,1432.0 357.8,1432.0 359.5,1432.0 361.1,1432.0 362.8,1432.0 364.4,1432.0 366.1,1432.0 367.7,1432.0 369.4,1432.0 371.1,1432.0 372.7,1432.0 374.4,1432.0 376.0,1432.0 377.7,1432.0 379.3,1432.0 381.0,1432.0 382.7,1432.0 384.3,1432.0 386.0,1432.0 387.6,1432.0 389.3,1432.0 390.9,1432.0 392.6,1432.0 394.2,1432.0 395.9,1432.0 397.6,1432.0 399.2,1432.0 400.9,1432.0 402.5,1432.0 404.2,1432.0 405.8,1432.0 407.5,1432.0 409.2,1432.0 410.8,1432.0 412.5,1432.0 414.1,1432.0 415.8,1432.0 417.4,1432.0 419.1,1432.0 420.8,1432.0 422.4,1432.0 424.1,1432.0 425.7,1432.0 427.4,1432.0 429.0,1432.0 430.7,1432.0 432.4,1432.0 434.0,1432.0 435.7,1432.0 437.3,1432.0 439.0,1432.0 440.6,1432.0 442.3,1432.0 444.0,1432.0 445.6,1432.0 447.3,1432.0 448.9,1432.0 450.6,1432.0 452.2,1432.0 453.9,1432.0 455.5,1432.0 457.2,1432.0 458.9,1432.0 460.5,1432.0 462.2,1432.0 463.8,1432.0 465.5,1432.0 467.1,1432.0 468.8,1432.0 470.5,1432.0 472.1,1432.0 473.8,1432.0 475.4,1432.0 477.1,1432.0 478.7,1432.0 480.4,1432.0 482.1,1432.0 483.7,1432.0 485.4,1432.0 487.0,1432.0 488.7,1432.0 490.3,1432.0 492.0,1432.0 493.7,1432.0 495.3,1432.0 497.0,1432.0 498.6,1432.0 500.3,1432.0 501.9,1432.0 503.6,1432.0 505.3,1432.0 506.9,1432.0 508.6,1432.0 510.2,1432.0 511.9,1432.0 513.5,1432.0 515.2,1432.0 516.9,1432.0 518.5,1432.0 520.2,1432.0 521.8,1432.0 523.5,1432.0 525.1,1432.0 526.8,1432.0 528.4,1432.0 530.1,1432.0 531.8,1432.0 533.4,1432.0 535.1,1432.0 536.7,1432.0 538.4,1432.0 540.0,1432.0 541.7,1432.0 543.4,1432.0 545.0,1432.0 546.7,1432.0 548.3,1432.0 550.0,1432.0 551.6,1432.0 553.3,1432.0 555.0,1432.0 556.6,1432.0 558.3,1432.0 559.9,1432.0 561.6,1432.0 563.2,1432.0 564.9,1432.0 566.6,1432.0 568.2,1432.0 569.9,1432.0 571.5,1432.0 573.2,1432.0 574.8,1432.0 576.5,1432.0 578.2,1432.0 579.8,1432.0 581.5,1432.0 583.1,1432.0 584.8,1432.0 586.4,1432.0 588.1,1432.0 589.8,1432.0 591.4,1432.0 593.1,1432.0 594.7,1432.0 596.4,1432.0 598.0,1432.0 599.7,1432.0 601.3,1432.0 603.0,1432.0 604.7,1432.0 606.3,1432.0 608.0,1432.0 609.6,1432.0 611.3,1432.0 612.9,1432.0 614.6,1432.0 616.3,1432.0 617.9,1432.0 619.6,1432.0 621.2,1432.0 622.9,1432.0 624.5,1432.0 626.2,1432.0 627.9,1432.0 629.5,1432.0 631.2,1432.0 632.8,1432.0 634.5,1432.0 636.1,1432.0 637.8,1432.0 639.5,1432.0 641.1,1432.0 642.8,1432.0 644.4,1432.0 646.1,1432.0 647.7,1432.0 649.4,1432.0 651.1,1432.0 652.7,1432.0 654.4,1432.0 656.0,1432.0 657.7,1432.0 659.3,1432.0 661.0,1432.0 662.6,1432.0 664.3,1432.0 666.0,1432.0 667.6,1432.0 669.3,1432.0 670.9,1432.0 672.6,1432.0 674.2,1432.0 675.9,1432.0 677.6,1432.0 679.2,1432.0 680.9,1432.0 682.5,1432.0 684.2,1432.0 685.8,1432.0 687.5,1432.0 689.2,1432.0 690.8,1432.0 692.5,1432.0 694.1,1432.0 695.8,1432.0 697.4,1432.0 699.1,1432.0 700.8,1432.0 702.4,1432.0 704.1,1432.0 705.7,1432.0 707.4,1432.0 709.0,1432.0 710.7,1432.0 712.4,1432.0 714.0,1432.0 715.7,1432.0 717.3,1432.0 719.0,1432.0 720.6,1432.0 722.3,1432.0 724.0,1432.0 725.6,1432.0 727.3,1432.0 728.9,1432.0 730.6,1432.0 732.2,1432.0 733.9,1432.0 735.5,1432.0 737.2,1432.0 738.9,1432.0 740.5,1432.0 742.2,1432.0 743.8,1432.0 745.5,1432.0 747.1,1432.0 748.8,1432.0 750.5,1432.0 752.1,1432.0 753.8,1432.0 755.4,1432.0 757.1,1432.0 758.7,1432.0 760.4,1432.0 762.1,1432.0 763.7,1432.0 765.4,1432.0 767.0,1432.0 768.7,1432.0 770.3,1432.0 772.0,1432.0 773.7,1432.0 775.3,1432.0 777.0,1432.0 778.6,1432.0 780.3,1432.0 781.9,1432.0 783.6,1432.0 785.3,1432.0 786.9,1431.9 788.6,1431.9 790.2,1431.9 791.9,1431.8 793.5,1431.7 795.2,1431.6 796.9,1431.5 798.5,1431.3 800.2,1431.1 801.8,1430.9 803.5,1430.5 805.1,1430.1 806.8,1429.5 808.4,1428.9 810.1,1428.1 811.8,1427.2 813.4,1426.1 815.1,1424.8 816.7,1423.4 818.4,1421.7 820.0,1419.9 821.7,1417.8 823.4,1415.6 825.0,1413.2 826.7,1410.8 828.3,1408.2 830.0,1405.5 831.6,1402.9 833.3,1400.3 835.0,1397.8 836.6,1395.5 838.3,1393.5 839.9,1391.7 841.6,1390.3 843.2,1389.2 844.9,1388.6 846.6,1388.3 848.2,1388.6 849.9,1389.2 851.5,1390.3 853.2,1391.7 854.8,1393.5 856.5,1395.5 858.2,1397.8 859.8,1400.3 861.5,1402.9 863.1,1405.5 864.8,1408.2 866.4,1410.8 868.1,1413.2 869.7,1415.6 871.4,1417.8 873.1,1419.9 874.7,1421.7 876.4,1423.4 878.0,1424.8 879.7,1426.1 881.3,1427.2 883.0,1428.1 884.7,1428.9 886.3,1429.5 888.0,1430.1 889.6,1430.5 891.3,1430.9 892.9,1431.1 894.6,1431.3 896.3,1431.5 897.9,1431.6 899.6,1431.7 901.2,1431.8 902.9,1431.9 904.5,1431.9 906.2,1431.9 907.9,1432.0 909.5,1432.0 911.2,1432.0 912.8,1432.0 914.5,1432.0 916.1,1432.0 917.8,1432.0 919.5,1432.0 921.1,1432.0 922.8,1432.0 924.4,1432.0 926.1,1432.0 927.7,1432.0 929.4,1432.0 931.1,1432.0 932.7,1432.0 934.4,1432.0 936.0,1432.0 937.7,1432.0 939.3,1432.0 941.0,1432.0 942.6,1432.0 944.3,1432.0 946.0,1432.0 947.6,1432.0 949.3,1432.0 950.9,1432.0 952.6,1432.0 954.2,1432.0 955.9,1432.0 957.6,1432.0 959.2,1432.0 960.9,1432.0 962.5,1432.0 964.2,1432.0 965.8,1432.0 967.5,1432.0 969.2,1432.0 970.8,1432.0 972.5,1432.0 974.1,1432.0"/>
<polyline fill="none" stroke="#990011" stroke-width="3.8" stroke-linejoin="round" stroke-linecap="round"  points="294.8,1432.0 296.5,1432.0 298.2,1432.0 299.8,1432.0 301.5,1432.0 303.1,1432.0 304.8,1432.0 306.4,1432.0 308.1,1432.0 309.8,1432.0 311.4,1432.0 313.1,1432.0 314.7,1432.0 316.4,1432.0 318.0,1432.0 319.7,1432.0 321.3,1432.0 323.0,1432.0 324.7,1432.0 326.3,1432.0 328.0,1432.0 329.6,1432.0 331.3,1432.0 332.9,1432.0 334.6,1432.0 336.3,1432.0 337.9,1432.0 339.6,1432.0 341.2,1432.0 342.9,1432.0 344.5,1432.0 346.2,1432.0 347.9,1432.0 349.5,1432.0 351.2,1432.0 352.8,1432.0 354.5,1432.0 356.1,1432.0 357.8,1432.0 359.5,1432.0 361.1,1432.0 362.8,1432.0 364.4,1432.0 366.1,1432.0 367.7,1432.0 369.4,1432.0 371.1,1432.0 372.7,1432.0 374.4,1432.0 376.0,1432.0 377.7,1432.0 379.3,1432.0 381.0,1432.0 382.7,1432.0 384.3,1432.0 386.0,1432.0 387.6,1432.0 389.3,1432.0 390.9,1432.0 392.6,1432.0 394.2,1432.0 395.9,1432.0 397.6,1432.0 399.2,1432.0 400.9,1432.0 402.5,1432.0 404.2,1432.0 405.8,1432.0 407.5,1432.0 409.2,1432.0 410.8,1432.0 412.5,1432.0 414.1,1432.0 415.8,1432.0 417.4,1432.0 419.1,1432.0 420.8,1432.0 422.4,1432.0 424.1,1432.0 425.7,1432.0 427.4,1432.0 429.0,1432.0 430.7,1432.0 432.4,1432.0 434.0,1432.0 435.7,1432.0 437.3,1432.0 439.0,1432.0 440.6,1432.0 442.3,1432.0 444.0,1432.0 445.6,1432.0 447.3,1432.0 448.9,1432.0 450.6,1432.0 452.2,1432.0 453.9,1432.0 455.5,1432.0 457.2,1432.0 458.9,1432.0 460.5,1432.0 462.2,1432.0 463.8,1432.0 465.5,1432.0 467.1,1432.0 468.8,1432.0 470.5,1432.0 472.1,1432.0 473.8,1432.0 475.4,1432.0 477.1,1432.0 478.7,1432.0 480.4,1432.0 482.1,1432.0 483.7,1432.0 485.4,1432.0 487.0,1432.0 488.7,1432.0 490.3,1432.0 492.0,1432.0 493.7,1432.0 495.3,1432.0 497.0,1432.0 498.6,1432.0 500.3,1432.0 501.9,1432.0 503.6,1432.0 505.3,1432.0 506.9,1432.0 508.6,1432.0 510.2,1432.0 511.9,1432.0 513.5,1432.0 515.2,1432.0 516.9,1432.0 518.5,1432.0 520.2,1432.0 521.8,1432.0 523.5,1432.0 525.1,1432.0 526.8,1432.0 528.4,1432.0 530.1,1432.0 531.8,1432.0 533.4,1432.0 535.1,1432.0 536.7,1432.0 538.4,1432.0 540.0,1432.0 541.7,1432.0 543.4,1432.0 545.0,1432.0 546.7,1432.0 548.3,1432.0 550.0,1432.0 551.6,1432.0 553.3,1432.0 555.0,1432.0 556.6,1432.0 558.3,1432.0 559.9,1432.0 561.6,1432.0 563.2,1432.0 564.9,1432.0 566.6,1432.0 568.2,1432.0 569.9,1432.0 571.5,1432.0 573.2,1432.0 574.8,1432.0 576.5,1432.0 578.2,1432.0 579.8,1432.0 581.5,1432.0 583.1,1432.0 584.8,1432.0 586.4,1432.0 588.1,1432.0 589.8,1432.0 591.4,1432.0 593.1,1432.0 594.7,1432.0 596.4,1432.0 598.0,1432.0 599.7,1432.0 601.3,1432.0 603.0,1432.0 604.7,1432.0 606.3,1432.0 608.0,1432.0 609.6,1432.0 611.3,1432.0 612.9,1432.0 614.6,1432.0 616.3,1432.0 617.9,1432.0 619.6,1432.0 621.2,1432.0 622.9,1432.0 624.5,1432.0 626.2,1432.0 627.9,1432.0 629.5,1432.0 631.2,1432.0 632.8,1432.0 634.5,1432.0 636.1,1432.0 637.8,1432.0 639.5,1432.0 641.1,1432.0 642.8,1432.0 644.4,1432.0 646.1,1432.0 647.7,1432.0 649.4,1432.0 651.1,1432.0 652.7,1432.0 654.4,1432.0 656.0,1432.0 657.7,1432.0 659.3,1432.0 661.0,1432.0 662.6,1432.0 664.3,1432.0 666.0,1432.0 667.6,1432.0 669.3,1432.0 670.9,1432.0 672.6,1432.0 674.2,1432.0 675.9,1432.0 677.6,1432.0 679.2,1432.0 680.9,1432.0 682.5,1432.0 684.2,1432.0 685.8,1432.0 687.5,1432.0 689.2,1432.0 690.8,1432.0 692.5,1432.0 694.1,1432.0 695.8,1432.0 697.4,1432.0 699.1,1432.0 700.8,1432.0 702.4,1432.0 704.1,1432.0 705.7,1432.0 707.4,1432.0 709.0,1432.0 710.7,1432.0 712.4,1432.0 714.0,1432.0 715.7,1432.0 717.3,1432.0 719.0,1432.0 720.6,1432.0 722.3,1432.0 724.0,1432.0 725.6,1432.0 727.3,1432.0 728.9,1432.0 730.6,1432.0 732.2,1432.0 733.9,1432.0 735.5,1432.0 737.2,1432.0 738.9,1432.0 740.5,1432.0 742.2,1432.0 743.8,1432.0 745.5,1432.0 747.1,1432.0 748.8,1432.0 750.5,1432.0 752.1,1432.0 753.8,1432.0 755.4,1432.0 757.1,1432.0 758.7,1432.0 760.4,1432.0 762.1,1432.0 763.7,1432.0 765.4,1432.0 767.0,1432.0 768.7,1432.0 770.3,1432.0 772.0,1432.0 773.7,1432.0 775.3,1432.0 777.0,1432.0 778.6,1432.0 780.3,1432.0 781.9,1432.0 783.6,1432.0 785.3,1432.0 786.9,1432.0 788.6,1432.0 790.2,1432.0 791.9,1432.0 793.5,1432.0 795.2,1432.0 796.9,1432.0 798.5,1432.0 800.2,1432.0 801.8,1432.0 803.5,1432.0 805.1,1432.0 806.8,1432.0 808.4,1432.0 810.1,1432.0 811.8,1432.0 813.4,1432.0 815.1,1432.0 816.7,1432.0 818.4,1432.0 820.0,1432.0 821.7,1432.0 823.4,1431.9 825.0,1431.9 826.7,1431.9 828.3,1431.9 830.0,1431.8 831.6,1431.8 833.3,1431.7 835.0,1431.7 836.6,1431.6 838.3,1431.5 839.9,1431.4 841.6,1431.2 843.2,1431.0 844.9,1430.8 846.6,1430.6 848.2,1430.3 849.9,1429.9 851.5,1429.6 853.2,1429.1 854.8,1428.6 856.5,1428.0 858.2,1427.3 859.8,1426.5 861.5,1425.7 863.1,1424.7 864.8,1423.7 866.4,1422.5 868.1,1421.3 869.7,1419.9 871.4,1418.4 873.1,1416.8 874.7,1415.2 876.4,1413.4 878.0,1411.6 879.7,1409.7 881.3,1407.7 883.0,1405.7 884.7,1403.7 886.3,1401.7 888.0,1399.7 889.6,1397.7 891.3,1395.8 892.9,1394.0 894.6,1392.4 896.3,1390.8 897.9,1389.4 899.6,1388.2 901.2,1387.2 902.9,1386.4 904.5,1385.8 906.2,1385.4 907.9,1385.3 909.5,1385.4 911.2,1385.8 912.8,1386.4 914.5,1387.2 916.1,1388.2 917.8,1389.4 919.5,1390.8 921.1,1392.4 922.8,1394.0 924.4,1395.8 926.1,1397.7 927.7,1399.7 929.4,1401.7 931.1,1403.7 932.7,1405.7 934.4,1407.7 936.0,1409.7 937.7,1411.6 939.3,1413.4 941.0,1415.2 942.6,1416.8 944.3,1418.4 946.0,1419.9 947.6,1421.3 949.3,1422.5 950.9,1423.7 952.6,1424.7 954.2,1425.7 955.9,1426.5 957.6,1427.3 959.2,1428.0 960.9,1428.6 962.5,1429.1 964.2,1429.6 965.8,1429.9 967.5,1430.3 969.2,1430.6 970.8,1430.8 972.5,1431.0 974.1,1431.2"/>
<polyline fill="none" stroke="#008000" stroke-width="3.8" stroke-linejoin="round" stroke-linecap="round"  points="617.9,1430.6 626.2,1431.2 634.5,1431.6 642.8,1431.8 651.1,1431.9 659.3,1432.0 667.6,1432.0 675.9,1432.0 684.2,1432.0 692.5,1432.0 700.8,1432.0 709.0,1432.0 717.3,1432.0 725.6,1432.0 733.9,1432.0 742.2,1432.0 750.5,1432.0 758.7,1432.0 767.0,1432.0 775.3,1432.0 783.6,1432.0 791.9,1432.0 800.2,1432.0 808.4,1432.0 816.7,1432.0 825.0,1432.0 833.3,1432.0 841.6,1432.0 849.9,1432.0 858.2,1432.0 866.4,1432.0 874.7,1432.0 883.0,1432.0 891.3,1432.0 899.6,1432.0 907.9,1432.0 916.1,1432.0 924.4,1432.0 932.7,1432.0 941.0,1432.0 949.3,1432.0 957.6,1432.0 965.8,1432.0 974.1,1432.0"/>
<polyline fill="none" stroke="#000" stroke-width="4.2" stroke-linejoin="round" stroke-linecap="round"  points="294.8,1374.7 295.7,1359.5 296.5,1343.6 297.3,1328.2 298.2,1314.3 299.0,1302.2 299.8,1291.1 300.6,1280.3 301.5,1269.7 302.3,1259.3 303.1,1248.8 304.0,1238.7 304.8,1228.2 305.6,1217.2 306.4,1205.8 307.3,1194.7 308.1,1182.4 308.9,1170.0 309.8,1158.3 310.6,1147.3 311.4,1136.2 312.2,1125.0 313.1,1115.3 313.9,1107.2 314.7,1100.0 315.6,1093.3 316.4,1086.6 317.2,1079.8 318.0,1073.3 318.9,1067.2 319.7,1061.4 320.5,1055.9 321.3,1050.9 322.2,1046.2 323.0,1041.8 323.8,1037.7 324.7,1033.0 325.5,1028.2 326.3,1024.2 327.1,1021.0 328.0,1017.4 328.8,1013.1 329.6,1009.8 330.5,1006.6 331.3,1003.1 332.1,999.2 332.9,996.9 333.8,994.8 334.6,992.1 335.4,988.9 336.3,985.9 337.1,984.2 337.9,983.4 338.7,982.6 339.6,981.6 340.4,980.3 341.2,978.3 342.1,976.3 342.9,974.6 343.7,973.3 344.5,972.2 345.4,971.3 346.2,970.6 347.0,970.0 347.9,969.8 348.7,970.0 349.5,969.6 350.3,968.8 351.2,968.2 352.0,968.0 352.8,967.8 353.7,966.3 354.5,965.1 355.3,964.5 356.1,964.3 357.0,963.6 357.8,962.7 358.6,962.1 359.5,961.4 360.3,960.3 361.1,959.0 361.9,958.4 362.8,957.8 363.6,957.3 364.4,956.9 365.3,956.3 366.1,955.0 366.9,954.0 367.7,953.4 368.6,952.8 369.4,952.1 370.2,951.7 371.1,951.4 371.9,951.6 372.7,952.1 373.5,953.1 374.4,954.4 375.2,956.2 376.0,958.7 376.9,961.8 377.7,965.2 378.5,967.6 379.3,969.5 380.2,971.1 381.0,972.6 381.8,974.1 382.7,975.8 383.5,978.0 384.3,980.5 385.1,982.8 386.0,984.3 386.8,985.8 387.6,987.6 388.4,989.2 389.3,990.2 390.1,990.8 390.9,991.4 391.8,991.9 392.6,992.8 393.4,994.2 394.2,995.7 395.1,996.5 395.9,997.1 396.7,997.6 397.6,998.0 398.4,998.1 399.2,998.8 400.0,999.4 400.9,1000.1 401.7,1000.6 402.5,1001.0 403.4,1000.6 404.2,1000.5 405.0,1001.1 405.8,1002.4 406.7,1003.6 407.5,1004.2 408.3,1004.9 409.2,1005.8 410.0,1006.7 410.8,1006.8 411.6,1007.0 412.5,1007.9 413.3,1008.5 414.1,1008.6 415.0,1008.1 415.8,1008.5 416.6,1008.7 417.4,1008.7 418.3,1008.7 419.1,1009.7 419.9,1010.3 420.8,1010.4 421.6,1011.1 422.4,1012.3 423.2,1013.3 424.1,1013.4 424.9,1013.9 425.7,1014.3 426.6,1014.2 427.4,1013.5 428.2,1014.4 429.0,1015.6 429.9,1016.4 430.7,1016.6 431.5,1016.5 432.4,1017.0 433.2,1017.4 434.0,1017.8 434.8,1018.2 435.7,1018.9 436.5,1019.1 437.3,1018.6 438.2,1018.2 439.0,1018.2 439.8,1018.9 440.6,1019.2 441.5,1019.4 442.3,1019.6 443.1,1019.7 444.0,1019.8 444.8,1019.6 445.6,1019.4 446.4,1019.6 447.3,1020.3 448.1,1020.9 448.9,1020.8 449.8,1019.7 450.6,1017.9 451.4,1015.9 452.2,1014.2 453.1,1012.9 453.9,1012.3 454.7,1012.0 455.5,1011.3 456.4,1009.5 457.2,1007.5 458.0,1006.4 458.9,1005.9 459.7,1005.5 460.5,1005.0 461.3,1003.7 462.2,1002.5 463.0,1001.7 463.8,1001.1 464.7,1000.2 465.5,998.6 466.3,996.9 467.1,995.2 468.0,993.8 468.8,992.6 469.6,991.8 470.5,991.4 471.3,990.6 472.1,989.1 472.9,987.0 473.8,985.0 474.6,982.6 475.4,979.6 476.3,976.4 477.1,973.3 477.9,970.7 478.7,968.0 479.6,964.9 480.4,960.9 481.2,955.6 482.1,949.9 482.9,945.4 483.7,941.5 484.5,937.9 485.4,934.2 486.2,929.4 487.0,924.2 487.9,920.6 488.7,920.1 489.5,923.0 490.3,927.2 491.2,931.3 492.0,934.7 492.8,937.5 493.7,940.3 494.5,943.9 495.3,948.2 496.1,953.1 497.0,958.3 497.8,963.9 498.6,969.4 499.5,975.7 500.3,983.4 501.1,992.3 501.9,1001.7 502.8,1009.4 503.6,1016.6 504.4,1023.4 505.3,1029.2 506.1,1034.0 506.9,1039.0 507.7,1043.9 508.6,1048.5 509.4,1052.4 510.2,1055.8 511.1,1059.7 511.9,1064.1 512.7,1068.5 513.5,1072.6 514.4,1076.2 515.2,1079.6 516.0,1082.3 516.9,1085.0 517.7,1088.2 518.5,1092.3 519.3,1095.6 520.2,1098.7 521.0,1101.7 521.8,1104.5 522.7,1106.7 523.5,1109.2 524.3,1112.3 525.1,1115.5 526.0,1118.4 526.8,1121.0 527.6,1124.0 528.4,1126.6 529.3,1128.9 530.1,1131.1 530.9,1133.4 531.8,1136.2 532.6,1139.3 533.4,1142.2 534.2,1144.6 535.1,1146.9 535.9,1148.7 536.7,1150.5 537.6,1153.1 538.4,1156.4 539.2,1159.8 540.0,1161.6 540.9,1162.9 541.7,1164.3 542.5,1166.2 543.4,1168.4 544.2,1171.1 545.0,1173.6 545.8,1175.3 546.7,1176.4 547.5,1177.8 548.3,1179.6 549.2,1180.9 550.0,1182.5 550.8,1184.6 551.6,1186.9 552.5,1187.8 553.3,1189.1 554.1,1190.8 555.0,1192.5 555.8,1193.5 556.6,1194.9 557.4,1196.4 558.3,1197.7 559.1,1198.7 559.9,1199.9 560.8,1200.7 561.6,1201.5 562.4,1202.4 563.2,1203.1 564.1,1203.4 564.9,1204.0 565.7,1204.5 566.6,1204.7 567.4,1205.1 568.2,1206.5 569.0,1207.4 569.9,1206.8 570.7,1205.9 571.5,1205.3 572.4,1205.3 573.2,1205.5 574.0,1205.6 574.8,1205.7 575.7,1205.8 576.5,1206.0 577.3,1206.0 578.2,1205.7 579.0,1205.7 579.8,1205.7 580.6,1205.0 581.5,1203.8 582.3,1203.1 583.1,1202.3 584.0,1201.3 584.8,1200.6 585.6,1200.6 586.4,1200.1 587.3,1199.2 588.1,1198.5 588.9,1198.5 589.8,1199.4 590.6,1199.6 591.4,1199.1 592.2,1198.1 593.1,1197.4 593.9,1197.4 594.7,1197.1 595.5,1196.1 596.4,1194.4 597.2,1193.1 598.0,1193.0 598.9,1192.8 599.7,1192.4 600.5,1191.7 601.3,1190.6 602.2,1189.5 603.0,1188.9 603.8,1188.4 604.7,1187.6 605.5,1186.8 606.3,1185.7 607.1,1184.9 608.0,1184.3 608.8,1183.9 609.6,1183.0 610.5,1182.1 611.3,1181.1 612.1,1179.8 612.9,1178.7 613.8,1178.2 614.6,1177.6 615.4,1176.8 616.3,1176.3 617.1,1175.8 617.9,1174.9 618.7,1174.0 619.6,1172.9 620.4,1171.7 621.2,1170.5 622.1,1169.9 622.9,1170.0 623.7,1170.4 624.5,1170.5 625.4,1170.2 626.2,1169.8 627.0,1169.7 627.9,1169.1 628.7,1168.5 629.5,1168.0 630.3,1168.3 631.2,1168.2 632.0,1168.3 632.8,1168.6 633.7,1169.1 634.5,1169.5 635.3,1169.7 636.1,1169.6 637.0,1169.5 637.8,1169.5 638.6,1169.5 639.5,1169.0 640.3,1168.2 641.1,1167.7 641.9,1167.8 642.8,1168.7 643.6,1168.6 644.4,1168.6 645.3,1169.3 646.1,1170.5 646.9,1171.6 647.7,1171.9 648.6,1171.7 649.4,1171.4 650.2,1171.3 651.1,1171.7 651.9,1171.9 652.7,1171.9 653.5,1172.1 654.4,1172.4 655.2,1172.3 656.0,1172.6 656.9,1173.1 657.7,1173.4 658.5,1173.6 659.3,1173.8 660.2,1173.5 661.0,1173.4 661.8,1173.9 662.6,1174.6 663.5,1174.7 664.3,1174.6 665.1,1174.9 666.0,1175.3 666.8,1175.6 667.6,1175.7 668.4,1176.0 669.3,1176.4 670.1,1177.0 670.9,1177.9 671.8,1179.1 672.6,1179.5 673.4,1179.8 674.2,1180.4 675.1,1181.3 675.9,1182.1 676.7,1182.1 677.6,1181.9 678.4,1182.1 679.2,1182.7 680.0,1183.0 680.9,1183.2 681.7,1183.7 682.5,1184.1 683.4,1184.8 684.2,1186.1 685.0,1187.1 685.8,1187.3 686.7,1186.9 687.5,1186.4 688.3,1185.7 689.2,1185.7 690.0,1186.4 690.8,1187.4 691.6,1188.3 692.5,1189.1 693.3,1189.4 694.1,1189.4 695.0,1189.7 695.8,1190.5 696.6,1191.1 697.4,1191.4 698.3,1192.0 699.1,1192.4 699.9,1192.3 700.8,1192.1 701.6,1193.5 702.4,1194.6 703.2,1195.2 704.1,1195.3 704.9,1195.4 705.7,1195.5 706.6,1195.9 707.4,1196.4 708.2,1196.8 709.0,1197.3 709.9,1197.5 710.7,1197.5 711.5,1197.7 712.4,1198.1 713.2,1198.4 714.0,1198.6 714.8,1199.7 715.7,1200.5 716.5,1200.5 717.3,1199.9 718.2,1200.1 719.0,1200.7 719.8,1201.6 720.6,1202.3 721.5,1202.3 722.3,1202.2 723.1,1202.8 724.0,1203.2 724.8,1203.6 725.6,1204.1 726.4,1204.5 727.3,1204.7 728.1,1205.2 728.9,1206.1 729.8,1206.8 730.6,1207.2 731.4,1207.5 732.2,1207.6 733.1,1207.6 733.9,1207.9 734.7,1208.5 735.5,1208.6 736.4,1208.2 737.2,1207.7 738.0,1207.5 738.9,1208.3 739.7,1209.2 740.5,1209.8 741.3,1210.2 742.2,1210.4 743.0,1211.2 743.8,1211.1 744.7,1210.5 745.5,1210.0 746.3,1210.5 747.1,1210.5 748.0,1210.6 748.8,1211.5 749.6,1213.3 750.5,1215.6 751.3,1216.8 752.1,1217.9 752.9,1219.8 753.8,1222.2 754.6,1224.3 755.4,1225.7 756.3,1227.5 757.1,1229.3 757.9,1230.8 758.7,1232.2 759.6,1233.8 760.4,1234.9 761.2,1236.4 762.1,1238.6 762.9,1240.9 763.7,1242.2 764.5,1243.9 765.4,1245.7 766.2,1247.4 767.0,1249.0 767.9,1251.0 768.7,1252.8 769.5,1254.6 770.3,1256.4 771.2,1257.4 772.0,1257.4 772.8,1258.4 773.7,1260.0 774.5,1261.7 775.3,1262.8 776.1,1264.3 777.0,1266.3 777.8,1268.1 778.6,1269.6 779.5,1271.1 780.3,1272.5 781.1,1273.6 781.9,1274.5 782.8,1275.5 783.6,1276.5 784.4,1277.1 785.3,1277.5 786.1,1277.6 786.9,1277.8 787.7,1278.0 788.6,1278.8 789.4,1280.1 790.2,1281.4 791.1,1282.5 791.9,1283.6 792.7,1285.7 793.5,1287.0 794.4,1287.5 795.2,1287.7 796.0,1289.0 796.9,1291.0 797.7,1292.6 798.5,1294.0 799.3,1295.3 800.2,1296.6 801.0,1298.1 801.8,1299.5 802.6,1300.6 803.5,1301.6 804.3,1303.1 805.1,1305.3 806.0,1307.6 806.8,1309.4 807.6,1310.7 808.4,1311.1 809.3,1312.3 810.1,1314.1 810.9,1315.5 811.8,1316.3 812.6,1316.9 813.4,1318.5 814.2,1320.1 815.1,1321.3 815.9,1322.1 816.7,1323.1 817.6,1323.8 818.4,1323.9 819.2,1323.9 820.0,1324.2 820.9,1324.7 821.7,1325.1 822.5,1325.8 823.4,1326.9 824.2,1328.2 825.0,1329.1 825.8,1328.6 826.7,1328.3 827.5,1328.5 828.3,1329.4 829.2,1330.9 830.0,1332.5 830.8,1333.6 831.6,1333.9 832.5,1333.7 833.3,1333.3 834.1,1333.7 835.0,1334.1 835.8,1333.8 836.6,1333.1 837.4,1332.7 838.3,1333.6 839.1,1334.8 839.9,1336.1 840.8,1336.9 841.6,1337.0 842.4,1336.3 843.2,1336.3 844.1,1336.8 844.9,1337.2 845.7,1337.0 846.6,1337.5 847.4,1338.3 848.2,1338.8 849.0,1338.9 849.9,1338.9 850.7,1339.4 851.5,1340.3 852.4,1341.5 853.2,1342.6 854.0,1343.4 854.8,1344.3 855.7,1345.4 856.5,1347.1 857.3,1349.2 858.2,1351.1 859.0,1352.5 859.8,1354.2 860.6,1355.7 861.5,1357.2 862.3,1358.9 863.1,1361.1 864.0,1362.8 864.8,1364.1 865.6,1365.3 866.4,1367.0 867.3,1369.1 868.1,1371.1 868.9,1372.9 869.7,1374.5 870.6,1376.2 871.4,1378.1 872.2,1379.8 873.1,1381.2 873.9,1382.5 874.7,1383.9 875.5,1384.8 876.4,1385.7 877.2,1386.8 878.0,1388.1 878.9,1388.7 879.7,1388.1 880.5,1387.8 881.3,1387.9 882.2,1388.0 883.0,1387.4 883.8,1386.2 884.7,1385.1 885.5,1384.4 886.3,1384.1 887.1,1384.0 888.0,1382.8 888.8,1381.2 889.6,1380.0 890.5,1379.4 891.3,1378.5 892.1,1376.6 892.9,1375.6 893.8,1374.9 894.6,1374.2 895.4,1373.3 896.3,1372.2 897.1,1371.1 897.9,1370.5 898.7,1370.4 899.6,1370.4 900.4,1370.0 901.2,1370.0 902.1,1370.7 902.9,1371.6 903.7,1372.3 904.5,1373.2 905.4,1374.0 906.2,1374.4 907.0,1374.9 907.9,1376.1 908.7,1377.4 909.5,1377.6 910.3,1377.6 911.2,1378.0 912.0,1379.3 912.8,1380.5 913.7,1381.1 914.5,1381.7 915.3,1383.0 916.1,1385.0 917.0,1385.4 917.8,1384.9 918.6,1384.7 919.5,1385.4 920.3,1386.7 921.1,1386.5 921.9,1386.1 922.8,1386.0 923.6,1386.3 924.4,1386.5 925.3,1387.0 926.1,1387.8 926.9,1388.6 927.7,1389.1 928.6,1389.2 929.4,1389.1 930.2,1389.5 931.1,1390.1 931.9,1390.7 932.7,1391.6 933.5,1392.2 934.4,1392.8 935.2,1394.1 936.0,1395.9 936.9,1397.8 937.7,1399.5 938.5,1401.3 939.3,1402.9 940.2,1404.0 941.0,1404.6 941.8,1405.8 942.6,1407.4 943.5,1408.4 944.3,1409.2 945.1,1410.6 946.0,1412.6 946.8,1413.7 947.6,1414.6 948.4,1415.7 949.3,1417.3 950.1,1418.7 950.9,1419.5 951.8,1420.1 952.6,1420.6 953.4,1421.3 954.2,1422.4 955.1,1423.4 955.9,1424.4 956.7,1425.9 957.6,1427.9 958.4,1429.1 959.2,1429.5 960.0,1430.0 960.9,1430.6 961.7,1431.0 962.5,1430.6 963.4,1429.9 964.2,1429.3 965.0,1428.6 965.8,1427.8 966.7,1427.4 967.5,1427.5 968.3,1427.4 969.2,1426.9 970.0,1426.0 970.8,1424.9 971.6,1424.2 972.5,1424.2 973.3,1424.3 974.1,1423.8"/>
<polyline fill="none" stroke="#ff0000" stroke-width="4.6" stroke-linejoin="round" stroke-linecap="round"  points="294.8,1328.3 296.5,1315.8 298.2,1301.7 299.8,1286.2 301.5,1269.4 303.1,1251.5 304.8,1232.8 306.4,1213.1 308.1,1189.7 309.8,1164.0 311.4,1138.9 313.1,1117.2 314.7,1098.1 316.4,1080.1 318.0,1063.5 319.7,1048.8 321.3,1036.2 323.0,1024.6 324.7,1014.1 326.3,1005.5 328.0,999.2 329.6,994.4 331.3,990.0 332.9,986.2 334.6,983.1 336.3,980.9 337.9,979.7 339.6,979.0 341.2,978.4 342.9,978.0 344.5,977.7 346.2,977.4 347.9,977.2 349.5,976.8 351.2,976.4 352.8,975.9 354.5,975.1 356.1,973.8 357.8,972.0 359.5,969.9 361.1,967.8 362.8,965.7 364.4,964.0 366.1,962.3 367.7,960.6 369.4,959.0 371.1,957.7 372.7,956.8 374.4,956.7 376.0,957.1 377.7,957.8 379.3,958.7 381.0,959.9 382.7,961.3 384.3,962.8 386.0,964.3 387.6,966.4 389.3,969.3 390.9,972.6 392.6,976.3 394.2,980.2 395.9,984.1 397.6,987.9 399.2,991.2 400.9,994.3 402.5,997.5 404.2,1000.6 405.8,1003.7 407.5,1006.7 409.2,1009.5 410.8,1012.0 412.5,1014.2 414.1,1016.0 415.8,1017.7 417.4,1019.4 419.1,1021.1 420.8,1022.6 422.4,1023.9 424.1,1025.0 425.7,1025.8 427.4,1026.3 429.0,1026.4 430.7,1026.0 432.4,1025.1 434.0,1023.8 435.7,1022.3 437.3,1020.5 439.0,1018.7 440.6,1016.8 442.3,1014.9 444.0,1013.2 445.6,1011.3 447.3,1009.2 448.9,1007.0 450.6,1004.6 452.2,1002.3 453.9,1000.1 455.5,997.9 457.2,996.0 458.9,994.3 460.5,992.9 462.2,991.8 463.8,990.9 465.5,990.1 467.1,989.2 468.8,988.2 470.5,986.8 472.1,984.9 473.8,981.8 475.4,977.5 477.1,972.2 478.7,966.4 480.4,959.7 482.1,950.6 483.7,941.0 485.4,932.2 487.0,923.1 488.7,920.1 490.3,925.6 492.0,933.7 493.7,940.8 495.3,948.7 497.0,957.7 498.6,969.4 500.3,984.5 501.9,1001.0 503.6,1016.7 505.3,1029.5 506.9,1039.4 508.6,1048.4 510.2,1056.7 511.9,1064.3 513.5,1071.5 515.2,1078.5 516.9,1085.3 518.5,1092.0 520.2,1098.4 521.8,1104.6 523.5,1110.6 525.1,1116.3 526.8,1121.8 528.4,1127.0 530.1,1132.0 531.8,1136.9 533.4,1141.8 535.1,1146.5 536.7,1151.2 538.4,1155.7 540.0,1160.0 541.7,1164.2 543.4,1168.0 545.0,1171.6 546.7,1174.9 548.3,1177.9 550.0,1180.5 551.6,1183.0 553.3,1185.3 555.0,1187.6 556.6,1189.6 558.3,1191.5 559.9,1193.1 561.6,1194.5 563.2,1195.6 564.9,1196.5 566.6,1197.4 568.2,1198.2 569.9,1199.0 571.5,1199.5 573.2,1199.9 574.8,1200.1 576.5,1200.1 578.2,1199.9 579.8,1199.7 581.5,1199.4 583.1,1199.1 584.8,1198.7 586.4,1198.3 588.1,1197.8 589.8,1197.4 591.4,1196.9 593.1,1196.2 594.7,1195.5 596.4,1194.7 598.0,1193.8 599.7,1192.8 601.3,1191.8 603.0,1190.8 604.7,1189.8 606.3,1188.7 608.0,1187.7 609.6,1186.8 611.3,1185.8 612.9,1184.7 614.6,1183.6 616.3,1182.4 617.9,1181.3 619.6,1180.1 621.2,1179.0 622.9,1177.9 624.5,1176.9 626.2,1176.0 627.9,1175.2 629.5,1174.5 631.2,1173.9 632.8,1173.4 634.5,1172.8 636.1,1172.3 637.8,1171.8 639.5,1171.4 641.1,1171.1 642.8,1170.9 644.4,1170.8 646.1,1170.9 647.7,1171.1 649.4,1171.4 651.1,1171.8 652.7,1172.3 654.4,1172.8 656.0,1173.3 657.7,1173.8 659.3,1174.3 661.0,1174.9 662.6,1175.4 664.3,1176.1 666.0,1176.7 667.6,1177.4 669.3,1178.2 670.9,1178.9 672.6,1179.7 674.2,1180.5 675.9,1181.3 677.6,1182.1 679.2,1182.9 680.9,1183.7 682.5,1184.4 684.2,1185.2 685.8,1185.9 687.5,1186.6 689.2,1187.4 690.8,1188.1 692.5,1188.8 694.1,1189.5 695.8,1190.3 697.4,1191.0 699.1,1191.7 700.8,1192.5 702.4,1193.2 704.1,1193.9 705.7,1194.7 707.4,1195.4 709.0,1196.2 710.7,1197.0 712.4,1197.8 714.0,1198.6 715.7,1199.4 717.3,1200.2 719.0,1201.1 720.6,1201.9 722.3,1202.8 724.0,1203.7 725.6,1204.6 727.3,1205.5 728.9,1206.4 730.6,1207.4 732.2,1208.3 733.9,1209.3 735.5,1210.3 737.2,1211.4 738.9,1212.5 740.5,1213.7 742.2,1215.0 743.8,1216.3 745.5,1217.8 747.1,1219.4 748.8,1221.1 750.5,1223.0 752.1,1225.0 753.8,1227.0 755.4,1229.2 757.1,1231.4 758.7,1233.6 760.4,1235.9 762.1,1238.3 763.7,1240.6 765.4,1242.9 767.0,1245.2 768.7,1247.6 770.3,1250.0 772.0,1252.5 773.7,1255.1 775.3,1257.7 777.0,1260.3 778.6,1263.0 780.3,1265.7 781.9,1268.5 783.6,1271.2 785.3,1274.0 786.9,1276.7 788.6,1279.5 790.2,1282.3 791.9,1285.0 793.5,1287.8 795.2,1290.6 796.9,1293.5 798.5,1296.6 800.2,1299.7 801.8,1302.8 803.5,1305.8 805.1,1308.7 806.8,1311.4 808.4,1313.8 810.1,1315.8 811.8,1317.6 813.4,1319.2 815.1,1320.8 816.7,1322.2 818.4,1323.6 820.0,1324.9 821.7,1326.1 823.4,1327.2 825.0,1328.3 826.7,1329.4 828.3,1330.4 830.0,1331.5 831.6,1332.4 833.3,1333.2 835.0,1333.9 836.6,1334.6 838.3,1335.3 839.9,1335.9 841.6,1336.6 843.2,1337.4 844.9,1338.2 846.6,1339.1 848.2,1340.2 849.9,1341.5 851.5,1343.3 853.2,1345.8 854.8,1348.7 856.5,1351.9 858.2,1355.2 859.8,1358.6 861.5,1361.9 863.1,1364.9 864.8,1367.5 866.4,1369.5 868.1,1371.5 869.7,1373.5 871.4,1375.5 873.1,1377.3 874.7,1378.9 876.4,1380.1 878.0,1381.0 879.7,1381.3 881.3,1381.3 883.0,1381.1 884.7,1380.9 886.3,1380.6 888.0,1380.2 889.6,1379.9 891.3,1379.6 892.9,1379.2 894.6,1378.6 896.3,1378.0 897.9,1377.4 899.6,1376.8 901.2,1376.3 902.9,1375.9 904.5,1375.8 906.2,1375.9 907.9,1376.2 909.5,1376.6 911.2,1377.3 912.8,1378.1 914.5,1379.0 916.1,1379.9 917.8,1381.0 919.5,1382.2 921.1,1383.3 922.8,1384.5 924.4,1385.7 926.1,1387.2 927.7,1389.0 929.4,1391.0 931.1,1393.3 932.7,1395.7 934.4,1398.2 936.0,1400.6 937.7,1403.1 939.3,1405.4 941.0,1407.6 942.6,1409.5 944.3,1411.2 946.0,1412.9 947.6,1414.5 949.3,1416.0 950.9,1417.5 952.6,1419.0 954.2,1420.3 955.9,1421.5 957.6,1422.7 959.2,1423.7 960.9,1424.5 962.5,1425.4 964.2,1426.2 965.8,1426.9 967.5,1427.6 969.2,1428.3 970.8,1428.8 972.5,1429.3 974.1,1429.7"/>
<rect x="212.0" y="866.6" width="828.4" height="608.3" fill="none" stroke="#000" stroke-width="4.0"/>
<path d="M212.0 1474.8v14M377.7 1474.8v14M543.4 1474.8v14M709.0 1474.8v14M874.7 1474.8v14M1040.4 1474.8v14M294.8 1474.8v8.5M460.5 1474.8v8.5M626.2 1474.8v8.5M791.9 1474.8v8.5M957.6 1474.8v8.5M212.0 1414.0h-14.5M212.0 1292.3h-14.5M212.0 1170.7h-14.5M212.0 1049.0h-14.5M212.0 927.4h-14.5M212.0 1474.8h-8.5M212.0 1353.2h-8.5M212.0 1231.5h-8.5M212.0 1109.9h-8.5M212.0 988.2h-8.5M212.0 866.6h-8.5" stroke="#000" stroke-width="4.0" fill="none"/>
<text x="212.3" y="1523.5" font-family='"Liberation Sans", Arial, Helvetica, sans-serif' font-size="36" font-weight="bold" text-anchor="middle" fill="#000" letter-spacing="0.6">300</text>
<text x="378.0" y="1523.5" font-family='"Liberation Sans", Arial, Helvetica, sans-serif' font-size="36" font-weight="bold" text-anchor="middle" fill="#000" letter-spacing="0.6">400</text>
<text x="543.7" y="1523.5" font-family='"Liberation Sans", Arial, Helvetica, sans-serif' font-size="36" font-weight="bold" text-anchor="middle" fill="#000" letter-spacing="0.6">500</text>
<text x="709.3" y="1523.5" font-family='"Liberation Sans", Arial, Helvetica, sans-serif' font-size="36" font-weight="bold" text-anchor="middle" fill="#000" letter-spacing="0.6">600</text>
<text x="875.0" y="1523.5" font-family='"Liberation Sans", Arial, Helvetica, sans-serif' font-size="36" font-weight="bold" text-anchor="middle" fill="#000" letter-spacing="0.6">700</text>
<text x="1040.7" y="1523.5" font-family='"Liberation Sans", Arial, Helvetica, sans-serif' font-size="36" font-weight="bold" text-anchor="middle" fill="#000" letter-spacing="0.6">800</text>
<text x="190.0" y="1425.3" font-family='"Liberation Sans", Arial, Helvetica, sans-serif' font-size="36" font-weight="bold" text-anchor="end" fill="#000" letter-spacing="0.6">0.2</text>
<text x="190.0" y="1303.6" font-family='"Liberation Sans", Arial, Helvetica, sans-serif' font-size="36" font-weight="bold" text-anchor="end" fill="#000" letter-spacing="0.6">0.4</text>
<text x="190.0" y="1182.0" font-family='"Liberation Sans", Arial, Helvetica, sans-serif' font-size="36" font-weight="bold" text-anchor="end" fill="#000" letter-spacing="0.6">0.6</text>
<text x="190.0" y="1060.3" font-family='"Liberation Sans", Arial, Helvetica, sans-serif' font-size="36" font-weight="bold" text-anchor="end" fill="#000" letter-spacing="0.6">0.8</text>
<text x="190.0" y="938.7" font-family='"Liberation Sans", Arial, Helvetica, sans-serif' font-size="36" font-weight="bold" text-anchor="end" fill="#000" letter-spacing="0.6">1.0</text>
<text x="624.2" y="1598.0" font-family='"Liberation Sans", Arial, Helvetica, sans-serif' font-size="48" font-weight="bold" text-anchor="middle" fill="#000" textLength="393" lengthAdjust="spacing">Wavelength (nm)</text>
<text transform="translate(87.5 1200.0) rotate(-90)" font-family='"Liberation Sans", Arial, Helvetica, sans-serif' font-size="48" font-weight="bold" text-anchor="middle" textLength="331" lengthAdjust="spacing">Intensity (a.u.)</text>
<line x1="820.0" y1="913.8" x2="887.0" y2="913.8" stroke="#000" stroke-width="4.1" stroke-linecap="round"/>
<text x="899.0" y="923.5" font-family='"Liberation Sans", Arial, Helvetica, sans-serif' font-size="35" font-weight="bold" text-anchor="start" fill="#000" >S2</text>
<line x1="820.0" y1="961.6" x2="887.0" y2="961.6" stroke="#ff0000" stroke-width="4.1" stroke-linecap="round"/>
<text x="899.0" y="971.0" font-family='"Liberation Sans", Arial, Helvetica, sans-serif' font-size="35" font-weight="bold" text-anchor="start" fill="#000" letter-spacing="0.9">Fitting</text>
<text x="325.3" y="1247.2" font-family='"Liberation Sans", Arial, Helvetica, sans-serif' font-size="31.5" font-weight="bold" text-anchor="middle" fill="#000" letter-spacing="1.6">369</text>
<text x="371.0" y="1006.7" font-family='"Liberation Sans", Arial, Helvetica, sans-serif' font-size="31.5" font-weight="bold" text-anchor="middle" fill="#000" letter-spacing="1.6">394</text>
<text x="470.8" y="1054.0" font-family='"Liberation Sans", Arial, Helvetica, sans-serif' font-size="31.5" font-weight="bold" text-anchor="middle" fill="#000" letter-spacing="1.6">455</text>
<text x="490.5" y="1331.9" font-family='"Liberation Sans", Arial, Helvetica, sans-serif' font-size="31.5" font-weight="bold" text-anchor="middle" fill="#000" letter-spacing="1.6">466</text>
<text x="646.8" y="1157.0" font-family='"Liberation Sans", Arial, Helvetica, sans-serif' font-size="31.5" font-weight="bold" text-anchor="middle" fill="#000" letter-spacing="1.6">561</text>
<text x="774.3" y="1348.0" font-family='"Liberation Sans", Arial, Helvetica, sans-serif' font-size="31.5" font-weight="bold" text-anchor="middle" fill="#000" letter-spacing="1.6">635</text>
<text x="850.8" y="1377.1" font-family='"Liberation Sans", Arial, Helvetica, sans-serif' font-size="31.5" font-weight="bold" text-anchor="middle" fill="#000" letter-spacing="1.6">682</text>
<text x="935.3" y="1361.9" font-family='"Liberation Sans", Arial, Helvetica, sans-serif' font-size="31.5" font-weight="bold" text-anchor="middle" fill="#000" letter-spacing="1.6">725</text>
<polyline fill="none" stroke="#0000ff" stroke-width="3.8" stroke-linejoin="round" stroke-linecap="round"  points="1394.8,1353.2 1396.5,1345.2 1398.1,1336.7 1399.8,1327.8 1401.5,1318.6 1403.1,1309.2 1404.8,1299.7 1406.4,1290.3 1408.1,1281.2 1409.7,1272.4 1411.4,1264.2 1413.1,1256.7 1414.7,1250.0 1416.4,1244.3 1418.0,1239.8 1419.7,1236.5 1421.3,1234.5 1423.0,1233.8 1424.6,1234.5 1426.3,1236.5 1428.0,1239.8 1429.6,1244.3 1431.3,1250.0 1432.9,1256.7 1434.6,1264.2 1436.2,1272.4 1437.9,1281.2 1439.6,1290.3 1441.2,1299.7 1442.9,1309.2 1444.5,1318.6 1446.2,1327.8 1447.8,1336.7 1449.5,1345.2 1451.2,1353.2 1452.8,1360.7 1454.5,1367.6 1456.1,1373.8 1457.8,1379.5 1459.4,1384.6 1461.1,1389.1 1462.8,1393.1 1464.4,1396.5 1466.1,1399.5 1467.7,1402.0 1469.4,1404.2 1471.0,1406.0 1472.7,1407.5 1474.3,1408.7 1476.0,1409.7 1477.7,1410.5 1479.3,1411.2 1481.0,1411.7 1482.6,1412.1 1484.3,1412.4 1485.9,1412.7 1487.6,1412.9 1489.3,1413.0 1490.9,1413.1 1492.6,1413.2 1494.2,1413.3 1495.9,1413.3 1497.5,1413.4 1499.2,1413.4 1500.9,1413.4 1502.5,1413.4 1504.2,1413.4 1505.8,1413.4 1507.5,1413.4 1509.1,1413.4 1510.8,1413.4 1512.4,1413.4 1514.1,1413.4 1515.8,1413.4 1517.4,1413.4 1519.1,1413.4 1520.7,1413.4 1522.4,1413.4 1524.0,1413.4 1525.7,1413.4 1527.4,1413.4 1529.0,1413.4 1530.7,1413.4 1532.3,1413.4 1534.0,1413.4 1535.6,1413.4 1537.3,1413.4 1539.0,1413.4 1540.6,1413.4 1542.3,1413.4 1543.9,1413.4 1545.6,1413.4 1547.2,1413.4 1548.9,1413.4 1550.6,1413.4 1552.2,1413.4 1553.9,1413.4 1555.5,1413.4 1557.2,1413.4 1558.8,1413.4 1560.5,1413.4 1562.1,1413.4 1563.8,1413.4 1565.5,1413.4 1567.1,1413.4 1568.8,1413.4 1570.4,1413.4 1572.1,1413.4 1573.7,1413.4 1575.4,1413.4 1577.1,1413.4 1578.7,1413.4 1580.4,1413.4 1582.0,1413.4 1583.7,1413.4 1585.3,1413.4 1587.0,1413.4 1588.7,1413.4 1590.3,1413.4 1592.0,1413.4 1593.6,1413.4 1595.3,1413.4 1596.9,1413.4 1598.6,1413.4 1600.2,1413.4 1601.9,1413.4 1603.6,1413.4 1605.2,1413.4 1606.9,1413.4 1608.5,1413.4 1610.2,1413.4 1611.8,1413.4 1613.5,1413.4 1615.2,1413.4 1616.8,1413.4 1618.5,1413.4 1620.1,1413.4 1621.8,1413.4 1623.4,1413.4 1625.1,1413.4 1626.8,1413.4 1628.4,1413.4 1630.1,1413.4 1631.7,1413.4 1633.4,1413.4 1635.0,1413.4 1636.7,1413.4 1638.4,1413.4 1640.0,1413.4 1641.7,1413.4 1643.3,1413.4 1645.0,1413.4 1646.6,1413.4 1648.3,1413.4 1649.9,1413.4 1651.6,1413.4 1653.3,1413.4 1654.9,1413.4 1656.6,1413.4 1658.2,1413.4 1659.9,1413.4 1661.5,1413.4 1663.2,1413.4 1664.9,1413.4 1666.5,1413.4 1668.2,1413.4 1669.8,1413.4 1671.5,1413.4 1673.1,1413.4 1674.8,1413.4 1676.5,1413.4 1678.1,1413.4 1679.8,1413.4 1681.4,1413.4 1683.1,1413.4 1684.7,1413.4 1686.4,1413.4 1688.0,1413.4 1689.7,1413.4 1691.4,1413.4 1693.0,1413.4 1694.7,1413.4 1696.3,1413.4 1698.0,1413.4 1699.6,1413.4 1701.3,1413.4 1703.0,1413.4 1704.6,1413.4 1706.3,1413.4 1707.9,1413.4 1709.6,1413.4 1711.2,1413.4 1712.9,1413.4 1714.6,1413.4 1716.2,1413.4 1717.9,1413.4 1719.5,1413.4 1721.2,1413.4 1722.8,1413.4 1724.5,1413.4 1726.2,1413.4 1727.8,1413.4 1729.5,1413.4 1731.1,1413.4 1732.8,1413.4 1734.4,1413.4 1736.1,1413.4 1737.7,1413.4 1739.4,1413.4 1741.1,1413.4 1742.7,1413.4 1744.4,1413.4 1746.0,1413.4 1747.7,1413.4 1749.3,1413.4 1751.0,1413.4 1752.7,1413.4 1754.3,1413.4 1756.0,1413.4 1757.6,1413.4 1759.3,1413.4 1760.9,1413.4 1762.6,1413.4 1764.3,1413.4 1765.9,1413.4 1767.6,1413.4 1769.2,1413.4 1770.9,1413.4 1772.5,1413.4 1774.2,1413.4 1775.8,1413.4 1777.5,1413.4 1779.2,1413.4 1780.8,1413.4 1782.5,1413.4 1784.1,1413.4 1785.8,1413.4 1787.4,1413.4 1789.1,1413.4 1790.8,1413.4 1792.4,1413.4 1794.1,1413.4 1795.7,1413.4 1797.4,1413.4 1799.0,1413.4 1800.7,1413.4 1802.4,1413.4 1804.0,1413.4 1805.7,1413.4 1807.3,1413.4 1809.0,1413.4 1810.6,1413.4 1812.3,1413.4 1813.9,1413.4 1815.6,1413.4 1817.3,1413.4 1818.9,1413.4 1820.6,1413.4 1822.2,1413.4 1823.9,1413.4 1825.5,1413.4 1827.2,1413.4 1828.9,1413.4 1830.5,1413.4 1832.2,1413.4 1833.8,1413.4 1835.5,1413.4 1837.1,1413.4 1838.8,1413.4 1840.5,1413.4 1842.1,1413.4 1843.8,1413.4 1845.4,1413.4 1847.1,1413.4 1848.7,1413.4 1850.4,1413.4 1852.1,1413.4 1853.7,1413.4 1855.4,1413.4 1857.0,1413.4 1858.7,1413.4 1860.3,1413.4 1862.0,1413.4 1863.6,1413.4 1865.3,1413.4 1867.0,1413.4 1868.6,1413.4 1870.3,1413.4 1871.9,1413.4 1873.6,1413.4 1875.2,1413.4 1876.9,1413.4 1878.6,1413.4 1880.2,1413.4 1881.9,1413.4 1883.5,1413.4 1885.2,1413.4 1886.8,1413.4 1888.5,1413.4 1890.2,1413.4 1891.8,1413.4 1893.5,1413.4 1895.1,1413.4 1896.8,1413.4 1898.4,1413.4 1900.1,1413.4 1901.7,1413.4 1903.4,1413.4 1905.1,1413.4 1906.7,1413.4 1908.4,1413.4 1910.0,1413.4 1911.7,1413.4 1913.3,1413.4 1915.0,1413.4 1916.7,1413.4 1918.3,1413.4 1920.0,1413.4 1921.6,1413.4 1923.3,1413.4 1924.9,1413.4 1926.6,1413.4 1928.3,1413.4 1929.9,1413.4 1931.6,1413.4 1933.2,1413.4 1934.9,1413.4 1936.5,1413.4 1938.2,1413.4 1939.9,1413.4 1941.5,1413.4 1943.2,1413.4 1944.8,1413.4 1946.5,1413.4 1948.1,1413.4 1949.8,1413.4 1951.4,1413.4 1953.1,1413.4 1954.8,1413.4 1956.4,1413.4 1958.1,1413.4 1959.7,1413.4 1961.4,1413.4 1963.0,1413.4 1964.7,1413.4 1966.4,1413.4 1968.0,1413.4 1969.7,1413.4 1971.3,1413.4 1973.0,1413.4 1974.6,1413.4 1976.3,1413.4 1978.0,1413.4 1979.6,1413.4 1981.3,1413.4 1982.9,1413.4 1984.6,1413.4 1986.2,1413.4 1987.9,1413.4 1989.5,1413.4 1991.2,1413.4 1992.9,1413.4 1994.5,1413.4 1996.2,1413.4 1997.8,1413.4 1999.5,1413.4 2001.1,1413.4 2002.8,1413.4 2004.5,1413.4 2006.1,1413.4 2007.8,1413.4 2009.4,1413.4 2011.1,1413.4 2012.7,1413.4 2014.4,1413.4 2016.1,1413.4 2017.7,1413.4 2019.4,1413.4 2021.0,1413.4 2022.7,1413.4 2024.3,1413.4 2026.0,1413.4 2027.7,1413.4 2029.3,1413.4 2031.0,1413.4 2032.6,1413.4 2034.3,1413.4 2035.9,1413.4 2037.6,1413.4 2039.2,1413.4 2040.9,1413.4 2042.6,1413.4 2044.2,1413.4 2045.9,1413.4 2047.5,1413.4 2049.2,1413.4 2050.8,1413.4 2052.5,1413.4 2054.2,1413.4 2055.8,1413.4 2057.5,1413.4 2059.1,1413.4 2060.8,1413.4 2062.4,1413.4 2064.1,1413.4 2065.8,1413.4 2067.4,1413.4 2069.1,1413.4 2070.7,1413.4 2072.4,1413.4 2074.0,1413.4"/>
<polyline fill="none" stroke="#ff00ff" stroke-width="3.8" stroke-linejoin="round" stroke-linecap="round"  points="1394.8,1319.0 1396.5,1312.9 1398.1,1306.6 1399.8,1300.1 1401.5,1293.4 1403.1,1286.5 1404.8,1279.4 1406.4,1272.2 1408.1,1264.8 1409.7,1257.4 1411.4,1249.8 1413.1,1242.1 1414.7,1234.4 1416.4,1226.6 1418.0,1218.8 1419.7,1211.0 1421.3,1203.3 1423.0,1195.6 1424.6,1188.1 1426.3,1180.6 1428.0,1173.3 1429.6,1166.2 1431.3,1159.4 1432.9,1152.7 1434.6,1146.3 1436.2,1140.3 1437.9,1134.5 1439.6,1129.1 1441.2,1124.1 1442.9,1119.5 1444.5,1115.3 1446.2,1111.5 1447.8,1108.3 1449.5,1105.4 1451.2,1103.1 1452.8,1101.3 1454.5,1100.0 1456.1,1099.2 1457.8,1099.0 1459.4,1099.2 1461.1,1100.0 1462.8,1101.3 1464.4,1103.1 1466.1,1105.4 1467.7,1108.3 1469.4,1111.5 1471.0,1115.3 1472.7,1119.5 1474.3,1124.1 1476.0,1129.1 1477.7,1134.5 1479.3,1140.3 1481.0,1146.3 1482.6,1152.7 1484.3,1159.4 1485.9,1166.2 1487.6,1173.3 1489.3,1180.6 1490.9,1188.1 1492.6,1195.6 1494.2,1203.3 1495.9,1211.0 1497.5,1218.8 1499.2,1226.6 1500.9,1234.4 1502.5,1242.1 1504.2,1249.8 1505.8,1257.4 1507.5,1264.8 1509.1,1272.2 1510.8,1279.4 1512.4,1286.5 1514.1,1293.4 1515.8,1300.1 1517.4,1306.6 1519.1,1312.9 1520.7,1319.0 1522.4,1324.9 1524.0,1330.5 1525.7,1335.9 1527.4,1341.1 1529.0,1346.0 1530.7,1350.8 1532.3,1355.2 1534.0,1359.5 1535.6,1363.5 1537.3,1367.3 1539.0,1370.9 1540.6,1374.3 1542.3,1377.4 1543.9,1380.4 1545.6,1383.1 1547.2,1385.7 1548.9,1388.1 1550.6,1390.4 1552.2,1392.4 1553.9,1394.4 1555.5,1396.1 1557.2,1397.8 1558.8,1399.3 1560.5,1400.7 1562.1,1401.9 1563.8,1403.1 1565.5,1404.1 1567.1,1405.1 1568.8,1406.0 1570.4,1406.8 1572.1,1407.5 1573.7,1408.1 1575.4,1408.7 1577.1,1409.3 1578.7,1409.7 1580.4,1410.2 1582.0,1410.5 1583.7,1410.9 1585.3,1411.2 1587.0,1411.5 1588.7,1411.7 1590.3,1411.9 1592.0,1412.1 1593.6,1412.3 1595.3,1412.4 1596.9,1412.6 1598.6,1412.7 1600.2,1412.8 1601.9,1412.9 1603.6,1412.9 1605.2,1413.0 1606.9,1413.1 1608.5,1413.1 1610.2,1413.2 1611.8,1413.2 1613.5,1413.2 1615.2,1413.3 1616.8,1413.3 1618.5,1413.3 1620.1,1413.3 1621.8,1413.4 1623.4,1413.4 1625.1,1413.4 1626.8,1413.4 1628.4,1413.4 1630.1,1413.4 1631.7,1413.4 1633.4,1413.4 1635.0,1413.4 1636.7,1413.4 1638.4,1413.4 1640.0,1413.4 1641.7,1413.4 1643.3,1413.4 1645.0,1413.4 1646.6,1413.4 1648.3,1413.4 1649.9,1413.4 1651.6,1413.4 1653.3,1413.4 1654.9,1413.4 1656.6,1413.4 1658.2,1413.4 1659.9,1413.4 1661.5,1413.4 1663.2,1413.4 1664.9,1413.4 1666.5,1413.4 1668.2,1413.4 1669.8,1413.4 1671.5,1413.4 1673.1,1413.4 1674.8,1413.4 1676.5,1413.4 1678.1,1413.4 1679.8,1413.4 1681.4,1413.4 1683.1,1413.4 1684.7,1413.4 1686.4,1413.4 1688.0,1413.4 1689.7,1413.4 1691.4,1413.4 1693.0,1413.4 1694.7,1413.4 1696.3,1413.4 1698.0,1413.4 1699.6,1413.4 1701.3,1413.4 1703.0,1413.4 1704.6,1413.4 1706.3,1413.4 1707.9,1413.4 1709.6,1413.4 1711.2,1413.4 1712.9,1413.4 1714.6,1413.4 1716.2,1413.4 1717.9,1413.4 1719.5,1413.4 1721.2,1413.4 1722.8,1413.4 1724.5,1413.4 1726.2,1413.4 1727.8,1413.4 1729.5,1413.4 1731.1,1413.4 1732.8,1413.4 1734.4,1413.4 1736.1,1413.4 1737.7,1413.4 1739.4,1413.4 1741.1,1413.4 1742.7,1413.4 1744.4,1413.4 1746.0,1413.4 1747.7,1413.4 1749.3,1413.4 1751.0,1413.4 1752.7,1413.4 1754.3,1413.4 1756.0,1413.4 1757.6,1413.4 1759.3,1413.4 1760.9,1413.4 1762.6,1413.4 1764.3,1413.4 1765.9,1413.4 1767.6,1413.4 1769.2,1413.4 1770.9,1413.4 1772.5,1413.4 1774.2,1413.4 1775.8,1413.4 1777.5,1413.4 1779.2,1413.4 1780.8,1413.4 1782.5,1413.4 1784.1,1413.4 1785.8,1413.4 1787.4,1413.4 1789.1,1413.4 1790.8,1413.4 1792.4,1413.4 1794.1,1413.4 1795.7,1413.4 1797.4,1413.4 1799.0,1413.4 1800.7,1413.4 1802.4,1413.4 1804.0,1413.4 1805.7,1413.4 1807.3,1413.4 1809.0,1413.4 1810.6,1413.4 1812.3,1413.4 1813.9,1413.4 1815.6,1413.4 1817.3,1413.4 1818.9,1413.4 1820.6,1413.4 1822.2,1413.4 1823.9,1413.4 1825.5,1413.4 1827.2,1413.4 1828.9,1413.4 1830.5,1413.4 1832.2,1413.4 1833.8,1413.4 1835.5,1413.4 1837.1,1413.4 1838.8,1413.4 1840.5,1413.4 1842.1,1413.4 1843.8,1413.4 1845.4,1413.4 1847.1,1413.4 1848.7,1413.4 1850.4,1413.4 1852.1,1413.4 1853.7,1413.4 1855.4,1413.4 1857.0,1413.4 1858.7,1413.4 1860.3,1413.4 1862.0,1413.4 1863.6,1413.4 1865.3,1413.4 1867.0,1413.4 1868.6,1413.4 1870.3,1413.4 1871.9,1413.4 1873.6,1413.4 1875.2,1413.4 1876.9,1413.4 1878.6,1413.4 1880.2,1413.4 1881.9,1413.4 1883.5,1413.4 1885.2,1413.4 1886.8,1413.4 1888.5,1413.4 1890.2,1413.4 1891.8,1413.4 1893.5,1413.4 1895.1,1413.4 1896.8,1413.4 1898.4,1413.4 1900.1,1413.4 1901.7,1413.4 1903.4,1413.4 1905.1,1413.4 1906.7,1413.4 1908.4,1413.4 1910.0,1413.4 1911.7,1413.4 1913.3,1413.4 1915.0,1413.4 1916.7,1413.4 1918.3,1413.4 1920.0,1413.4 1921.6,1413.4 1923.3,1413.4 1924.9,1413.4 1926.6,1413.4 1928.3,1413.4 1929.9,1413.4 1931.6,1413.4 1933.2,1413.4 1934.9,1413.4 1936.5,1413.4 1938.2,1413.4 1939.9,1413.4 1941.5,1413.4 1943.2,1413.4 1944.8,1413.4 1946.5,1413.4 1948.1,1413.4 1949.8,1413.4 1951.4,1413.4 1953.1,1413.4 1954.8,1413.4 1956.4,1413.4 1958.1,1413.4 1959.7,1413.4 1961.4,1413.4 1963.0,1413.4 1964.7,1413.4 1966.4,1413.4 1968.0,1413.4 1969.7,1413.4 1971.3,1413.4 1973.0,1413.4 1974.6,1413.4 1976.3,1413.4 1978.0,1413.4 1979.6,1413.4 1981.3,1413.4 1982.9,1413.4 1984.6,1413.4 1986.2,1413.4 1987.9,1413.4 1989.5,1413.4 1991.2,1413.4 1992.9,1413.4 1994.5,1413.4 1996.2,1413.4 1997.8,1413.4 1999.5,1413.4 2001.1,1413.4 2002.8,1413.4 2004.5,1413.4 2006.1,1413.4 2007.8,1413.4 2009.4,1413.4 2011.1,1413.4 2012.7,1413.4 2014.4,1413.4 2016.1,1413.4 2017.7,1413.4 2019.4,1413.4 2021.0,1413.4 2022.7,1413.4 2024.3,1413.4 2026.0,1413.4 2027.7,1413.4 2029.3,1413.4 2031.0,1413.4 2032.6,1413.4 2034.3,1413.4 2035.9,1413.4 2037.6,1413.4 2039.2,1413.4 2040.9,1413.4 2042.6,1413.4 2044.2,1413.4 2045.9,1413.4 2047.5,1413.4 2049.2,1413.4 2050.8,1413.4 2052.5,1413.4 2054.2,1413.4 2055.8,1413.4 2057.5,1413.4 2059.1,1413.4 2060.8,1413.4 2062.4,1413.4 2064.1,1413.4 2065.8,1413.4 2067.4,1413.4 2069.1,1413.4 2070.7,1413.4 2072.4,1413.4 2074.0,1413.4"/>
<polyline fill="none" stroke="#008000" stroke-width="3.8" stroke-linejoin="round" stroke-linecap="round"  points="1394.8,1397.3 1396.5,1396.3 1398.1,1395.2 1399.8,1394.0 1401.5,1392.8 1403.1,1391.5 1404.8,1390.2 1406.4,1388.8 1408.1,1387.3 1409.7,1385.7 1411.4,1384.1 1413.1,1382.4 1414.7,1380.7 1416.4,1378.9 1418.0,1377.0 1419.7,1375.0 1421.3,1372.9 1423.0,1370.8 1424.6,1368.5 1426.3,1366.2 1428.0,1363.8 1429.6,1361.4 1431.3,1358.8 1432.9,1356.1 1434.6,1353.4 1436.2,1350.6 1437.9,1347.7 1439.6,1344.7 1441.2,1341.6 1442.9,1338.5 1444.5,1335.2 1446.2,1331.9 1447.8,1328.5 1449.5,1325.0 1451.2,1321.5 1452.8,1317.8 1454.5,1314.1 1456.1,1310.3 1457.8,1306.5 1459.4,1302.6 1461.1,1298.6 1462.8,1294.6 1464.4,1290.5 1466.1,1286.4 1467.7,1282.2 1469.4,1278.0 1471.0,1273.7 1472.7,1269.4 1474.3,1265.1 1476.0,1260.8 1477.7,1256.4 1479.3,1252.1 1481.0,1247.7 1482.6,1243.4 1484.3,1239.0 1485.9,1234.7 1487.6,1230.4 1489.3,1226.1 1490.9,1221.8 1492.6,1217.6 1494.2,1213.5 1495.9,1209.4 1497.5,1205.4 1499.2,1201.4 1500.9,1197.5 1502.5,1193.7 1504.2,1190.0 1505.8,1186.4 1507.5,1182.9 1509.1,1179.5 1510.8,1176.3 1512.4,1173.1 1514.1,1170.1 1515.8,1167.3 1517.4,1164.5 1519.1,1161.9 1520.7,1159.5 1522.4,1157.3 1524.0,1155.1 1525.7,1153.2 1527.4,1151.4 1529.0,1149.9 1530.7,1148.4 1532.3,1147.2 1534.0,1146.2 1535.6,1145.3 1537.3,1144.7 1539.0,1144.2 1540.6,1143.9 1542.3,1143.8 1543.9,1143.9 1545.6,1144.2 1547.2,1144.7 1548.9,1145.3 1550.6,1146.2 1552.2,1147.2 1553.9,1148.4 1555.5,1149.9 1557.2,1151.4 1558.8,1153.2 1560.5,1155.1 1562.1,1157.3 1563.8,1159.5 1565.5,1161.9 1567.1,1164.5 1568.8,1167.3 1570.4,1170.1 1572.1,1173.1 1573.7,1176.3 1575.4,1179.5 1577.1,1182.9 1578.7,1186.4 1580.4,1190.0 1582.0,1193.7 1583.7,1197.5 1585.3,1201.4 1587.0,1205.4 1588.7,1209.4 1590.3,1213.5 1592.0,1217.6 1593.6,1221.8 1595.3,1226.1 1596.9,1230.4 1598.6,1234.7 1600.2,1239.0 1601.9,1243.4 1603.6,1247.7 1605.2,1252.1 1606.9,1256.4 1608.5,1260.8 1610.2,1265.1 1611.8,1269.4 1613.5,1273.7 1615.2,1278.0 1616.8,1282.2 1618.5,1286.4 1620.1,1290.5 1621.8,1294.6 1623.4,1298.6 1625.1,1302.6 1626.8,1306.5 1628.4,1310.3 1630.1,1314.1 1631.7,1317.8 1633.4,1321.5 1635.0,1325.0 1636.7,1328.5 1638.4,1331.9 1640.0,1335.2 1641.7,1338.5 1643.3,1341.6 1645.0,1344.7 1646.6,1347.7 1648.3,1350.6 1649.9,1353.4 1651.6,1356.1 1653.3,1358.8 1654.9,1361.4 1656.6,1363.8 1658.2,1366.2 1659.9,1368.5 1661.5,1370.8 1663.2,1372.9 1664.9,1375.0 1666.5,1377.0 1668.2,1378.9 1669.8,1380.7 1671.5,1382.4 1673.1,1384.1 1674.8,1385.7 1676.5,1387.3 1678.1,1388.8 1679.8,1390.2 1681.4,1391.5 1683.1,1392.8 1684.7,1394.0 1686.4,1395.2 1688.0,1396.3 1689.7,1397.3 1691.4,1398.3 1693.0,1399.3 1694.7,1400.1 1696.3,1401.0 1698.0,1401.8 1699.6,1402.6 1701.3,1403.3 1703.0,1403.9 1704.6,1404.6 1706.3,1405.2 1707.9,1405.7 1709.6,1406.3 1711.2,1406.8 1712.9,1407.2 1714.6,1407.7 1716.2,1408.1 1717.9,1408.5 1719.5,1408.8 1721.2,1409.2 1722.8,1409.5 1724.5,1409.8 1726.2,1410.1 1727.8,1410.3 1729.5,1410.6 1731.1,1410.8 1732.8,1411.0 1734.4,1411.2 1736.1,1411.4 1737.7,1411.5 1739.4,1411.7 1741.1,1411.8 1742.7,1412.0 1744.4,1412.1 1746.0,1412.2 1747.7,1412.3 1749.3,1412.4 1751.0,1412.5 1752.7,1412.6 1754.3,1412.6 1756.0,1412.7 1757.6,1412.8 1759.3,1412.8 1760.9,1412.9 1762.6,1412.9 1764.3,1413.0 1765.9,1413.0 1767.6,1413.1 1769.2,1413.1 1770.9,1413.1 1772.5,1413.2 1774.2,1413.2 1775.8,1413.2 1777.5,1413.2 1779.2,1413.3 1780.8,1413.3 1782.5,1413.3 1784.1,1413.3 1785.8,1413.3 1787.4,1413.3 1789.1,1413.3 1790.8,1413.4 1792.4,1413.4 1794.1,1413.4 1795.7,1413.4 1797.4,1413.4 1799.0,1413.4 1800.7,1413.4 1802.4,1413.4 1804.0,1413.4 1805.7,1413.4 1807.3,1413.4 1809.0,1413.4 1810.6,1413.4 1812.3,1413.4 1813.9,1413.4 1815.6,1413.4 1817.3,1413.4 1818.9,1413.4 1820.6,1413.4 1822.2,1413.4 1823.9,1413.4 1825.5,1413.4 1827.2,1413.4 1828.9,1413.4 1830.5,1413.4 1832.2,1413.4 1833.8,1413.4 1835.5,1413.4 1837.1,1413.4 1838.8,1413.4 1840.5,1413.4 1842.1,1413.4 1843.8,1413.4 1845.4,1413.4 1847.1,1413.4 1848.7,1413.4 1850.4,1413.4 1852.1,1413.4 1853.7,1413.4 1855.4,1413.4 1857.0,1413.4 1858.7,1413.4 1860.3,1413.4 1862.0,1413.4 1863.6,1413.4 1865.3,1413.4 1867.0,1413.4 1868.6,1413.4 1870.3,1413.4 1871.9,1413.4 1873.6,1413.4 1875.2,1413.4 1876.9,1413.4 1878.6,1413.4 1880.2,1413.4 1881.9,1413.4 1883.5,1413.4 1885.2,1413.4 1886.8,1413.4 1888.5,1413.4 1890.2,1413.4 1891.8,1413.4 1893.5,1413.4 1895.1,1413.4 1896.8,1413.4 1898.4,1413.4 1900.1,1413.4 1901.7,1413.4 1903.4,1413.4 1905.1,1413.4 1906.7,1413.4 1908.4,1413.4 1910.0,1413.4 1911.7,1413.4 1913.3,1413.4 1915.0,1413.4 1916.7,1413.4 1918.3,1413.4 1920.0,1413.4 1921.6,1413.4 1923.3,1413.4 1924.9,1413.4 1926.6,1413.4 1928.3,1413.4 1929.9,1413.4 1931.6,1413.4 1933.2,1413.4 1934.9,1413.4 1936.5,1413.4 1938.2,1413.4 1939.9,1413.4 1941.5,1413.4 1943.2,1413.4 1944.8,1413.4 1946.5,1413.4 1948.1,1413.4 1949.8,1413.4 1951.4,1413.4 1953.1,1413.4 1954.8,1413.4 1956.4,1413.4 1958.1,1413.4 1959.7,1413.4 1961.4,1413.4 1963.0,1413.4 1964.7,1413.4 1966.4,1413.4 1968.0,1413.4 1969.7,1413.4 1971.3,1413.4 1973.0,1413.4 1974.6,1413.4 1976.3,1413.4 1978.0,1413.4 1979.6,1413.4 1981.3,1413.4 1982.9,1413.4 1984.6,1413.4 1986.2,1413.4 1987.9,1413.4 1989.5,1413.4 1991.2,1413.4 1992.9,1413.4 1994.5,1413.4 1996.2,1413.4 1997.8,1413.4 1999.5,1413.4 2001.1,1413.4 2002.8,1413.4 2004.5,1413.4 2006.1,1413.4 2007.8,1413.4 2009.4,1413.4 2011.1,1413.4 2012.7,1413.4 2014.4,1413.4 2016.1,1413.4 2017.7,1413.4 2019.4,1413.4 2021.0,1413.4 2022.7,1413.4 2024.3,1413.4 2026.0,1413.4 2027.7,1413.4 2029.3,1413.4 2031.0,1413.4 2032.6,1413.4 2034.3,1413.4 2035.9,1413.4 2037.6,1413.4 2039.2,1413.4 2040.9,1413.4 2042.6,1413.4 2044.2,1413.4 2045.9,1413.4 2047.5,1413.4 2049.2,1413.4 2050.8,1413.4 2052.5,1413.4 2054.2,1413.4 2055.8,1413.4 2057.5,1413.4 2059.1,1413.4 2060.8,1413.4 2062.4,1413.4 2064.1,1413.4 2065.8,1413.4 2067.4,1413.4 2069.1,1413.4 2070.7,1413.4 2072.4,1413.4 2074.0,1413.4"/>
<polyline fill="none" stroke="#000080" stroke-width="3.8" stroke-linejoin="round" stroke-linecap="round"  points="1394.8,1413.4 1396.5,1413.4 1398.1,1413.4 1399.8,1413.4 1401.5,1413.4 1403.1,1413.4 1404.8,1413.4 1406.4,1413.4 1408.1,1413.4 1409.7,1413.4 1411.4,1413.4 1413.1,1413.4 1414.7,1413.4 1416.4,1413.4 1418.0,1413.4 1419.7,1413.4 1421.3,1413.4 1423.0,1413.4 1424.6,1413.4 1426.3,1413.4 1428.0,1413.4 1429.6,1413.4 1431.3,1413.4 1432.9,1413.4 1434.6,1413.4 1436.2,1413.4 1437.9,1413.4 1439.6,1413.4 1441.2,1413.4 1442.9,1413.4 1444.5,1413.4 1446.2,1413.4 1447.8,1413.4 1449.5,1413.4 1451.2,1413.4 1452.8,1413.4 1454.5,1413.4 1456.1,1413.4 1457.8,1413.4 1459.4,1413.4 1461.1,1413.4 1462.8,1413.4 1464.4,1413.4 1466.1,1413.4 1467.7,1413.4 1469.4,1413.4 1471.0,1413.4 1472.7,1413.4 1474.3,1413.4 1476.0,1413.4 1477.7,1413.4 1479.3,1413.4 1481.0,1413.4 1482.6,1413.4 1484.3,1413.4 1485.9,1413.4 1487.6,1413.4 1489.3,1413.4 1490.9,1413.4 1492.6,1413.4 1494.2,1413.4 1495.9,1413.4 1497.5,1413.4 1499.2,1413.4 1500.9,1413.4 1502.5,1413.4 1504.2,1413.4 1505.8,1413.4 1507.5,1413.4 1509.1,1413.4 1510.8,1413.4 1512.4,1413.4 1514.1,1413.4 1515.8,1413.4 1517.4,1413.4 1519.1,1413.4 1520.7,1413.4 1522.4,1413.4 1524.0,1413.4 1525.7,1413.4 1527.4,1413.4 1529.0,1413.4 1530.7,1413.4 1532.3,1413.4 1534.0,1413.4 1535.6,1413.4 1537.3,1413.4 1539.0,1413.4 1540.6,1413.4 1542.3,1413.4 1543.9,1413.4 1545.6,1413.4 1547.2,1413.4 1548.9,1413.4 1550.6,1413.4 1552.2,1413.4 1553.9,1413.4 1555.5,1413.4 1557.2,1413.4 1558.8,1413.4 1560.5,1413.4 1562.1,1413.4 1563.8,1413.4 1565.5,1413.3 1567.1,1413.1 1568.8,1412.6 1570.4,1411.9 1572.1,1410.5 1573.7,1408.2 1575.4,1404.8 1577.1,1400.1 1578.7,1394.1 1580.4,1387.0 1582.0,1379.4 1583.7,1372.4 1585.3,1366.9 1587.0,1363.9 1588.7,1363.9 1590.3,1366.9 1592.0,1372.4 1593.6,1379.4 1595.3,1387.0 1596.9,1394.1 1598.6,1400.1 1600.2,1404.8 1601.9,1408.2 1603.6,1410.5 1605.2,1411.9 1606.9,1412.6 1608.5,1413.1 1610.2,1413.3 1611.8,1413.4 1613.5,1413.4 1615.2,1413.4 1616.8,1413.4 1618.5,1413.4 1620.1,1413.4 1621.8,1413.4 1623.4,1413.4 1625.1,1413.4 1626.8,1413.4 1628.4,1413.4 1630.1,1413.4 1631.7,1413.4 1633.4,1413.4 1635.0,1413.4 1636.7,1413.4 1638.4,1413.4 1640.0,1413.4 1641.7,1413.4 1643.3,1413.4 1645.0,1413.4 1646.6,1413.4 1648.3,1413.4 1649.9,1413.4 1651.6,1413.4 1653.3,1413.4 1654.9,1413.4 1656.6,1413.4 1658.2,1413.4 1659.9,1413.4 1661.5,1413.4 1663.2,1413.4 1664.9,1413.4 1666.5,1413.4 1668.2,1413.4 1669.8,1413.4 1671.5,1413.4 1673.1,1413.4 1674.8,1413.4 1676.5,1413.4 1678.1,1413.4 1679.8,1413.4 1681.4,1413.4 1683.1,1413.4 1684.7,1413.4 1686.4,1413.4 1688.0,1413.4 1689.7,1413.4 1691.4,1413.4 1693.0,1413.4 1694.7,1413.4 1696.3,1413.4 1698.0,1413.4 1699.6,1413.4 1701.3,1413.4 1703.0,1413.4 1704.6,1413.4 1706.3,1413.4 1707.9,1413.4 1709.6,1413.4 1711.2,1413.4 1712.9,1413.4 1714.6,1413.4 1716.2,1413.4 1717.9,1413.4 1719.5,1413.4 1721.2,1413.4 1722.8,1413.4 1724.5,1413.4 1726.2,1413.4 1727.8,1413.4 1729.5,1413.4 1731.1,1413.4 1732.8,1413.4 1734.4,1413.4 1736.1,1413.4 1737.7,1413.4 1739.4,1413.4 1741.1,1413.4 1742.7,1413.4 1744.4,1413.4 1746.0,1413.4 1747.7,1413.4 1749.3,1413.4 1751.0,1413.4 1752.7,1413.4 1754.3,1413.4 1756.0,1413.4 1757.6,1413.4 1759.3,1413.4 1760.9,1413.4 1762.6,1413.4 1764.3,1413.4 1765.9,1413.4 1767.6,1413.4 1769.2,1413.4 1770.9,1413.4 1772.5,1413.4 1774.2,1413.4 1775.8,1413.4 1777.5,1413.4 1779.2,1413.4 1780.8,1413.4 1782.5,1413.4 1784.1,1413.4 1785.8,1413.4 1787.4,1413.4 1789.1,1413.4 1790.8,1413.4 1792.4,1413.4 1794.1,1413.4 1795.7,1413.4 1797.4,1413.4 1799.0,1413.4 1800.7,1413.4 1802.4,1413.4 1804.0,1413.4 1805.7,1413.4 1807.3,1413.4 1809.0,1413.4 1810.6,1413.4 1812.3,1413.4 1813.9,1413.4 1815.6,1413.4 1817.3,1413.4 1818.9,1413.4 1820.6,1413.4 1822.2,1413.4 1823.9,1413.4 1825.5,1413.4 1827.2,1413.4 1828.9,1413.4 1830.5,1413.4 1832.2,1413.4 1833.8,1413.4 1835.5,1413.4 1837.1,1413.4 1838.8,1413.4 1840.5,1413.4 1842.1,1413.4 1843.8,1413.4 1845.4,1413.4 1847.1,1413.4 1848.7,1413.4 1850.4,1413.4 1852.1,1413.4 1853.7,1413.4 1855.4,1413.4 1857.0,1413.4 1858.7,1413.4 1860.3,1413.4 1862.0,1413.4 1863.6,1413.4 1865.3,1413.4 1867.0,1413.4 1868.6,1413.4 1870.3,1413.4 1871.9,1413.4 1873.6,1413.4 1875.2,1413.4 1876.9,1413.4 1878.6,1413.4 1880.2,1413.4 1881.9,1413.4 1883.5,1413.4 1885.2,1413.4 1886.8,1413.4 1888.5,1413.4 1890.2,1413.4 1891.8,1413.4 1893.5,1413.4 1895.1,1413.4 1896.8,1413.4 1898.4,1413.4 1900.1,1413.4 1901.7,1413.4 1903.4,1413.4 1905.1,1413.4 1906.7,1413.4 1908.4,1413.4 1910.0,1413.4 1911.7,1413.4 1913.3,1413.4 1915.0,1413.4 1916.7,1413.4 1918.3,1413.4 1920.0,1413.4 1921.6,1413.4 1923.3,1413.4 1924.9,1413.4 1926.6,1413.4 1928.3,1413.4 1929.9,1413.4 1931.6,1413.4 1933.2,1413.4 1934.9,1413.4 1936.5,1413.4 1938.2,1413.4 1939.9,1413.4 1941.5,1413.4 1943.2,1413.4 1944.8,1413.4 1946.5,1413.4 1948.1,1413.4 1949.8,1413.4 1951.4,1413.4 1953.1,1413.4 1954.8,1413.4 1956.4,1413.4 1958.1,1413.4 1959.7,1413.4 1961.4,1413.4 1963.0,1413.4 1964.7,1413.4 1966.4,1413.4 1968.0,1413.4 1969.7,1413.4 1971.3,1413.4 1973.0,1413.4 1974.6,1413.4 1976.3,1413.4 1978.0,1413.4 1979.6,1413.4 1981.3,1413.4 1982.9,1413.4 1984.6,1413.4 1986.2,1413.4 1987.9,1413.4 1989.5,1413.4 1991.2,1413.4 1992.9,1413.4 1994.5,1413.4 1996.2,1413.4 1997.8,1413.4 1999.5,1413.4 2001.1,1413.4 2002.8,1413.4 2004.5,1413.4 2006.1,1413.4 2007.8,1413.4 2009.4,1413.4 2011.1,1413.4 2012.7,1413.4 2014.4,1413.4 2016.1,1413.4 2017.7,1413.4 2019.4,1413.4 2021.0,1413.4 2022.7,1413.4 2024.3,1413.4 2026.0,1413.4 2027.7,1413.4 2029.3,1413.4 2031.0,1413.4 2032.6,1413.4 2034.3,1413.4 2035.9,1413.4 2037.6,1413.4 2039.2,1413.4 2040.9,1413.4 2042.6,1413.4 2044.2,1413.4 2045.9,1413.4 2047.5,1413.4 2049.2,1413.4 2050.8,1413.4 2052.5,1413.4 2054.2,1413.4 2055.8,1413.4 2057.5,1413.4 2059.1,1413.4 2060.8,1413.4 2062.4,1413.4 2064.1,1413.4 2065.8,1413.4 2067.4,1413.4 2069.1,1413.4 2070.7,1413.4 2072.4,1413.4 2074.0,1413.4"/>
<polyline fill="none" stroke="#8000ff" stroke-width="3.8" stroke-linejoin="round" stroke-linecap="round"  points="1394.8,1413.0 1396.5,1413.0 1398.1,1413.0 1399.8,1413.0 1401.5,1412.9 1403.1,1412.9 1404.8,1412.9 1406.4,1412.8 1408.1,1412.8 1409.7,1412.7 1411.4,1412.7 1413.1,1412.6 1414.7,1412.6 1416.4,1412.5 1418.0,1412.5 1419.7,1412.4 1421.3,1412.4 1423.0,1412.3 1424.6,1412.2 1426.3,1412.2 1428.0,1412.1 1429.6,1412.0 1431.3,1411.9 1432.9,1411.8 1434.6,1411.7 1436.2,1411.6 1437.9,1411.5 1439.6,1411.4 1441.2,1411.3 1442.9,1411.2 1444.5,1411.1 1446.2,1410.9 1447.8,1410.8 1449.5,1410.7 1451.2,1410.5 1452.8,1410.4 1454.5,1410.2 1456.1,1410.0 1457.8,1409.8 1459.4,1409.7 1461.1,1409.5 1462.8,1409.3 1464.4,1409.1 1466.1,1408.8 1467.7,1408.6 1469.4,1408.4 1471.0,1408.1 1472.7,1407.9 1474.3,1407.6 1476.0,1407.4 1477.7,1407.1 1479.3,1406.8 1481.0,1406.5 1482.6,1406.2 1484.3,1405.8 1485.9,1405.5 1487.6,1405.1 1489.3,1404.8 1490.9,1404.4 1492.6,1404.0 1494.2,1403.6 1495.9,1403.2 1497.5,1402.8 1499.2,1402.4 1500.9,1401.9 1502.5,1401.4 1504.2,1401.0 1505.8,1400.5 1507.5,1400.0 1509.1,1399.5 1510.8,1398.9 1512.4,1398.4 1514.1,1397.8 1515.8,1397.2 1517.4,1396.6 1519.1,1396.0 1520.7,1395.4 1522.4,1394.8 1524.0,1394.1 1525.7,1393.5 1527.4,1392.8 1529.0,1392.1 1530.7,1391.4 1532.3,1390.7 1534.0,1389.9 1535.6,1389.2 1537.3,1388.4 1539.0,1387.6 1540.6,1386.9 1542.3,1386.1 1543.9,1385.2 1545.6,1384.4 1547.2,1383.6 1548.9,1382.7 1550.6,1381.8 1552.2,1381.0 1553.9,1380.1 1555.5,1379.2 1557.2,1378.3 1558.8,1377.3 1560.5,1376.4 1562.1,1375.5 1563.8,1374.5 1565.5,1373.6 1567.1,1372.6 1568.8,1371.7 1570.4,1370.7 1572.1,1369.7 1573.7,1368.7 1575.4,1367.7 1577.1,1366.7 1578.7,1365.8 1580.4,1364.8 1582.0,1363.8 1583.7,1362.8 1585.3,1361.8 1587.0,1360.8 1588.7,1359.8 1590.3,1358.8 1592.0,1357.8 1593.6,1356.9 1595.3,1355.9 1596.9,1354.9 1598.6,1354.0 1600.2,1353.0 1601.9,1352.1 1603.6,1351.2 1605.2,1350.2 1606.9,1349.3 1608.5,1348.4 1610.2,1347.6 1611.8,1346.7 1613.5,1345.9 1615.2,1345.0 1616.8,1344.2 1618.5,1343.4 1620.1,1342.7 1621.8,1341.9 1623.4,1341.2 1625.1,1340.5 1626.8,1339.8 1628.4,1339.1 1630.1,1338.5 1631.7,1337.8 1633.4,1337.2 1635.0,1336.7 1636.7,1336.1 1638.4,1335.6 1640.0,1335.1 1641.7,1334.7 1643.3,1334.3 1645.0,1333.9 1646.6,1333.5 1648.3,1333.2 1649.9,1332.9 1651.6,1332.6 1653.3,1332.3 1654.9,1332.1 1656.6,1331.9 1658.2,1331.8 1659.9,1331.7 1661.5,1331.6 1663.2,1331.6 1664.9,1331.5 1666.5,1331.6 1668.2,1331.6 1669.8,1331.7 1671.5,1331.8 1673.1,1331.9 1674.8,1332.1 1676.5,1332.3 1678.1,1332.6 1679.8,1332.9 1681.4,1333.2 1683.1,1333.5 1684.7,1333.9 1686.4,1334.3 1688.0,1334.7 1689.7,1335.1 1691.4,1335.6 1693.0,1336.1 1694.7,1336.7 1696.3,1337.2 1698.0,1337.8 1699.6,1338.5 1701.3,1339.1 1703.0,1339.8 1704.6,1340.5 1706.3,1341.2 1707.9,1341.9 1709.6,1342.7 1711.2,1343.4 1712.9,1344.2 1714.6,1345.0 1716.2,1345.9 1717.9,1346.7 1719.5,1347.6 1721.2,1348.4 1722.8,1349.3 1724.5,1350.2 1726.2,1351.2 1727.8,1352.1 1729.5,1353.0 1731.1,1354.0 1732.8,1354.9 1734.4,1355.9 1736.1,1356.9 1737.7,1357.8 1739.4,1358.8 1741.1,1359.8 1742.7,1360.8 1744.4,1361.8 1746.0,1362.8 1747.7,1363.8 1749.3,1364.8 1751.0,1365.8 1752.7,1366.7 1754.3,1367.7 1756.0,1368.7 1757.6,1369.7 1759.3,1370.7 1760.9,1371.7 1762.6,1372.6 1764.3,1373.6 1765.9,1374.5 1767.6,1375.5 1769.2,1376.4 1770.9,1377.3 1772.5,1378.3 1774.2,1379.2 1775.8,1380.1 1777.5,1381.0 1779.2,1381.8 1780.8,1382.7 1782.5,1383.6 1784.1,1384.4 1785.8,1385.2 1787.4,1386.1 1789.1,1386.9 1790.8,1387.6 1792.4,1388.4 1794.1,1389.2 1795.7,1389.9 1797.4,1390.7 1799.0,1391.4 1800.7,1392.1 1802.4,1392.8 1804.0,1393.5 1805.7,1394.1 1807.3,1394.8 1809.0,1395.4 1810.6,1396.0 1812.3,1396.6 1813.9,1397.2 1815.6,1397.8 1817.3,1398.4 1818.9,1398.9 1820.6,1399.5 1822.2,1400.0 1823.9,1400.5 1825.5,1401.0 1827.2,1401.4 1828.9,1401.9 1830.5,1402.4 1832.2,1402.8 1833.8,1403.2 1835.5,1403.6 1837.1,1404.0 1838.8,1404.4 1840.5,1404.8 1842.1,1405.1 1843.8,1405.5 1845.4,1405.8 1847.1,1406.2 1848.7,1406.5 1850.4,1406.8 1852.1,1407.1 1853.7,1407.4 1855.4,1407.6 1857.0,1407.9 1858.7,1408.1 1860.3,1408.4 1862.0,1408.6 1863.6,1408.8 1865.3,1409.1 1867.0,1409.3 1868.6,1409.5 1870.3,1409.7 1871.9,1409.8 1873.6,1410.0 1875.2,1410.2 1876.9,1410.4 1878.6,1410.5 1880.2,1410.7 1881.9,1410.8 1883.5,1410.9 1885.2,1411.1 1886.8,1411.2 1888.5,1411.3 1890.2,1411.4 1891.8,1411.5 1893.5,1411.6 1895.1,1411.7 1896.8,1411.8 1898.4,1411.9 1900.1,1412.0 1901.7,1412.1 1903.4,1412.2 1905.1,1412.2 1906.7,1412.3 1908.4,1412.4 1910.0,1412.4 1911.7,1412.5 1913.3,1412.5 1915.0,1412.6 1916.7,1412.6 1918.3,1412.7 1920.0,1412.7 1921.6,1412.8 1923.3,1412.8 1924.9,1412.9 1926.6,1412.9 1928.3,1412.9 1929.9,1413.0 1931.6,1413.0 1933.2,1413.0 1934.9,1413.0 1936.5,1413.1 1938.2,1413.1 1939.9,1413.1 1941.5,1413.1 1943.2,1413.2 1944.8,1413.2 1946.5,1413.2 1948.1,1413.2 1949.8,1413.2 1951.4,1413.2 1953.1,1413.3 1954.8,1413.3 1956.4,1413.3 1958.1,1413.3 1959.7,1413.3 1961.4,1413.3 1963.0,1413.3 1964.7,1413.3 1966.4,1413.3 1968.0,1413.3 1969.7,1413.4 1971.3,1413.4 1973.0,1413.4 1974.6,1413.4 1976.3,1413.4 1978.0,1413.4 1979.6,1413.4 1981.3,1413.4 1982.9,1413.4 1984.6,1413.4 1986.2,1413.4 1987.9,1413.4 1989.5,1413.4 1991.2,1413.4 1992.9,1413.4 1994.5,1413.4 1996.2,1413.4 1997.8,1413.4 1999.5,1413.4 2001.1,1413.4 2002.8,1413.4 2004.5,1413.4 2006.1,1413.4 2007.8,1413.4 2009.4,1413.4 2011.1,1413.4 2012.7,1413.4 2014.4,1413.4 2016.1,1413.4 2017.7,1413.4 2019.4,1413.4 2021.0,1413.4 2022.7,1413.4 2024.3,1413.4 2026.0,1413.4 2027.7,1413.4 2029.3,1413.4 2031.0,1413.4 2032.6,1413.4 2034.3,1413.4 2035.9,1413.4 2037.6,1413.4 2039.2,1413.4 2040.9,1413.4 2042.6,1413.4 2044.2,1413.4 2045.9,1413.4 2047.5,1413.4 2049.2,1413.4 2050.8,1413.4 2052.5,1413.4 2054.2,1413.4 2055.8,1413.4 2057.5,1413.4 2059.1,1413.4 2060.8,1413.4 2062.4,1413.4 2064.1,1413.4 2065.8,1413.4 2067.4,1413.4 2069.1,1413.4 2070.7,1413.4 2072.4,1413.4 2074.0,1413.4"/>
<polyline fill="none" stroke="#800080" stroke-width="3.8" stroke-linejoin="round" stroke-linecap="round"  points="1394.8,1413.4 1396.5,1413.4 1398.1,1413.4 1399.8,1413.4 1401.5,1413.4 1403.1,1413.4 1404.8,1413.4 1406.4,1413.4 1408.1,1413.4 1409.7,1413.4 1411.4,1413.4 1413.1,1413.4 1414.7,1413.4 1416.4,1413.4 1418.0,1413.4 1419.7,1413.4 1421.3,1413.4 1423.0,1413.4 1424.6,1413.4 1426.3,1413.4 1428.0,1413.4 1429.6,1413.4 1431.3,1413.4 1432.9,1413.4 1434.6,1413.4 1436.2,1413.4 1437.9,1413.4 1439.6,1413.4 1441.2,1413.4 1442.9,1413.4 1444.5,1413.4 1446.2,1413.4 1447.8,1413.4 1449.5,1413.4 1451.2,1413.4 1452.8,1413.4 1454.5,1413.4 1456.1,1413.4 1457.8,1413.4 1459.4,1413.4 1461.1,1413.4 1462.8,1413.4 1464.4,1413.4 1466.1,1413.4 1467.7,1413.4 1469.4,1413.4 1471.0,1413.4 1472.7,1413.4 1474.3,1413.4 1476.0,1413.4 1477.7,1413.4 1479.3,1413.4 1481.0,1413.4 1482.6,1413.4 1484.3,1413.4 1485.9,1413.4 1487.6,1413.4 1489.3,1413.4 1490.9,1413.4 1492.6,1413.4 1494.2,1413.4 1495.9,1413.4 1497.5,1413.4 1499.2,1413.4 1500.9,1413.4 1502.5,1413.4 1504.2,1413.4 1505.8,1413.4 1507.5,1413.4 1509.1,1413.4 1510.8,1413.4 1512.4,1413.4 1514.1,1413.4 1515.8,1413.4 1517.4,1413.4 1519.1,1413.4 1520.7,1413.4 1522.4,1413.4 1524.0,1413.4 1525.7,1413.4 1527.4,1413.4 1529.0,1413.4 1530.7,1413.4 1532.3,1413.4 1534.0,1413.4 1535.6,1413.4 1537.3,1413.4 1539.0,1413.4 1540.6,1413.4 1542.3,1413.4 1543.9,1413.4 1545.6,1413.4 1547.2,1413.4 1548.9,1413.4 1550.6,1413.4 1552.2,1413.4 1553.9,1413.4 1555.5,1413.4 1557.2,1413.4 1558.8,1413.4 1560.5,1413.4 1562.1,1413.4 1563.8,1413.4 1565.5,1413.4 1567.1,1413.4 1568.8,1413.4 1570.4,1413.4 1572.1,1413.4 1573.7,1413.4 1575.4,1413.4 1577.1,1413.4 1578.7,1413.4 1580.4,1413.4 1582.0,1413.4 1583.7,1413.4 1585.3,1413.4 1587.0,1413.4 1588.7,1413.4 1590.3,1413.4 1592.0,1413.4 1593.6,1413.4 1595.3,1413.4 1596.9,1413.4 1598.6,1413.4 1600.2,1413.4 1601.9,1413.4 1603.6,1413.4 1605.2,1413.4 1606.9,1413.4 1608.5,1413.4 1610.2,1413.4 1611.8,1413.4 1613.5,1413.4 1615.2,1413.4 1616.8,1413.4 1618.5,1413.4 1620.1,1413.4 1621.8,1413.4 1623.4,1413.4 1625.1,1413.4 1626.8,1413.4 1628.4,1413.4 1630.1,1413.4 1631.7,1413.4 1633.4,1413.4 1635.0,1413.4 1636.7,1413.4 1638.4,1413.4 1640.0,1413.4 1641.7,1413.4 1643.3,1413.4 1645.0,1413.4 1646.6,1413.4 1648.3,1413.4 1649.9,1413.4 1651.6,1413.4 1653.3,1413.4 1654.9,1413.4 1656.6,1413.4 1658.2,1413.4 1659.9,1413.4 1661.5,1413.4 1663.2,1413.4 1664.9,1413.4 1666.5,1413.4 1668.2,1413.4 1669.8,1413.4 1671.5,1413.4 1673.1,1413.4 1674.8,1413.4 1676.5,1413.4 1678.1,1413.4 1679.8,1413.4 1681.4,1413.4 1683.1,1413.4 1684.7,1413.4 1686.4,1413.4 1688.0,1413.4 1689.7,1413.4 1691.4,1413.4 1693.0,1413.4 1694.7,1413.4 1696.3,1413.4 1698.0,1413.4 1699.6,1413.4 1701.3,1413.4 1703.0,1413.4 1704.6,1413.4 1706.3,1413.4 1707.9,1413.4 1709.6,1413.4 1711.2,1413.4 1712.9,1413.4 1714.6,1413.4 1716.2,1413.4 1717.9,1413.4 1719.5,1413.4 1721.2,1413.4 1722.8,1413.4 1724.5,1413.4 1726.2,1413.4 1727.8,1413.4 1729.5,1413.4 1731.1,1413.4 1732.8,1413.4 1734.4,1413.4 1736.1,1413.4 1737.7,1413.4 1739.4,1413.4 1741.1,1413.3 1742.7,1413.3 1744.4,1413.3 1746.0,1413.3 1747.7,1413.3 1749.3,1413.2 1751.0,1413.2 1752.7,1413.2 1754.3,1413.2 1756.0,1413.1 1757.6,1413.1 1759.3,1413.0 1760.9,1413.0 1762.6,1412.9 1764.3,1412.9 1765.9,1412.8 1767.6,1412.7 1769.2,1412.7 1770.9,1412.6 1772.5,1412.5 1774.2,1412.4 1775.8,1412.3 1777.5,1412.2 1779.2,1412.0 1780.8,1411.9 1782.5,1411.8 1784.1,1411.6 1785.8,1411.5 1787.4,1411.3 1789.1,1411.2 1790.8,1411.0 1792.4,1410.8 1794.1,1410.6 1795.7,1410.4 1797.4,1410.2 1799.0,1409.9 1800.7,1409.7 1802.4,1409.5 1804.0,1409.2 1805.7,1409.0 1807.3,1408.8 1809.0,1408.5 1810.6,1408.2 1812.3,1408.0 1813.9,1407.7 1815.6,1407.5 1817.3,1407.2 1818.9,1406.9 1820.6,1406.7 1822.2,1406.4 1823.9,1406.2 1825.5,1406.0 1827.2,1405.7 1828.9,1405.5 1830.5,1405.3 1832.2,1405.1 1833.8,1404.9 1835.5,1404.8 1837.1,1404.6 1838.8,1404.5 1840.5,1404.4 1842.1,1404.2 1843.8,1404.2 1845.4,1404.1 1847.1,1404.0 1848.7,1404.0 1850.4,1404.0 1852.1,1404.0 1853.7,1404.0 1855.4,1404.1 1857.0,1404.2 1858.7,1404.2 1860.3,1404.4 1862.0,1404.5 1863.6,1404.6 1865.3,1404.8 1867.0,1404.9 1868.6,1405.1 1870.3,1405.3 1871.9,1405.5 1873.6,1405.7 1875.2,1406.0 1876.9,1406.2 1878.6,1406.4 1880.2,1406.7 1881.9,1406.9 1883.5,1407.2 1885.2,1407.5 1886.8,1407.7 1888.5,1408.0 1890.2,1408.2 1891.8,1408.5 1893.5,1408.8 1895.1,1409.0 1896.8,1409.2 1898.4,1409.5 1900.1,1409.7 1901.7,1409.9 1903.4,1410.2 1905.1,1410.4 1906.7,1410.6 1908.4,1410.8 1910.0,1411.0 1911.7,1411.2 1913.3,1411.3 1915.0,1411.5 1916.7,1411.6 1918.3,1411.8 1920.0,1411.9 1921.6,1412.0 1923.3,1412.2 1924.9,1412.3 1926.6,1412.4 1928.3,1412.5 1929.9,1412.6 1931.6,1412.7 1933.2,1412.7 1934.9,1412.8 1936.5,1412.9 1938.2,1412.9 1939.9,1413.0 1941.5,1413.0 1943.2,1413.1 1944.8,1413.1 1946.5,1413.2 1948.1,1413.2 1949.8,1413.2 1951.4,1413.2 1953.1,1413.3 1954.8,1413.3 1956.4,1413.3 1958.1,1413.3 1959.7,1413.3 1961.4,1413.4 1963.0,1413.4 1964.7,1413.4 1966.4,1413.4 1968.0,1413.4 1969.7,1413.4 1971.3,1413.4 1973.0,1413.4 1974.6,1413.4 1976.3,1413.4 1978.0,1413.4 1979.6,1413.4 1981.3,1413.4 1982.9,1413.4 1984.6,1413.4 1986.2,1413.4 1987.9,1413.4 1989.5,1413.4 1991.2,1413.4 1992.9,1413.4 1994.5,1413.4 1996.2,1413.4 1997.8,1413.4 1999.5,1413.4 2001.1,1413.4 2002.8,1413.4 2004.5,1413.4 2006.1,1413.4 2007.8,1413.4 2009.4,1413.4 2011.1,1413.4 2012.7,1413.4 2014.4,1413.4 2016.1,1413.4 2017.7,1413.4 2019.4,1413.4 2021.0,1413.4 2022.7,1413.4 2024.3,1413.4 2026.0,1413.4 2027.7,1413.4 2029.3,1413.4 2031.0,1413.4 2032.6,1413.4 2034.3,1413.4 2035.9,1413.4 2037.6,1413.4 2039.2,1413.4 2040.9,1413.4 2042.6,1413.4 2044.2,1413.4 2045.9,1413.4 2047.5,1413.4 2049.2,1413.4 2050.8,1413.4 2052.5,1413.4 2054.2,1413.4 2055.8,1413.4 2057.5,1413.4 2059.1,1413.4 2060.8,1413.4 2062.4,1413.4 2064.1,1413.4 2065.8,1413.4 2067.4,1413.4 2069.1,1413.4 2070.7,1413.4 2072.4,1413.4 2074.0,1413.4"/>
<polyline fill="none" stroke="#990011" stroke-width="3.8" stroke-linejoin="round" stroke-linecap="round"  points="1394.8,1413.4 1396.5,1413.4 1398.1,1413.4 1399.8,1413.4 1401.5,1413.4 1403.1,1413.4 1404.8,1413.4 1406.4,1413.4 1408.1,1413.4 1409.7,1413.4 1411.4,1413.4 1413.1,1413.4 1414.7,1413.4 1416.4,1413.4 1418.0,1413.4 1419.7,1413.4 1421.3,1413.4 1423.0,1413.4 1424.6,1413.4 1426.3,1413.4 1428.0,1413.4 1429.6,1413.4 1431.3,1413.4 1432.9,1413.4 1434.6,1413.4 1436.2,1413.4 1437.9,1413.4 1439.6,1413.4 1441.2,1413.4 1442.9,1413.4 1444.5,1413.4 1446.2,1413.4 1447.8,1413.4 1449.5,1413.4 1451.2,1413.4 1452.8,1413.4 1454.5,1413.4 1456.1,1413.4 1457.8,1413.4 1459.4,1413.4 1461.1,1413.4 1462.8,1413.4 1464.4,1413.4 1466.1,1413.4 1467.7,1413.4 1469.4,1413.4 1471.0,1413.4 1472.7,1413.4 1474.3,1413.4 1476.0,1413.4 1477.7,1413.4 1479.3,1413.4 1481.0,1413.4 1482.6,1413.4 1484.3,1413.4 1485.9,1413.4 1487.6,1413.4 1489.3,1413.4 1490.9,1413.4 1492.6,1413.4 1494.2,1413.4 1495.9,1413.4 1497.5,1413.4 1499.2,1413.4 1500.9,1413.4 1502.5,1413.4 1504.2,1413.4 1505.8,1413.4 1507.5,1413.4 1509.1,1413.4 1510.8,1413.4 1512.4,1413.4 1514.1,1413.4 1515.8,1413.4 1517.4,1413.4 1519.1,1413.4 1520.7,1413.4 1522.4,1413.4 1524.0,1413.4 1525.7,1413.4 1527.4,1413.4 1529.0,1413.4 1530.7,1413.4 1532.3,1413.4 1534.0,1413.4 1535.6,1413.4 1537.3,1413.4 1539.0,1413.4 1540.6,1413.4 1542.3,1413.4 1543.9,1413.4 1545.6,1413.4 1547.2,1413.4 1548.9,1413.4 1550.6,1413.4 1552.2,1413.4 1553.9,1413.4 1555.5,1413.4 1557.2,1413.4 1558.8,1413.4 1560.5,1413.4 1562.1,1413.4 1563.8,1413.4 1565.5,1413.4 1567.1,1413.4 1568.8,1413.4 1570.4,1413.4 1572.1,1413.4 1573.7,1413.4 1575.4,1413.4 1577.1,1413.4 1578.7,1413.4 1580.4,1413.4 1582.0,1413.4 1583.7,1413.4 1585.3,1413.4 1587.0,1413.4 1588.7,1413.4 1590.3,1413.4 1592.0,1413.4 1593.6,1413.4 1595.3,1413.4 1596.9,1413.4 1598.6,1413.4 1600.2,1413.4 1601.9,1413.4 1603.6,1413.4 1605.2,1413.4 1606.9,1413.4 1608.5,1413.4 1610.2,1413.4 1611.8,1413.4 1613.5,1413.4 1615.2,1413.4 1616.8,1413.4 1618.5,1413.4 1620.1,1413.4 1621.8,1413.4 1623.4,1413.4 1625.1,1413.4 1626.8,1413.4 1628.4,1413.4 1630.1,1413.4 1631.7,1413.4 1633.4,1413.4 1635.0,1413.4 1636.7,1413.4 1638.4,1413.4 1640.0,1413.4 1641.7,1413.4 1643.3,1413.4 1645.0,1413.4 1646.6,1413.4 1648.3,1413.4 1649.9,1413.4 1651.6,1413.4 1653.3,1413.4 1654.9,1413.4 1656.6,1413.4 1658.2,1413.4 1659.9,1413.4 1661.5,1413.4 1663.2,1413.4 1664.9,1413.4 1666.5,1413.4 1668.2,1413.4 1669.8,1413.4 1671.5,1413.4 1673.1,1413.4 1674.8,1413.4 1676.5,1413.4 1678.1,1413.4 1679.8,1413.4 1681.4,1413.4 1683.1,1413.4 1684.7,1413.4 1686.4,1413.4 1688.0,1413.4 1689.7,1413.4 1691.4,1413.4 1693.0,1413.4 1694.7,1413.4 1696.3,1413.4 1698.0,1413.4 1699.6,1413.4 1701.3,1413.4 1703.0,1413.4 1704.6,1413.4 1706.3,1413.4 1707.9,1413.4 1709.6,1413.4 1711.2,1413.4 1712.9,1413.4 1714.6,1413.4 1716.2,1413.4 1717.9,1413.4 1719.5,1413.4 1721.2,1413.4 1722.8,1413.4 1724.5,1413.4 1726.2,1413.4 1727.8,1413.4 1729.5,1413.4 1731.1,1413.4 1732.8,1413.4 1734.4,1413.4 1736.1,1413.4 1737.7,1413.4 1739.4,1413.4 1741.1,1413.4 1742.7,1413.4 1744.4,1413.4 1746.0,1413.4 1747.7,1413.4 1749.3,1413.4 1751.0,1413.4 1752.7,1413.4 1754.3,1413.4 1756.0,1413.4 1757.6,1413.4 1759.3,1413.4 1760.9,1413.4 1762.6,1413.4 1764.3,1413.4 1765.9,1413.4 1767.6,1413.4 1769.2,1413.4 1770.9,1413.4 1772.5,1413.4 1774.2,1413.4 1775.8,1413.4 1777.5,1413.4 1779.2,1413.4 1780.8,1413.4 1782.5,1413.4 1784.1,1413.4 1785.8,1413.4 1787.4,1413.4 1789.1,1413.4 1790.8,1413.4 1792.4,1413.4 1794.1,1413.4 1795.7,1413.4 1797.4,1413.4 1799.0,1413.4 1800.7,1413.4 1802.4,1413.4 1804.0,1413.4 1805.7,1413.4 1807.3,1413.4 1809.0,1413.4 1810.6,1413.4 1812.3,1413.4 1813.9,1413.4 1815.6,1413.4 1817.3,1413.4 1818.9,1413.4 1820.6,1413.4 1822.2,1413.4 1823.9,1413.4 1825.5,1413.4 1827.2,1413.4 1828.9,1413.4 1830.5,1413.4 1832.2,1413.4 1833.8,1413.4 1835.5,1413.4 1837.1,1413.4 1838.8,1413.4 1840.5,1413.4 1842.1,1413.4 1843.8,1413.4 1845.4,1413.4 1847.1,1413.4 1848.7,1413.4 1850.4,1413.4 1852.1,1413.4 1853.7,1413.4 1855.4,1413.4 1857.0,1413.4 1858.7,1413.4 1860.3,1413.4 1862.0,1413.4 1863.6,1413.4 1865.3,1413.4 1867.0,1413.4 1868.6,1413.4 1870.3,1413.4 1871.9,1413.4 1873.6,1413.4 1875.2,1413.4 1876.9,1413.4 1878.6,1413.4 1880.2,1413.4 1881.9,1413.4 1883.5,1413.4 1885.2,1413.4 1886.8,1413.4 1888.5,1413.4 1890.2,1413.4 1891.8,1413.4 1893.5,1413.4 1895.1,1413.4 1896.8,1413.4 1898.4,1413.4 1900.1,1413.4 1901.7,1413.4 1903.4,1413.4 1905.1,1413.4 1906.7,1413.4 1908.4,1413.4 1910.0,1413.4 1911.7,1413.4 1913.3,1413.4 1915.0,1413.4 1916.7,1413.4 1918.3,1413.4 1920.0,1413.4 1921.6,1413.4 1923.3,1413.4 1924.9,1413.4 1926.6,1413.4 1928.3,1413.4 1929.9,1413.4 1931.6,1413.4 1933.2,1413.4 1934.9,1413.4 1936.5,1413.4 1938.2,1413.4 1939.9,1413.4 1941.5,1413.4 1943.2,1413.4 1944.8,1413.3 1946.5,1413.3 1948.1,1413.3 1949.8,1413.2 1951.4,1413.2 1953.1,1413.1 1954.8,1413.1 1956.4,1413.0 1958.1,1412.9 1959.7,1412.8 1961.4,1412.7 1963.0,1412.6 1964.7,1412.4 1966.4,1412.2 1968.0,1412.0 1969.7,1411.8 1971.3,1411.5 1973.0,1411.3 1974.6,1410.9 1976.3,1410.6 1978.0,1410.2 1979.6,1409.8 1981.3,1409.3 1982.9,1408.8 1984.6,1408.3 1986.2,1407.7 1987.9,1407.1 1989.5,1406.5 1991.2,1405.8 1992.9,1405.1 1994.5,1404.4 1996.2,1403.7 1997.8,1403.0 1999.5,1402.2 2001.1,1401.5 2002.8,1400.7 2004.5,1400.0 2006.1,1399.3 2007.8,1398.6 2009.4,1398.0 2011.1,1397.4 2012.7,1396.8 2014.4,1396.3 2016.1,1395.9 2017.7,1395.6 2019.4,1395.3 2021.0,1395.1 2022.7,1394.9 2024.3,1394.9 2026.0,1394.9 2027.7,1395.1 2029.3,1395.3 2031.0,1395.6 2032.6,1395.9 2034.3,1396.3 2035.9,1396.8 2037.6,1397.4 2039.2,1398.0 2040.9,1398.6 2042.6,1399.3 2044.2,1400.0 2045.9,1400.7 2047.5,1401.5 2049.2,1402.2 2050.8,1403.0 2052.5,1403.7 2054.2,1404.4 2055.8,1405.1 2057.5,1405.8 2059.1,1406.5 2060.8,1407.1 2062.4,1407.7 2064.1,1408.3 2065.8,1408.8 2067.4,1409.3 2069.1,1409.8 2070.7,1410.2 2072.4,1410.6 2074.0,1410.9"/>
<polyline fill="none" stroke="#800080" stroke-width="3.8" stroke-linejoin="round" stroke-linecap="round"  points="1958.1,1413.3 1964.7,1413.4 1971.3,1413.4 1978.0,1413.4 1984.6,1413.4 1991.2,1413.4 1997.8,1413.4 2004.5,1413.4 2011.1,1413.4 2017.7,1413.4 2024.3,1413.4 2031.0,1413.4 2037.6,1413.4 2044.2,1413.4 2050.8,1413.4 2057.5,1413.4 2064.1,1413.4 2070.7,1413.4 2077.3,1413.4"/>
<polyline fill="none" stroke="#000" stroke-width="4.2" stroke-linejoin="round" stroke-linecap="round"  points="1394.8,1285.3 1395.7,1272.1 1396.5,1257.4 1397.3,1241.7 1398.1,1226.2 1399.0,1211.6 1399.8,1197.4 1400.6,1183.5 1401.5,1170.3 1402.3,1157.7 1403.1,1145.5 1403.9,1133.2 1404.8,1121.8 1405.6,1111.5 1406.4,1102.1 1407.3,1093.2 1408.1,1084.2 1408.9,1075.7 1409.7,1067.7 1410.6,1059.9 1411.4,1052.8 1412.2,1046.5 1413.1,1040.1 1413.9,1033.8 1414.7,1027.6 1415.5,1021.5 1416.4,1015.8 1417.2,1010.2 1418.0,1004.7 1418.9,999.3 1419.7,994.2 1420.5,989.7 1421.3,985.4 1422.2,981.3 1423.0,977.4 1423.8,973.9 1424.6,969.9 1425.5,965.7 1426.3,962.1 1427.1,959.2 1428.0,957.3 1428.8,955.9 1429.6,954.6 1430.4,953.4 1431.3,952.5 1432.1,951.8 1432.9,950.8 1433.8,950.3 1434.6,950.2 1435.4,950.4 1436.2,950.4 1437.1,950.6 1437.9,951.1 1438.7,951.8 1439.6,952.5 1440.4,953.1 1441.2,954.1 1442.0,955.5 1442.9,956.7 1443.7,957.2 1444.5,956.9 1445.4,957.2 1446.2,958.0 1447.0,958.7 1447.8,959.3 1448.7,959.6 1449.5,960.3 1450.3,960.8 1451.2,961.3 1452.0,961.7 1452.8,961.8 1453.6,962.0 1454.5,962.3 1455.3,962.5 1456.1,962.5 1457.0,962.5 1457.8,962.8 1458.6,962.6 1459.4,962.2 1460.3,962.0 1461.1,962.3 1461.9,962.1 1462.8,961.6 1463.6,961.4 1464.4,961.5 1465.2,961.4 1466.1,960.8 1466.9,960.5 1467.7,960.5 1468.5,960.7 1469.4,960.8 1470.2,960.5 1471.0,960.5 1471.9,961.0 1472.7,961.8 1473.5,963.0 1474.3,964.7 1475.2,966.1 1476.0,967.3 1476.8,968.3 1477.7,969.5 1478.5,971.4 1479.3,973.4 1480.1,975.1 1481.0,976.6 1481.8,978.0 1482.6,979.3 1483.5,980.5 1484.3,981.9 1485.1,983.6 1485.9,985.9 1486.8,987.5 1487.6,988.7 1488.4,990.0 1489.3,991.5 1490.1,993.3 1490.9,995.5 1491.7,997.7 1492.6,999.6 1493.4,1001.1 1494.2,1002.7 1495.1,1004.9 1495.9,1007.0 1496.7,1009.0 1497.5,1010.9 1498.4,1012.8 1499.2,1014.5 1500.0,1016.3 1500.9,1018.4 1501.7,1020.8 1502.5,1022.7 1503.3,1023.5 1504.2,1024.7 1505.0,1026.3 1505.8,1028.3 1506.7,1030.3 1507.5,1031.8 1508.3,1033.6 1509.1,1035.7 1510.0,1037.7 1510.8,1039.2 1511.6,1040.6 1512.4,1042.4 1513.3,1044.3 1514.1,1046.3 1514.9,1048.1 1515.8,1049.8 1516.6,1051.5 1517.4,1053.0 1518.2,1054.3 1519.1,1055.4 1519.9,1056.5 1520.7,1057.7 1521.6,1059.0 1522.4,1060.2 1523.2,1061.0 1524.0,1061.8 1524.9,1062.8 1525.7,1063.8 1526.5,1064.9 1527.4,1066.2 1528.2,1067.9 1529.0,1069.4 1529.8,1070.6 1530.7,1071.5 1531.5,1072.7 1532.3,1073.7 1533.2,1074.4 1534.0,1075.2 1534.8,1076.2 1535.6,1077.1 1536.5,1077.7 1537.3,1078.8 1538.1,1080.1 1539.0,1081.5 1539.8,1082.3 1540.6,1082.9 1541.4,1083.6 1542.3,1084.6 1543.1,1085.6 1543.9,1086.9 1544.8,1088.0 1545.6,1088.7 1546.4,1089.3 1547.2,1090.1 1548.1,1091.2 1548.9,1091.7 1549.7,1092.1 1550.6,1092.8 1551.4,1093.9 1552.2,1095.2 1553.0,1096.7 1553.9,1097.4 1554.7,1098.1 1555.5,1099.1 1556.3,1100.7 1557.2,1101.8 1558.0,1102.6 1558.8,1103.4 1559.7,1104.1 1560.5,1105.0 1561.3,1105.8 1562.1,1106.7 1563.0,1108.0 1563.8,1109.4 1564.6,1110.6 1565.5,1111.3 1566.3,1112.1 1567.1,1112.6 1567.9,1112.8 1568.8,1112.6 1569.6,1113.3 1570.4,1114.4 1571.3,1115.4 1572.1,1116.1 1572.9,1116.6 1573.7,1117.2 1574.6,1117.4 1575.4,1117.2 1576.2,1116.9 1577.1,1116.5 1577.9,1116.2 1578.7,1115.6 1579.5,1114.8 1580.4,1113.7 1581.2,1112.5 1582.0,1110.9 1582.9,1109.0 1583.7,1106.9 1584.5,1104.8 1585.3,1102.7 1586.2,1100.6 1587.0,1099.0 1587.8,1098.4 1588.7,1098.7 1589.5,1099.8 1590.3,1101.5 1591.1,1103.4 1592.0,1105.3 1592.8,1107.9 1593.6,1111.5 1594.5,1115.4 1595.3,1119.2 1596.1,1123.0 1596.9,1127.2 1597.8,1131.9 1598.6,1136.7 1599.4,1141.8 1600.2,1147.0 1601.1,1152.0 1601.9,1156.4 1602.7,1160.7 1603.6,1165.0 1604.4,1168.9 1605.2,1172.5 1606.0,1175.7 1606.9,1178.6 1607.7,1181.7 1608.5,1184.9 1609.4,1187.8 1610.2,1190.0 1611.0,1192.4 1611.8,1194.9 1612.7,1197.4 1613.5,1199.5 1614.3,1201.3 1615.2,1202.6 1616.0,1203.9 1616.8,1205.4 1617.6,1206.9 1618.5,1208.5 1619.3,1210.2 1620.1,1211.9 1621.0,1213.6 1621.8,1215.5 1622.6,1217.3 1623.4,1218.9 1624.3,1220.7 1625.1,1222.3 1625.9,1223.7 1626.8,1225.0 1627.6,1227.2 1628.4,1229.2 1629.2,1230.9 1630.1,1232.1 1630.9,1233.4 1631.7,1235.5 1632.6,1237.5 1633.4,1239.0 1634.2,1240.4 1635.0,1242.1 1635.9,1243.5 1636.7,1244.8 1637.5,1246.3 1638.4,1247.8 1639.2,1249.4 1640.0,1251.2 1640.8,1253.1 1641.7,1255.0 1642.5,1256.7 1643.3,1257.9 1644.1,1259.2 1645.0,1260.7 1645.8,1262.4 1646.6,1263.9 1647.5,1264.8 1648.3,1266.1 1649.1,1268.0 1649.9,1269.8 1650.8,1271.0 1651.6,1271.8 1652.4,1273.0 1653.3,1274.7 1654.1,1276.4 1654.9,1277.8 1655.7,1278.8 1656.6,1279.5 1657.4,1280.4 1658.2,1281.7 1659.1,1283.1 1659.9,1284.3 1660.7,1285.4 1661.5,1286.4 1662.4,1287.5 1663.2,1288.6 1664.0,1289.7 1664.9,1290.1 1665.7,1290.6 1666.5,1291.4 1667.3,1292.5 1668.2,1293.6 1669.0,1294.7 1669.8,1295.4 1670.7,1295.9 1671.5,1296.5 1672.3,1297.5 1673.1,1298.5 1674.0,1299.4 1674.8,1300.0 1675.6,1300.6 1676.5,1301.4 1677.3,1302.8 1678.1,1303.8 1678.9,1304.2 1679.8,1304.2 1680.6,1304.6 1681.4,1305.7 1682.3,1306.6 1683.1,1307.3 1683.9,1308.1 1684.7,1309.1 1685.6,1310.0 1686.4,1310.5 1687.2,1310.9 1688.0,1311.4 1688.9,1312.1 1689.7,1312.7 1690.5,1312.8 1691.4,1313.0 1692.2,1313.5 1693.0,1314.4 1693.8,1315.0 1694.7,1315.5 1695.5,1315.8 1696.3,1316.3 1697.2,1317.0 1698.0,1318.1 1698.8,1319.0 1699.6,1319.6 1700.5,1320.1 1701.3,1320.2 1702.1,1320.7 1703.0,1321.3 1703.8,1321.8 1704.6,1322.2 1705.4,1322.4 1706.3,1322.7 1707.1,1323.1 1707.9,1323.5 1708.8,1323.7 1709.6,1324.2 1710.4,1324.9 1711.2,1325.3 1712.1,1325.5 1712.9,1325.7 1713.7,1326.1 1714.6,1326.9 1715.4,1327.5 1716.2,1327.9 1717.0,1328.1 1717.9,1328.5 1718.7,1329.2 1719.5,1329.5 1720.4,1329.8 1721.2,1330.2 1722.0,1331.2 1722.8,1332.1 1723.7,1332.6 1724.5,1332.7 1725.3,1332.7 1726.2,1332.8 1727.0,1333.0 1727.8,1333.6 1728.6,1334.5 1729.5,1335.6 1730.3,1336.4 1731.1,1336.8 1731.9,1337.0 1732.8,1337.0 1733.6,1336.9 1734.4,1336.8 1735.3,1337.5 1736.1,1338.2 1736.9,1338.8 1737.7,1339.3 1738.6,1339.9 1739.4,1340.3 1740.2,1340.7 1741.1,1341.4 1741.9,1342.2 1742.7,1342.5 1743.5,1342.4 1744.4,1342.8 1745.2,1343.3 1746.0,1343.7 1746.9,1343.8 1747.7,1344.4 1748.5,1345.2 1749.3,1345.8 1750.2,1346.1 1751.0,1346.2 1751.8,1346.7 1752.7,1347.1 1753.5,1347.3 1754.3,1347.3 1755.1,1347.4 1756.0,1348.2 1756.8,1348.9 1757.6,1349.7 1758.5,1350.3 1759.3,1350.5 1760.1,1350.7 1760.9,1351.0 1761.8,1351.2 1762.6,1351.2 1763.4,1351.6 1764.3,1352.4 1765.1,1352.8 1765.9,1353.1 1766.7,1353.4 1767.6,1353.7 1768.4,1354.2 1769.2,1354.8 1770.0,1355.3 1770.9,1355.5 1771.7,1355.7 1772.5,1356.2 1773.4,1356.9 1774.2,1357.2 1775.0,1357.3 1775.8,1357.3 1776.7,1358.0 1777.5,1358.9 1778.3,1359.7 1779.2,1360.3 1780.0,1360.6 1780.8,1360.8 1781.6,1360.9 1782.5,1361.1 1783.3,1361.5 1784.1,1362.2 1785.0,1362.8 1785.8,1363.1 1786.6,1363.3 1787.4,1363.7 1788.3,1364.2 1789.1,1364.2 1789.9,1364.6 1790.8,1365.1 1791.6,1365.7 1792.4,1365.9 1793.2,1366.5 1794.1,1367.0 1794.9,1367.1 1795.7,1367.1 1796.6,1367.4 1797.4,1367.8 1798.2,1368.1 1799.0,1368.6 1799.9,1369.2 1800.7,1369.9 1801.5,1370.5 1802.4,1370.7 1803.2,1370.7 1804.0,1370.4 1804.8,1370.5 1805.7,1370.9 1806.5,1371.3 1807.3,1371.8 1808.2,1372.5 1809.0,1373.0 1809.8,1373.0 1810.6,1373.1 1811.5,1373.5 1812.3,1374.2 1813.1,1374.6 1813.9,1374.6 1814.8,1374.7 1815.6,1375.0 1816.4,1375.5 1817.3,1376.0 1818.1,1376.1 1818.9,1376.2 1819.7,1376.3 1820.6,1376.5 1821.4,1376.9 1822.2,1377.2 1823.1,1377.9 1823.9,1378.6 1824.7,1379.1 1825.5,1379.5 1826.4,1379.5 1827.2,1379.2 1828.0,1379.2 1828.9,1379.6 1829.7,1380.5 1830.5,1381.0 1831.3,1381.0 1832.2,1380.8 1833.0,1380.7 1833.8,1380.7 1834.7,1381.2 1835.5,1381.8 1836.3,1382.5 1837.1,1383.2 1838.0,1383.5 1838.8,1383.7 1839.6,1383.8 1840.5,1383.9 1841.3,1384.3 1842.1,1384.9 1842.9,1385.0 1843.8,1385.1 1844.6,1385.4 1845.4,1385.6 1846.3,1385.4 1847.1,1385.1 1847.9,1385.4 1848.7,1386.0 1849.6,1386.7 1850.4,1387.1 1851.2,1387.2 1852.1,1387.3 1852.9,1387.3 1853.7,1387.4 1854.5,1388.0 1855.4,1388.6 1856.2,1388.8 1857.0,1389.0 1857.8,1389.3 1858.7,1389.5 1859.5,1390.0 1860.3,1390.5 1861.2,1390.7 1862.0,1390.7 1862.8,1390.7 1863.6,1391.2 1864.5,1391.6 1865.3,1392.0 1866.1,1392.5 1867.0,1392.9 1867.8,1393.2 1868.6,1393.5 1869.4,1393.7 1870.3,1393.7 1871.1,1393.6 1871.9,1394.0 1872.8,1394.1 1873.6,1394.0 1874.4,1394.0 1875.2,1394.5 1876.1,1395.3 1876.9,1395.5 1877.7,1395.8 1878.6,1396.3 1879.4,1397.1 1880.2,1397.4 1881.0,1397.7 1881.9,1398.0 1882.7,1398.1 1883.5,1397.8 1884.4,1397.7 1885.2,1398.0 1886.0,1398.2 1886.8,1398.4 1887.7,1398.9 1888.5,1399.4 1889.3,1399.5 1890.2,1399.5 1891.0,1399.5 1891.8,1399.6 1892.6,1399.9 1893.5,1400.4 1894.3,1400.9 1895.1,1401.2 1896.0,1401.1 1896.8,1401.0 1897.6,1401.3 1898.4,1401.8 1899.3,1402.3 1900.1,1402.6 1900.9,1403.1 1901.7,1403.9 1902.6,1404.5 1903.4,1404.9 1904.2,1405.1 1905.1,1405.2 1905.9,1405.2 1906.7,1405.1 1907.5,1404.9 1908.4,1404.8 1909.2,1405.2 1910.0,1405.5 1910.9,1405.7 1911.7,1406.0 1912.5,1406.3 1913.3,1406.4 1914.2,1406.4 1915.0,1406.6 1915.8,1407.1 1916.7,1407.3 1917.5,1406.9 1918.3,1407.0 1919.1,1407.4 1920.0,1407.9 1920.8,1408.2 1921.6,1408.2 1922.5,1408.3 1923.3,1408.7 1924.1,1409.3 1924.9,1409.8 1925.8,1409.6 1926.6,1409.4 1927.4,1409.4 1928.3,1409.8 1929.1,1410.1 1929.9,1410.4 1930.7,1410.7 1931.6,1410.9 1932.4,1411.0 1933.2,1411.1 1934.1,1411.4 1934.9,1411.8 1935.7,1412.0 1936.5,1412.1 1937.4,1412.0 1938.2,1411.9 1939.0,1412.3 1939.9,1412.6 1940.7,1412.6 1941.5,1412.3 1942.3,1412.1 1943.2,1412.1 1944.0,1412.4 1944.8,1412.7 1945.6,1412.8 1946.5,1412.9 1947.3,1412.8 1948.1,1412.6 1949.0,1412.4 1949.8,1412.8 1950.6,1413.1 1951.4,1413.0 1952.3,1412.9 1953.1,1412.7 1953.9,1412.5 1954.8,1412.6 1955.6,1412.9 1956.4,1412.9 1957.2,1412.6 1958.1,1412.1 1958.9,1411.8 1959.7,1411.5 1960.6,1411.3 1961.4,1411.0 1962.2,1410.9 1963.0,1411.2 1963.9,1411.5 1964.7,1411.4 1965.5,1410.9 1966.4,1410.2 1967.2,1410.1 1968.0,1410.4 1968.8,1410.5 1969.7,1410.3 1970.5,1409.4 1971.3,1408.8 1972.2,1409.0 1973.0,1409.5 1973.8,1410.0 1974.6,1410.0 1975.5,1409.7 1976.3,1409.5 1977.1,1409.3 1978.0,1409.1 1978.8,1408.6 1979.6,1407.6 1980.4,1407.0 1981.3,1406.7 1982.1,1406.5 1982.9,1406.0 1983.8,1405.6 1984.6,1405.2 1985.4,1404.6 1986.2,1404.1 1987.1,1404.1 1987.9,1404.5 1988.7,1404.4 1989.5,1403.7 1990.4,1402.8 1991.2,1402.3 1992.0,1402.6 1992.9,1402.3 1993.7,1401.7 1994.5,1401.2 1995.3,1401.2 1996.2,1401.0 1997.0,1400.5 1997.8,1399.8 1998.7,1399.1 1999.5,1398.8 2000.3,1398.9 2001.1,1398.5 2002.0,1397.9 2002.8,1397.4 2003.6,1397.1 2004.5,1396.8 2005.3,1396.6 2006.1,1396.5 2006.9,1396.5 2007.8,1396.5 2008.6,1396.1 2009.4,1395.5 2010.3,1395.1 2011.1,1395.0 2011.9,1395.2 2012.7,1394.8 2013.6,1394.1 2014.4,1393.5 2015.2,1393.1 2016.1,1393.0 2016.9,1393.0 2017.7,1393.0 2018.5,1393.0 2019.4,1392.8 2020.2,1392.6 2021.0,1392.7 2021.9,1392.4 2022.7,1392.0 2023.5,1391.6 2024.3,1391.8 2025.2,1392.4 2026.0,1392.5 2026.8,1392.1 2027.7,1391.7 2028.5,1391.5 2029.3,1391.5 2030.1,1391.7 2031.0,1392.0 2031.8,1392.3 2032.6,1392.3 2033.4,1392.7 2034.3,1393.3 2035.1,1394.0 2035.9,1394.5 2036.8,1394.9 2037.6,1394.7 2038.4,1394.6 2039.2,1394.9 2040.1,1395.5 2040.9,1396.0 2041.7,1396.6 2042.6,1396.9 2043.4,1397.0 2044.2,1397.1 2045.0,1397.7 2045.9,1398.3 2046.7,1398.5 2047.5,1398.4 2048.4,1398.3 2049.2,1398.7 2050.0,1399.5 2050.8,1399.7 2051.7,1399.5 2052.5,1399.5 2053.3,1400.0 2054.2,1400.4 2055.0,1400.5 2055.8,1400.6 2056.6,1400.7 2057.5,1400.9 2058.3,1401.2 2059.1,1401.8 2060.0,1402.6 2060.8,1403.3 2061.6,1403.9 2062.4,1403.9 2063.3,1403.8 2064.1,1404.1 2064.9,1404.7 2065.8,1405.0 2066.6,1404.7 2067.4,1404.8 2068.2,1405.1 2069.1,1405.6 2069.9,1406.1 2070.7,1406.6 2071.6,1406.7 2072.4,1406.6 2073.2,1406.6 2074.0,1406.7"/>
<polyline fill="none" stroke="#ff0000" stroke-width="4.6" stroke-linejoin="round" stroke-linecap="round"  points="1394.8,1265.8 1396.5,1242.0 1398.1,1218.3 1399.8,1194.1 1401.5,1169.2 1403.1,1144.6 1404.8,1121.6 1406.4,1101.5 1408.1,1084.1 1409.7,1068.2 1411.4,1053.6 1413.1,1040.1 1414.7,1027.7 1416.4,1016.0 1418.0,1005.1 1419.7,994.9 1421.3,985.6 1423.0,977.4 1424.6,969.7 1426.3,962.5 1428.0,957.0 1429.6,954.1 1431.3,952.1 1432.9,950.7 1434.6,950.0 1436.2,950.3 1437.9,951.2 1439.6,952.7 1441.2,954.3 1442.9,955.9 1444.5,957.2 1446.2,958.2 1447.8,959.1 1449.5,960.1 1451.2,960.9 1452.8,961.7 1454.5,962.3 1456.1,962.7 1457.8,963.0 1459.4,963.2 1461.1,963.3 1462.8,963.4 1464.4,963.5 1466.1,963.6 1467.7,963.8 1469.4,964.1 1471.0,964.7 1472.7,966.1 1474.3,968.0 1476.0,970.3 1477.7,972.6 1479.3,974.8 1481.0,977.3 1482.6,980.0 1484.3,982.8 1485.9,985.9 1487.6,989.0 1489.3,992.2 1490.9,995.5 1492.6,999.0 1494.2,1002.8 1495.9,1006.7 1497.5,1010.6 1499.2,1014.5 1500.9,1018.4 1502.5,1022.1 1504.2,1025.6 1505.8,1029.1 1507.5,1032.6 1509.1,1036.1 1510.8,1039.6 1512.4,1042.9 1514.1,1046.2 1515.8,1049.3 1517.4,1052.3 1519.1,1055.1 1520.7,1057.7 1522.4,1060.2 1524.0,1062.6 1525.7,1064.8 1527.4,1067.0 1529.0,1069.2 1530.7,1071.2 1532.3,1073.3 1534.0,1075.3 1535.6,1077.3 1537.3,1079.2 1539.0,1081.2 1540.6,1083.1 1542.3,1084.9 1543.9,1086.7 1545.6,1088.5 1547.2,1090.3 1548.9,1092.0 1550.6,1093.8 1552.2,1095.6 1553.9,1097.3 1555.5,1099.2 1557.2,1101.1 1558.8,1103.0 1560.5,1104.9 1562.1,1106.8 1563.8,1108.6 1565.5,1110.3 1567.1,1111.8 1568.8,1113.2 1570.4,1114.4 1572.1,1115.7 1573.7,1116.7 1575.4,1117.2 1577.1,1116.6 1578.7,1115.1 1580.4,1113.0 1582.0,1110.8 1583.7,1106.9 1585.3,1101.9 1587.0,1098.5 1588.7,1099.0 1590.3,1101.8 1592.0,1105.7 1593.6,1111.4 1595.3,1119.2 1596.9,1127.4 1598.6,1136.9 1600.2,1146.9 1601.9,1156.4 1603.6,1164.7 1605.2,1172.3 1606.9,1179.3 1608.5,1185.5 1610.2,1190.7 1611.8,1195.1 1613.5,1199.2 1615.2,1202.8 1616.8,1206.2 1618.5,1209.4 1620.1,1212.5 1621.8,1215.5 1623.4,1218.6 1625.1,1221.7 1626.8,1225.0 1628.4,1228.5 1630.1,1231.9 1631.7,1235.4 1633.4,1238.8 1635.0,1242.3 1636.7,1245.7 1638.4,1249.0 1640.0,1252.2 1641.7,1255.4 1643.3,1258.4 1645.0,1261.3 1646.6,1264.2 1648.3,1267.0 1649.9,1269.8 1651.6,1272.5 1653.3,1275.1 1654.9,1277.7 1656.6,1280.1 1658.2,1282.5 1659.9,1284.7 1661.5,1286.8 1663.2,1288.8 1664.9,1290.8 1666.5,1292.7 1668.2,1294.6 1669.8,1296.3 1671.5,1298.1 1673.1,1299.7 1674.8,1301.3 1676.5,1302.9 1678.1,1304.4 1679.8,1305.9 1681.4,1307.3 1683.1,1308.7 1684.7,1310.0 1686.4,1311.3 1688.0,1312.6 1689.7,1313.8 1691.4,1315.0 1693.0,1316.2 1694.7,1317.3 1696.3,1318.5 1698.0,1319.6 1699.6,1320.6 1701.3,1321.7 1703.0,1322.7 1704.6,1323.8 1706.3,1324.8 1707.9,1325.8 1709.6,1326.7 1711.2,1327.7 1712.9,1328.6 1714.6,1329.6 1716.2,1330.5 1717.9,1331.4 1719.5,1332.4 1721.2,1333.3 1722.8,1334.2 1724.5,1335.1 1726.2,1336.0 1727.8,1336.9 1729.5,1337.8 1731.1,1338.7 1732.8,1339.5 1734.4,1340.4 1736.1,1341.3 1737.7,1342.1 1739.4,1342.9 1741.1,1343.8 1742.7,1344.6 1744.4,1345.4 1746.0,1346.2 1747.7,1347.0 1749.3,1347.9 1751.0,1348.7 1752.7,1349.5 1754.3,1350.2 1756.0,1351.0 1757.6,1351.8 1759.3,1352.6 1760.9,1353.4 1762.6,1354.2 1764.3,1355.0 1765.9,1355.8 1767.6,1356.5 1769.2,1357.3 1770.9,1358.1 1772.5,1358.9 1774.2,1359.7 1775.8,1360.4 1777.5,1361.2 1779.2,1361.9 1780.8,1362.7 1782.5,1363.4 1784.1,1364.1 1785.8,1364.8 1787.4,1365.5 1789.1,1366.2 1790.8,1366.9 1792.4,1367.6 1794.1,1368.2 1795.7,1368.9 1797.4,1369.5 1799.0,1370.1 1800.7,1370.7 1802.4,1371.3 1804.0,1371.9 1805.7,1372.5 1807.3,1373.1 1809.0,1373.7 1810.6,1374.2 1812.3,1374.8 1813.9,1375.3 1815.6,1375.9 1817.3,1376.5 1818.9,1377.0 1820.6,1377.6 1822.2,1378.1 1823.9,1378.7 1825.5,1379.2 1827.2,1379.8 1828.9,1380.3 1830.5,1380.9 1832.2,1381.5 1833.8,1382.0 1835.5,1382.6 1837.1,1383.1 1838.8,1383.7 1840.5,1384.2 1842.1,1384.7 1843.8,1385.3 1845.4,1385.8 1847.1,1386.3 1848.7,1386.9 1850.4,1387.4 1852.1,1387.9 1853.7,1388.4 1855.4,1389.0 1857.0,1389.5 1858.7,1390.0 1860.3,1390.5 1862.0,1391.0 1863.6,1391.5 1865.3,1392.0 1867.0,1392.6 1868.6,1393.1 1870.3,1393.6 1871.9,1394.2 1873.6,1394.7 1875.2,1395.2 1876.9,1395.7 1878.6,1396.3 1880.2,1396.8 1881.9,1397.3 1883.5,1397.9 1885.2,1398.4 1886.8,1398.9 1888.5,1399.4 1890.2,1399.9 1891.8,1400.4 1893.5,1400.9 1895.1,1401.4 1896.8,1401.9 1898.4,1402.4 1900.1,1402.9 1901.7,1403.3 1903.4,1403.8 1905.1,1404.3 1906.7,1404.7 1908.4,1405.1 1910.0,1405.5 1911.7,1405.9 1913.3,1406.3 1915.0,1406.7 1916.7,1407.1 1918.3,1407.5 1920.0,1407.8 1921.6,1408.1 1923.3,1408.4 1924.9,1408.8 1926.6,1409.1 1928.3,1409.5 1929.9,1409.8 1931.6,1410.1 1933.2,1410.5 1934.9,1410.8 1936.5,1411.1 1938.2,1411.4 1939.9,1411.6 1941.5,1411.9 1943.2,1412.1 1944.8,1412.2 1946.5,1412.3 1948.1,1412.4 1949.8,1412.4 1951.4,1412.4 1953.1,1412.3 1954.8,1412.2 1956.4,1412.1 1958.1,1411.9 1959.7,1411.7 1961.4,1411.5 1963.0,1411.2 1964.7,1410.9 1966.4,1410.6 1968.0,1410.3 1969.7,1409.9 1971.3,1409.6 1973.0,1409.2 1974.6,1408.8 1976.3,1408.4 1978.0,1408.1 1979.6,1407.6 1981.3,1407.1 1982.9,1406.5 1984.6,1405.8 1986.2,1405.1 1987.9,1404.4 1989.5,1403.6 1991.2,1402.9 1992.9,1402.1 1994.5,1401.4 1996.2,1400.8 1997.8,1400.2 1999.5,1399.6 2001.1,1399.1 2002.8,1398.6 2004.5,1398.1 2006.1,1397.5 2007.8,1397.0 2009.4,1396.5 2011.1,1396.0 2012.7,1395.6 2014.4,1395.2 2016.1,1394.8 2017.7,1394.6 2019.4,1394.4 2021.0,1394.3 2022.7,1394.2 2024.3,1394.3 2026.0,1394.5 2027.7,1394.8 2029.3,1395.2 2031.0,1395.6 2032.6,1396.1 2034.3,1396.6 2035.9,1397.2 2037.6,1397.7 2039.2,1398.3 2040.9,1398.9 2042.6,1399.5 2044.2,1400.1 2045.9,1400.7 2047.5,1401.2 2049.2,1401.6 2050.8,1402.1 2052.5,1402.5 2054.2,1403.0 2055.8,1403.4 2057.5,1403.8 2059.1,1404.2 2060.8,1404.7 2062.4,1405.1 2064.1,1405.5 2065.8,1405.9 2067.4,1406.4 2069.1,1406.8 2070.7,1407.2 2072.4,1407.6 2074.0,1408.0"/>
<rect x="1312.0" y="867.0" width="828.3" height="607.4" fill="none" stroke="#000" stroke-width="4.0"/>
<path d="M1312.0 1474.4v14M1477.7 1474.4v14M1643.3 1474.4v14M1809.0 1474.4v14M1974.6 1474.4v14M2140.3 1474.4v14M1394.8 1474.4v8.5M1560.5 1474.4v8.5M1726.2 1474.4v8.5M1891.8 1474.4v8.5M2057.5 1474.4v8.5M1312.0 1440.7h-14.5M1312.0 1272.0h-14.5M1312.0 1103.2h-14.5M1312.0 934.5h-14.5M1312.0 1356.3h-8.5M1312.0 1187.6h-8.5M1312.0 1018.9h-8.5" stroke="#000" stroke-width="4.0" fill="none"/>
<text x="1312.3" y="1523.5" font-family='"Liberation Sans", Arial, Helvetica, sans-serif' font-size="36" font-weight="bold" text-anchor="middle" fill="#000" letter-spacing="0.6">300</text>
<text x="1478.0" y="1523.5" font-family='"Liberation Sans", Arial, Helvetica, sans-serif' font-size="36" font-weight="bold" text-anchor="middle" fill="#000" letter-spacing="0.6">400</text>
<text x="1643.6" y="1523.5" font-family='"Liberation Sans", Arial, Helvetica, sans-serif' font-size="36" font-weight="bold" text-anchor="middle" fill="#000" letter-spacing="0.6">500</text>
<text x="1809.3" y="1523.5" font-family='"Liberation Sans", Arial, Helvetica, sans-serif' font-size="36" font-weight="bold" text-anchor="middle" fill="#000" letter-spacing="0.6">600</text>
<text x="1974.9" y="1523.5" font-family='"Liberation Sans", Arial, Helvetica, sans-serif' font-size="36" font-weight="bold" text-anchor="middle" fill="#000" letter-spacing="0.6">700</text>
<text x="2140.6" y="1523.5" font-family='"Liberation Sans", Arial, Helvetica, sans-serif' font-size="36" font-weight="bold" text-anchor="middle" fill="#000" letter-spacing="0.6">800</text>
<text x="1290.0" y="1452.0" font-family='"Liberation Sans", Arial, Helvetica, sans-serif' font-size="36" font-weight="bold" text-anchor="end" fill="#000" letter-spacing="0.6">0.0</text>
<text x="1290.0" y="1283.3" font-family='"Liberation Sans", Arial, Helvetica, sans-serif' font-size="36" font-weight="bold" text-anchor="end" fill="#000" letter-spacing="0.6">0.5</text>
<text x="1290.0" y="1114.5" font-family='"Liberation Sans", Arial, Helvetica, sans-serif' font-size="36" font-weight="bold" text-anchor="end" fill="#000" letter-spacing="0.6">1.0</text>
<text x="1290.0" y="945.8" font-family='"Liberation Sans", Arial, Helvetica, sans-serif' font-size="36" font-weight="bold" text-anchor="end" fill="#000" letter-spacing="0.6">1.5</text>
<text x="1724.2" y="1598.0" font-family='"Liberation Sans", Arial, Helvetica, sans-serif' font-size="48" font-weight="bold" text-anchor="middle" fill="#000" textLength="393" lengthAdjust="spacing">Wavelength (nm)</text>
<text transform="translate(1187.5 1200.0) rotate(-90)" font-family='"Liberation Sans", Arial, Helvetica, sans-serif' font-size="48" font-weight="bold" text-anchor="middle" textLength="331" lengthAdjust="spacing">Intensity (a.u.)</text>
<line x1="1922.0" y1="911.8" x2="1988.4" y2="911.8" stroke="#000" stroke-width="4.1" stroke-linecap="round"/>
<text x="2001.0" y="921.0" font-family='"Liberation Sans", Arial, Helvetica, sans-serif' font-size="35" font-weight="bold" text-anchor="start" fill="#000" >S3</text>
<line x1="1922.0" y1="959.7" x2="1988.4" y2="959.7" stroke="#ff0000" stroke-width="4.1" stroke-linecap="round"/>
<text x="2001.0" y="968.9" font-family='"Liberation Sans", Arial, Helvetica, sans-serif' font-size="35" font-weight="bold" text-anchor="start" fill="#000" letter-spacing="0.9">Fitting</text>
<text x="1424.8" y="1223.0" font-family='"Liberation Sans", Arial, Helvetica, sans-serif' font-size="31.5" font-weight="bold" text-anchor="middle" fill="#000" letter-spacing="1.6">367</text>
<text x="1459.7" y="1084.4" font-family='"Liberation Sans", Arial, Helvetica, sans-serif' font-size="31.5" font-weight="bold" text-anchor="middle" fill="#000" letter-spacing="1.6">388</text>
<text x="1541.5" y="1130.1" font-family='"Liberation Sans", Arial, Helvetica, sans-serif' font-size="31.5" font-weight="bold" text-anchor="middle" fill="#000" letter-spacing="1.6">439</text>
<text x="1592.4" y="1346.5" font-family='"Liberation Sans", Arial, Helvetica, sans-serif' font-size="31.5" font-weight="bold" text-anchor="middle" fill="#000" letter-spacing="1.6">466</text>
<text x="1671.3" y="1308.4" font-family='"Liberation Sans", Arial, Helvetica, sans-serif' font-size="31.5" font-weight="bold" text-anchor="middle" fill="#000" letter-spacing="1.6">513</text>
<text x="1858.0" y="1375.4" font-family='"Liberation Sans", Arial, Helvetica, sans-serif' font-size="31.5" font-weight="bold" text-anchor="middle" fill="#000" letter-spacing="1.6">625</text>
<text x="2024.6" y="1378.2" font-family='"Liberation Sans", Arial, Helvetica, sans-serif' font-size="31.5" font-weight="bold" text-anchor="middle" fill="#000" letter-spacing="1.6">730</text>
<text x="29.5" y="101.5" font-family='"Noto Sans CJK SC", "Noto Sans CJK JP", "DejaVu Sans", "Liberation Sans", sans-serif' font-size="66" font-weight="500" text-anchor="start" fill="#3b2f2f" textLength="98" lengthAdjust="spacing">(a)</text>
<text x="1129.5" y="101.5" font-family='"Noto Sans CJK SC", "Noto Sans CJK JP", "DejaVu Sans", "Liberation Sans", sans-serif' font-size="66" font-weight="500" text-anchor="start" fill="#3b2f2f" textLength="99" lengthAdjust="spacing">(b)</text>
<text x="30.0" y="913.5" font-family='"Noto Sans CJK SC", "Noto Sans CJK JP", "DejaVu Sans", "Liberation Sans", sans-serif' font-size="66" font-weight="500" text-anchor="start" fill="#3b2f2f" textLength="95.5" lengthAdjust="spacing">(c)</text>
<text x="1129.0" y="913.5" font-family='"Noto Sans CJK SC", "Noto Sans CJK JP", "DejaVu Sans", "Liberation Sans", sans-serif' font-size="66" font-weight="500" text-anchor="start" fill="#3b2f2f" textLength="99" lengthAdjust="spacing">(d)</text>
<text x="478.5" y="1771.5" font-family='"Noto Sans CJK SC", "Noto Sans CJK JP", "DejaVu Sans", "Liberation Sans", sans-serif' font-size="66" font-weight="500" text-anchor="start" fill="#3b2f2f" textLength="99" lengthAdjust="spacing">(e)</text>
<path d="M694.3 1724.6H1033.5" stroke="#ff00ff" stroke-width="7.0" fill="none"/>
<path d="M1124.5 1755.4H1465.4" stroke="#00b050" stroke-width="7.0" fill="none"/>
<path d="M1033 1724.6C1055.3 1724.6 1073.3 1739.6 1073.6 1759L1076.4 1693C1076.6 1730 1096 1755.4 1125 1755.4" stroke="#00b0f0" stroke-width="6.6" fill="none" stroke-linejoin="bevel"/>
<path d="M694.3 1904.9H1036" stroke="#ff00ff" stroke-width="7.0" fill="none"/>
<path d="M1125 2064.7H1465.4" stroke="#00b050" stroke-width="7.0" fill="none"/>
<path d="M1035.5 1904.9C1058.8 1904.9 1077.2 1917.5 1077.2 1933.2V2005.2C1077.2 2038 1098.7 2064.7 1125.5 2064.7" stroke="#00b0f0" stroke-width="6.8" fill="none"/>
<path d="M691 1798.2H1462" stroke="#f4883e" stroke-width="3.4" stroke-dasharray="16.5 12.5" fill="none"/>
<rect x="788.4" y="1838.8" width="54.0" height="14.0" fill="#000"/>
<rect x="1155.6" y="1771.3" width="53.2" height="12.8" fill="#000"/>
<rect x="1354.0" y="1970.8" width="52.3" height="11.8" fill="#000"/>
<rect x="1252.7" y="2027.3" width="51.5" height="11.8" fill="#000"/>
<text x="935.4" y="1836.8" font-family='"Liberation Sans", Arial, Helvetica, sans-serif' font-size="30.5" font-weight="bold" text-anchor="middle" fill="#000" textLength="123" lengthAdjust="spacingAndGlyphs">Defects</text>
<text x="941.0" y="1878.4" font-family='"Liberation Sans", Arial, Helvetica, sans-serif' font-size="30.5" font-weight="bold" text-anchor="middle" fill="#000" textLength="94" lengthAdjust="spacingAndGlyphs">levels</text>
<text x="1225.5" y="1790.3" font-family='"Liberation Sans", Arial, Helvetica, sans-serif' font-size="42" font-weight="bold" text-anchor="start" fill="#000" >Zn<tspan font-size="28" dy="9" dx="1">i</tspan></text>
<text x="1505.3" y="1824.5" font-family='"Liberation Sans", Arial, Helvetica, sans-serif' font-size="57" font-weight="bold" text-anchor="start" fill="#000" >E<tspan font-size="38" dy="12.3">F</tspan></text>
<text x="1412.2" y="1988.4" font-family='"Liberation Sans", Arial, Helvetica, sans-serif' font-size="42" font-weight="bold" text-anchor="start" fill="#000" >V<tspan font-size="30" dy="9">O</tspan></text>
<text x="1310.8" y="2045.6" font-family='"Liberation Sans", Arial, Helvetica, sans-serif' font-size="42" font-weight="bold" text-anchor="start" fill="#000" >V<tspan font-size="30" dy="10">Zn</tspan></text>
<rect x="677.7" y="2179.6" width="369" height="275.4" fill="#ff80ff" stroke="#c466d6" stroke-width="2"/>
<rect x="1136" y="2179.6" width="386.6" height="275.4" fill="#54c27d" stroke="#4a7fb5" stroke-width="2"/>
<rect x="1046.7" y="2179.6" width="89.3" height="275.4" fill="#f7f7f7" stroke="#4a7fb5" stroke-width="2"/>
<text x="788.5" y="2144.3" font-family='"Liberation Sans", Arial, Helvetica, sans-serif' font-size="44" font-weight="bold" text-anchor="start" fill="#ff80ff" letter-spacing="0.6">ZnFe<tspan font-size="26" dy="8.5">2</tspan><tspan dy="-8.5">O</tspan><tspan font-size="26" dy="8.5">4</tspan></text>
<text x="1108.2" y="2139.0" font-family='"Liberation Sans", Arial, Helvetica, sans-serif' font-size="32" font-weight="bold" text-anchor="middle" fill="#000" textLength="139" lengthAdjust="spacingAndGlyphs">Interface</text>
<text x="1287.2" y="2144.3" font-family='"Liberation Sans", Arial, Helvetica, sans-serif' font-size="43" font-weight="bold" text-anchor="start" fill="#5a9e50" >ZnO</text>
<rect x="1013.2" y="2203.2" width="13.6" height="4.8" fill="#000"/>
<path d="M1152.3 2207.1h24M1164.3 2195.1v24" stroke="#000" stroke-width="4.1" fill="none"/>
<path d="M1133 2207.6H1072" stroke="#ffc000" stroke-width="3.6" stroke-dasharray="9 7" fill="none"/>
<path d="M1072.5 2198.1L1057 2207.6L1072.5 2217.1" stroke="#ffc000" stroke-width="3.6" fill="none" stroke-linejoin="miter"/>
<rect x="1013.2" y="2261.6" width="13.6" height="4.8" fill="#000"/>
<path d="M1152.3 2265.5h24M1164.3 2253.5v24" stroke="#000" stroke-width="4.1" fill="none"/>
<path d="M1133 2266.0H1072" stroke="#ffc000" stroke-width="3.6" stroke-dasharray="9 7" fill="none"/>
<path d="M1072.5 2256.5L1057 2266.0L1072.5 2275.5" stroke="#ffc000" stroke-width="3.6" fill="none" stroke-linejoin="miter"/>
<rect x="1013.2" y="2319.9" width="13.6" height="4.8" fill="#000"/>
<path d="M1152.3 2323.8h24M1164.3 2311.8v24" stroke="#000" stroke-width="4.1" fill="none"/>
<path d="M1133 2324.3H1072" stroke="#ffc000" stroke-width="3.6" stroke-dasharray="9 7" fill="none"/>
<path d="M1072.5 2314.8L1057 2324.3L1072.5 2333.8" stroke="#ffc000" stroke-width="3.6" fill="none" stroke-linejoin="miter"/>
<rect x="1013.2" y="2378.3" width="13.6" height="4.8" fill="#000"/>
<path d="M1152.3 2382.2h24M1164.3 2370.2v24" stroke="#000" stroke-width="4.1" fill="none"/>
<path d="M1133 2382.7H1072" stroke="#ffc000" stroke-width="3.6" stroke-dasharray="9 7" fill="none"/>
<path d="M1072.5 2373.2L1057 2382.7L1072.5 2392.2" stroke="#ffc000" stroke-width="3.6" fill="none" stroke-linejoin="miter"/>
<rect x="1013.2" y="2436.6" width="13.6" height="4.8" fill="#000"/>
<path d="M1152.3 2440.5h24M1164.3 2428.5v24" stroke="#000" stroke-width="4.1" fill="none"/>
<path d="M1133 2441.0H1072" stroke="#ffc000" stroke-width="3.6" stroke-dasharray="9 7" fill="none"/>
<path d="M1072.5 2431.5L1057 2441.0L1072.5 2450.5" stroke="#ffc000" stroke-width="3.6" fill="none" stroke-linejoin="miter"/>
<text x="1078.5" y="2335.7" font-family='"Liberation Serif", "Times New Roman", serif' font-size="44" font-weight="bold" font-style="italic" fill="#000">E</text>
<path d="M1077.5 2297.5H1104M1099 2293.5L1105.5 2297.5L1099 2301.5" stroke="#000" stroke-width="2" fill="none"/>
</svg>
</body></html>
